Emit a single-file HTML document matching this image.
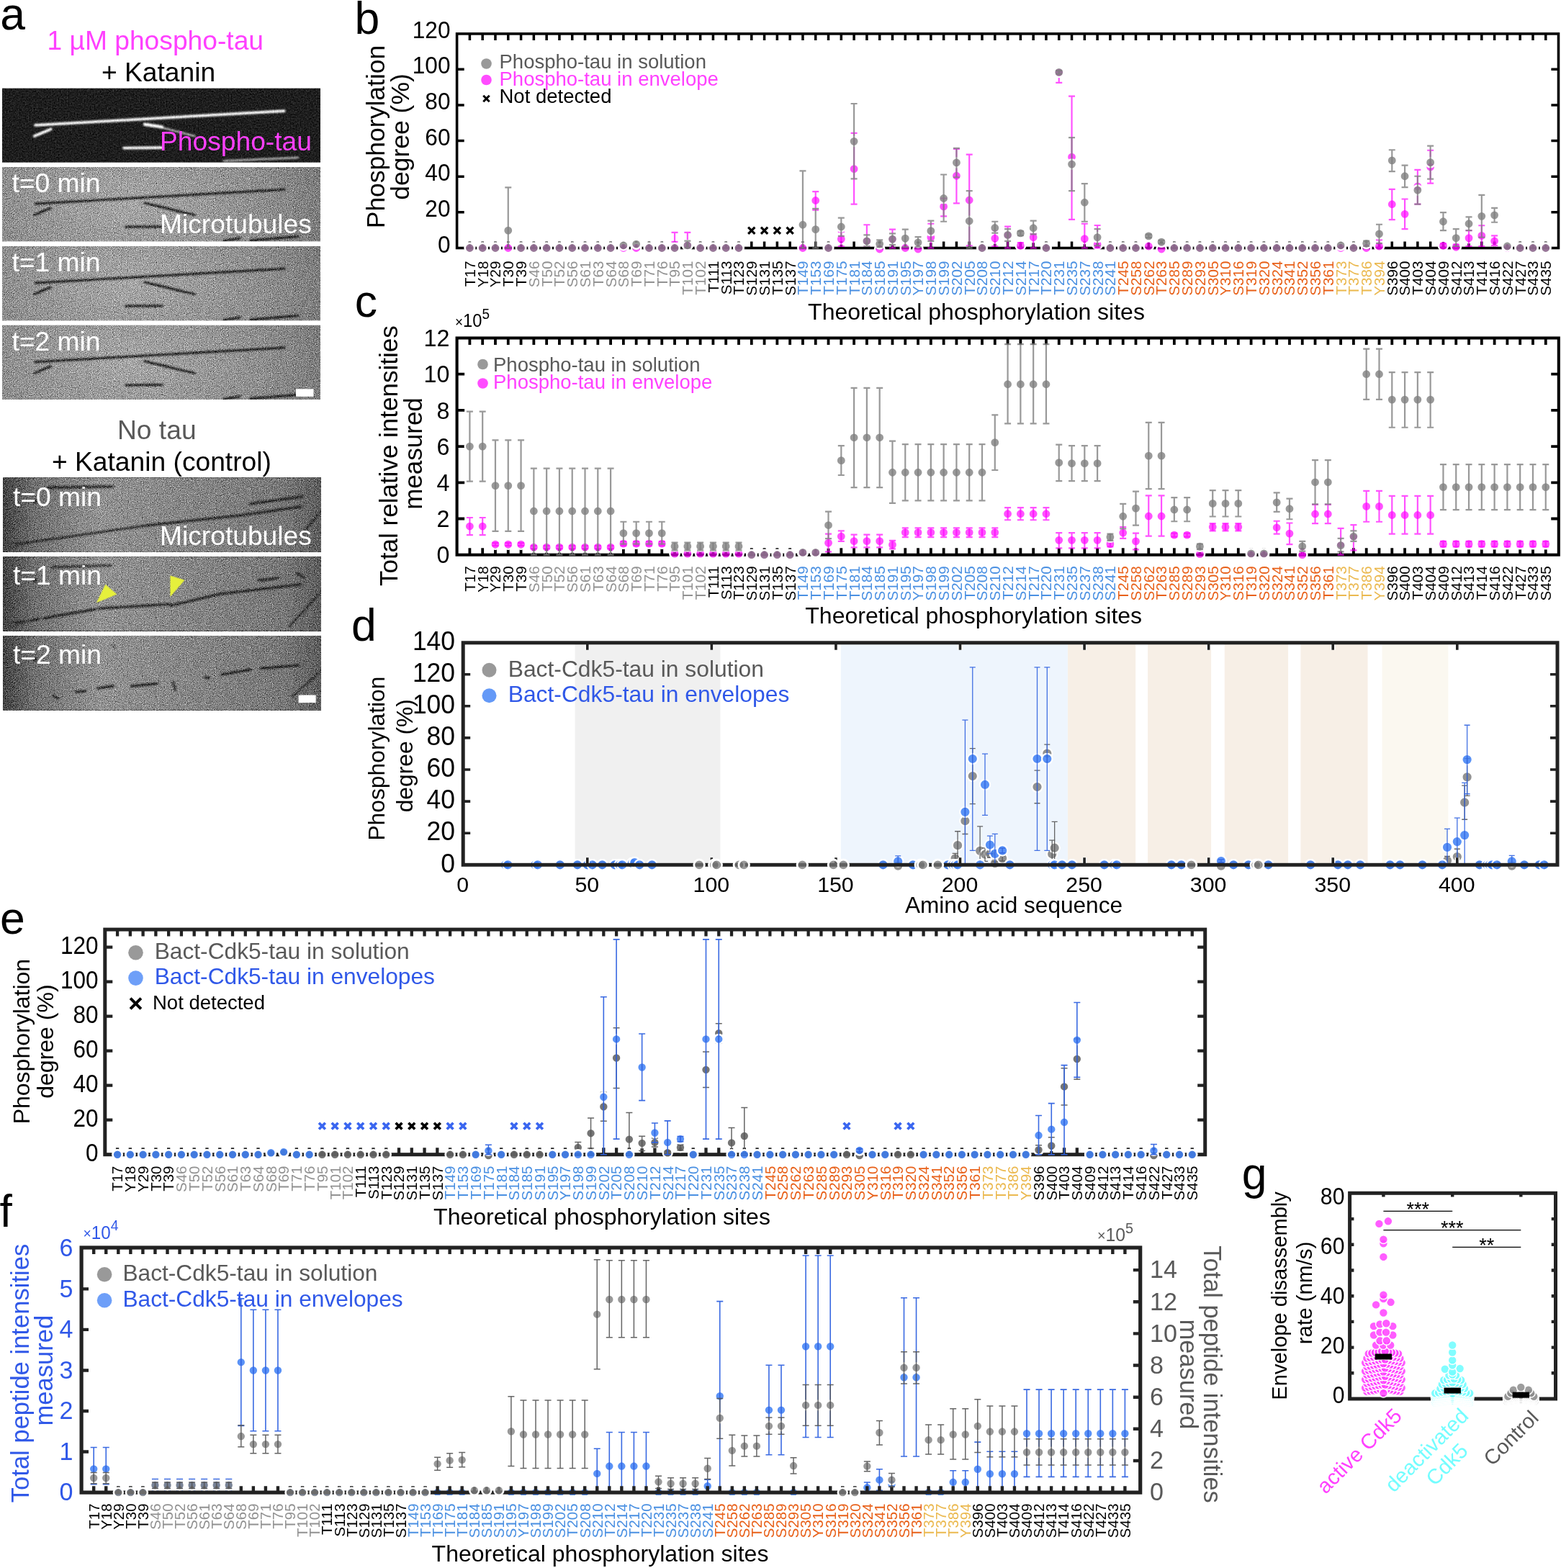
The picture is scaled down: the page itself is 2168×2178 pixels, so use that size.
<!DOCTYPE html>
<html lang="en"><head><meta charset="utf-8"><title>Figure</title>
<style>html,body{margin:0;padding:0;background:#fff}body{width:2168px;height:2178px;overflow:hidden;font-family:"Liberation Sans",Arial,Helvetica,sans-serif}</style></head>
<body>
<svg xmlns="http://www.w3.org/2000/svg" width="2168" height="2178" viewBox="0 0 2168 2178" font-family="'Liberation Sans', Arial, Helvetica, sans-serif" style="display:block">
<rect width="2168" height="2178" fill="#fff"/>
<defs>
<filter id="nz" x="0" y="0" width="100%" height="100%" color-interpolation-filters="sRGB">
<feTurbulence type="fractalNoise" baseFrequency="0.9" numOctaves="2" seed="7" result="t"/>
<feColorMatrix in="t" type="matrix" values="0.6 0.6 0.6 0 -0.4  0.6 0.6 0.6 0 -0.4  0.6 0.6 0.6 0 -0.4  0 0 0 0 1" result="g"/>
<feComposite in="SourceGraphic" in2="g" operator="arithmetic" k1="0" k2="1" k3="1.0" k4="-0.5"/>
</filter>
<filter id="nzd" x="0" y="0" width="100%" height="100%" color-interpolation-filters="sRGB">
<feTurbulence type="fractalNoise" baseFrequency="0.5" numOctaves="2" seed="11" result="t"/>
<feColorMatrix in="t" type="matrix" values="0.6 0.6 0.6 0 -0.4  0.6 0.6 0.6 0 -0.4  0.6 0.6 0.6 0 -0.4  0 0 0 0 1" result="g"/>
<feComposite in="SourceGraphic" in2="g" operator="arithmetic" k1="0" k2="1" k3="0.3" k4="-0.15"/>
</filter>
<filter id="bl" x="-5%" y="-50%" width="110%" height="200%"><feGaussianBlur stdDeviation="0.8"/></filter>
<filter id="bl2" x="-5%" y="-50%" width="110%" height="200%"><feGaussianBlur stdDeviation="1.3"/></filter>
<radialGradient id="gr1" cx="0.4" cy="0.5" r="0.75" gradientTransform="translate(0 0.5) scale(1 2.5) translate(0 -0.5)">
<stop offset="0" stop-color="#a6a6a6"/><stop offset="0.6" stop-color="#8c8c8c"/><stop offset="1" stop-color="#6e6e6e"/></radialGradient>
<linearGradient id="gr2" x1="0" x2="1" y1="0" y2="0">
<stop offset="0" stop-color="#444"/><stop offset="0.1" stop-color="#707070"/><stop offset="0.3" stop-color="#929292"/><stop offset="0.6" stop-color="#858585"/><stop offset="0.88" stop-color="#787878"/><stop offset="1" stop-color="#5c5c5c"/></linearGradient>
</defs>
<svg x="3" y="122.4" width="442" height="103.3" viewBox="0 0 442 103.3" overflow="hidden"><g filter="url(#nzd)"><rect x="0" y="0" width="442" height="103.3" fill="#1e1e1e"/><g filter="url(#bl2)" stroke="#ffffff" stroke-linecap="round" fill="none"><line x1="46" y1="51.5" x2="391.7" y2="31.7" stroke-width="3.8" opacity="1"/><line x1="44.8" y1="66.6" x2="67.6" y2="57" stroke-width="3.8" opacity="1"/><line x1="198" y1="50.3" x2="222" y2="54" stroke-width="4.5" opacity="1"/><line x1="215" y1="53" x2="267.3" y2="66.6" stroke-width="2.5" opacity="0.7"/><line x1="169.2" y1="83.3" x2="221.9" y2="82.8" stroke-width="3.8" opacity="1"/><line x1="308" y1="101.2" x2="410.9" y2="96.5" stroke-width="3" opacity="0.6"/></g></g></svg>
<svg x="3" y="232" width="442" height="103.3" viewBox="0 0 442 103.3" overflow="hidden"><g filter="url(#nz)"><rect x="0" y="0" width="442" height="103.3" fill="url(#gr1)"/><g filter="url(#bl)" stroke="#1c1c1c" stroke-linecap="round" fill="none"><line x1="46" y1="51" x2="391.7" y2="31.2" stroke-width="3" opacity="1"/><line x1="44.8" y1="66.6" x2="67.6" y2="57" stroke-width="3" opacity="1"/><line x1="198" y1="50" x2="267.3" y2="66.6" stroke-width="3" opacity="1"/><line x1="172" y1="83.3" x2="221.9" y2="82.8" stroke-width="3" opacity="1"/><line x1="308" y1="102.5" x2="330" y2="99" stroke-width="3" opacity="1"/><line x1="345" y1="102" x2="410.9" y2="96.5" stroke-width="3" opacity="1"/></g></g></svg>
<svg x="3" y="342" width="442" height="103.3" viewBox="0 0 442 103.3" overflow="hidden"><g filter="url(#nz)"><rect x="0" y="0" width="442" height="103.3" fill="url(#gr1)"/><g filter="url(#bl)" stroke="#1c1c1c" stroke-linecap="round" fill="none"><line x1="46" y1="51" x2="391.7" y2="31.2" stroke-width="3" opacity="1"/><line x1="44.8" y1="66.6" x2="67.6" y2="57" stroke-width="3" opacity="1"/><line x1="198" y1="50" x2="267.3" y2="66.6" stroke-width="3" opacity="1"/><line x1="172" y1="83.3" x2="221.9" y2="82.8" stroke-width="3" opacity="1"/><line x1="308" y1="102.5" x2="330" y2="99" stroke-width="3" opacity="1"/><line x1="345" y1="102" x2="410.9" y2="96.5" stroke-width="3" opacity="1"/></g></g></svg>
<svg x="3" y="451.8" width="442" height="103.3" viewBox="0 0 442 103.3" overflow="hidden"><g filter="url(#nz)"><rect x="0" y="0" width="442" height="103.3" fill="url(#gr1)"/><g filter="url(#bl)" stroke="#1c1c1c" stroke-linecap="round" fill="none"><line x1="46" y1="51" x2="391.7" y2="31.2" stroke-width="3" opacity="1"/><line x1="44.8" y1="66.6" x2="67.6" y2="57" stroke-width="3" opacity="1"/><line x1="198" y1="50" x2="267.3" y2="66.6" stroke-width="3" opacity="1"/><line x1="172" y1="83.3" x2="221.9" y2="82.8" stroke-width="3" opacity="1"/><line x1="308" y1="102.5" x2="330" y2="99" stroke-width="3" opacity="1"/><line x1="345" y1="102" x2="410.9" y2="96.5" stroke-width="3" opacity="1"/></g></g><rect x="408" y="88.5" width="24.5" height="10.5" fill="#fff"/></svg>
<svg x="4.6" y="663.7" width="442" height="103.3" viewBox="0 0 442 103.3" overflow="hidden"><g filter="url(#nz)"><rect x="0" y="0" width="442" height="103.3" fill="url(#gr2)"/><g filter="url(#bl)" stroke="#1c1c1c" stroke-linecap="round" fill="none"><line x1="16" y1="92.5" x2="200" y2="66" stroke-width="2.6" opacity="1"/><line x1="200" y1="66" x2="330" y2="52" stroke-width="2.9" opacity="1"/><line x1="330" y1="52" x2="413" y2="40" stroke-width="2.9" opacity="1"/><line x1="62" y1="13.5" x2="152" y2="12" stroke-width="3.4" opacity="0.9"/><line x1="44" y1="33" x2="45" y2="33" stroke-width="5" opacity="0.9"/><line x1="343" y1="36" x2="416" y2="26" stroke-width="2.8" opacity="1"/><line x1="441" y1="47" x2="416" y2="76" stroke-width="2.2" opacity="0.8"/></g></g></svg>
<svg x="4.6" y="773.2" width="442" height="103.3" viewBox="0 0 442 103.3" overflow="hidden"><g filter="url(#nz)"><rect x="0" y="0" width="442" height="103.3" fill="url(#gr2)"/><g filter="url(#bl)" stroke="#1c1c1c" stroke-linecap="round" fill="none"><line x1="16" y1="92.5" x2="30" y2="90" stroke-width="2.9" opacity="1"/><line x1="36" y1="89" x2="50" y2="86.5" stroke-width="2.9" opacity="1"/><line x1="56" y1="85.5" x2="128" y2="73" stroke-width="2.9" opacity="1"/><line x1="132" y1="72" x2="231" y2="66" stroke-width="2.9" opacity="1"/><line x1="232" y1="68" x2="300" y2="52" stroke-width="2.9" opacity="1"/><line x1="300" y1="52" x2="413" y2="38.5" stroke-width="2.9" opacity="1"/><line x1="68" y1="14.5" x2="150" y2="12" stroke-width="3.2" opacity="0.8"/><line x1="44" y1="33" x2="45" y2="33" stroke-width="5" opacity="0.9"/><line x1="355" y1="33" x2="382" y2="29.5" stroke-width="3" opacity="1"/><line x1="408" y1="23.5" x2="418" y2="29" stroke-width="3" opacity="1"/><line x1="441" y1="49" x2="397" y2="97" stroke-width="2.2" opacity="0.8"/></g></g><polygon points="129.3,63.9 141.8,38.4 157.7,52.3" fill="#e6f03c"/><polygon points="231.8,26.2 251.9,32.5 231.8,55.8" fill="#e6f03c"/></svg>
<svg x="4.6" y="883" width="442" height="103.3" viewBox="0 0 442 103.3" overflow="hidden"><g filter="url(#nz)"><rect x="0" y="0" width="442" height="103.3" fill="url(#gr2)"/><g filter="url(#bl)" stroke="#1c1c1c" stroke-linecap="round" fill="none"><line x1="70" y1="84" x2="76" y2="87" stroke-width="2.9" opacity="1"/><line x1="101" y1="78" x2="114" y2="77" stroke-width="2.9" opacity="1"/><line x1="131" y1="73" x2="153" y2="70" stroke-width="2.9" opacity="1"/><line x1="178" y1="70" x2="214" y2="66.5" stroke-width="2.9" opacity="1"/><line x1="236" y1="64.5" x2="238.5" y2="75" stroke-width="2.8" opacity="1"/><line x1="280" y1="58" x2="286" y2="58.5" stroke-width="2.9" opacity="1"/><line x1="303" y1="54" x2="344" y2="47" stroke-width="2.9" opacity="1"/><line x1="358" y1="45.5" x2="410" y2="41" stroke-width="2.9" opacity="1"/><line x1="441" y1="49" x2="401" y2="85" stroke-width="2.2" opacity="0.8"/><line x1="150" y1="12" x2="156" y2="17" stroke-width="2" opacity="0.6"/><line x1="44" y1="33" x2="45" y2="33" stroke-width="5" opacity="0.9"/></g></g><rect x="410" y="82.5" width="24.2" height="10.7" fill="#fff"/></svg>
<text x="65.5" y="68.7" font-size="37.2" fill="#ff40ff" text-anchor="start">1 µM phospho-tau</text>
<text x="141" y="113" font-size="37.2" fill="#000" text-anchor="start">+ Katanin</text>
<text x="222" y="209.3" font-size="37.2" fill="#ff40ff" text-anchor="start">Phospho-tau</text>
<text x="16.5" y="266.7" font-size="37.2" fill="#fff" text-anchor="start">t=0 min</text>
<text x="16.5" y="376.7" font-size="37.2" fill="#fff" text-anchor="start">t=1 min</text>
<text x="16.5" y="486.5" font-size="37.2" fill="#fff" text-anchor="start">t=2 min</text>
<text x="222" y="324.1" font-size="37.2" fill="#fff" text-anchor="start">Microtubules</text>
<text x="163" y="609.6" font-size="37.2" fill="#595959" text-anchor="start">No tau</text>
<text x="72" y="654" font-size="37.2" fill="#000" text-anchor="start">+ Katanin (control)</text>
<text x="18" y="702.9" font-size="37.2" fill="#fff" text-anchor="start">t=0 min</text>
<text x="18" y="812.4" font-size="37.2" fill="#fff" text-anchor="start">t=1 min</text>
<text x="18" y="922.2" font-size="37.2" fill="#fff" text-anchor="start">t=2 min</text>
<text x="222" y="757" font-size="37.2" fill="#fff" text-anchor="start">Microtubules</text>
<text x="0.2" y="40.5" font-size="62.5" fill="#000" text-anchor="start">a</text>
<path d="M652.4 46.9v9.1M652.4 344.5v-9.1M670.19 46.9v9.1M670.19 344.5v-9.1M687.98 46.9v9.1M687.98 344.5v-9.1M705.77 46.9v9.1M705.77 344.5v-9.1M723.56 46.9v9.1M723.56 344.5v-9.1M741.35 46.9v9.1M741.35 344.5v-9.1M759.14 46.9v9.1M759.14 344.5v-9.1M776.93 46.9v9.1M776.93 344.5v-9.1M794.72 46.9v9.1M794.72 344.5v-9.1M812.51 46.9v9.1M812.51 344.5v-9.1M830.3 46.9v9.1M830.3 344.5v-9.1M848.09 46.9v9.1M848.09 344.5v-9.1M865.88 46.9v9.1M865.88 344.5v-9.1M883.67 46.9v9.1M883.67 344.5v-9.1M901.46 46.9v9.1M901.46 344.5v-9.1M919.25 46.9v9.1M919.25 344.5v-9.1M937.04 46.9v9.1M937.04 344.5v-9.1M954.83 46.9v9.1M954.83 344.5v-9.1M972.62 46.9v9.1M972.62 344.5v-9.1M990.41 46.9v9.1M990.41 344.5v-9.1M1008.2 46.9v9.1M1008.2 344.5v-9.1M1025.99 46.9v9.1M1025.99 344.5v-9.1M1043.78 46.9v9.1M1043.78 344.5v-9.1M1061.57 46.9v9.1M1061.57 344.5v-9.1M1079.36 46.9v9.1M1079.36 344.5v-9.1M1097.15 46.9v9.1M1097.15 344.5v-9.1M1114.94 46.9v9.1M1114.94 344.5v-9.1M1132.73 46.9v9.1M1132.73 344.5v-9.1M1150.52 46.9v9.1M1150.52 344.5v-9.1M1168.31 46.9v9.1M1168.31 344.5v-9.1M1186.1 46.9v9.1M1186.1 344.5v-9.1M1203.89 46.9v9.1M1203.89 344.5v-9.1M1221.68 46.9v9.1M1221.68 344.5v-9.1M1239.47 46.9v9.1M1239.47 344.5v-9.1M1257.26 46.9v9.1M1257.26 344.5v-9.1M1275.05 46.9v9.1M1275.05 344.5v-9.1M1292.84 46.9v9.1M1292.84 344.5v-9.1M1310.63 46.9v9.1M1310.63 344.5v-9.1M1328.42 46.9v9.1M1328.42 344.5v-9.1M1346.21 46.9v9.1M1346.21 344.5v-9.1M1364 46.9v9.1M1364 344.5v-9.1M1381.79 46.9v9.1M1381.79 344.5v-9.1M1399.58 46.9v9.1M1399.58 344.5v-9.1M1417.37 46.9v9.1M1417.37 344.5v-9.1M1435.16 46.9v9.1M1435.16 344.5v-9.1M1452.95 46.9v9.1M1452.95 344.5v-9.1M1470.74 46.9v9.1M1470.74 344.5v-9.1M1488.53 46.9v9.1M1488.53 344.5v-9.1M1506.32 46.9v9.1M1506.32 344.5v-9.1M1524.11 46.9v9.1M1524.11 344.5v-9.1M1541.9 46.9v9.1M1541.9 344.5v-9.1M1559.69 46.9v9.1M1559.69 344.5v-9.1M1577.48 46.9v9.1M1577.48 344.5v-9.1M1595.27 46.9v9.1M1595.27 344.5v-9.1M1613.06 46.9v9.1M1613.06 344.5v-9.1M1630.85 46.9v9.1M1630.85 344.5v-9.1M1648.64 46.9v9.1M1648.64 344.5v-9.1M1666.43 46.9v9.1M1666.43 344.5v-9.1M1684.22 46.9v9.1M1684.22 344.5v-9.1M1702.01 46.9v9.1M1702.01 344.5v-9.1M1719.8 46.9v9.1M1719.8 344.5v-9.1M1737.59 46.9v9.1M1737.59 344.5v-9.1M1755.38 46.9v9.1M1755.38 344.5v-9.1M1773.17 46.9v9.1M1773.17 344.5v-9.1M1790.96 46.9v9.1M1790.96 344.5v-9.1M1808.75 46.9v9.1M1808.75 344.5v-9.1M1826.54 46.9v9.1M1826.54 344.5v-9.1M1844.33 46.9v9.1M1844.33 344.5v-9.1M1862.12 46.9v9.1M1862.12 344.5v-9.1M1879.91 46.9v9.1M1879.91 344.5v-9.1M1897.7 46.9v9.1M1897.7 344.5v-9.1M1915.49 46.9v9.1M1915.49 344.5v-9.1M1933.28 46.9v9.1M1933.28 344.5v-9.1M1951.07 46.9v9.1M1951.07 344.5v-9.1M1968.86 46.9v9.1M1968.86 344.5v-9.1M1986.65 46.9v9.1M1986.65 344.5v-9.1M2004.44 46.9v9.1M2004.44 344.5v-9.1M2022.23 46.9v9.1M2022.23 344.5v-9.1M2040.02 46.9v9.1M2040.02 344.5v-9.1M2057.81 46.9v9.1M2057.81 344.5v-9.1M2075.6 46.9v9.1M2075.6 344.5v-9.1M2093.39 46.9v9.1M2093.39 344.5v-9.1M2111.18 46.9v9.1M2111.18 344.5v-9.1M2128.97 46.9v9.1M2128.97 344.5v-9.1M2146.76 46.9v9.1M2146.76 344.5v-9.1M634.6 294.87h10.1M634.6 245.24h10.1M634.6 195.61h10.1M634.6 145.98h10.1M634.6 96.35h10.1M2164.5 294.87h-10.1M2164.5 245.24h-10.1M2164.5 195.61h-10.1M2164.5 145.98h-10.1M2164.5 96.35h-10.1" stroke="#000" stroke-width="3.5" fill="none"/><rect x="634.6" y="46.9" width="1529.9" height="297.6" fill="none" stroke="#000" stroke-width="3.6"/>
<text transform="translate(625.5 350.5) scale(0.93 1)" font-size="34" fill="#000" text-anchor="end">0</text><text transform="translate(625.5 300.87) scale(0.93 1)" font-size="34" fill="#000" text-anchor="end">20</text><text transform="translate(625.5 251.24) scale(0.93 1)" font-size="34" fill="#000" text-anchor="end">40</text><text transform="translate(625.5 201.61) scale(0.93 1)" font-size="34" fill="#000" text-anchor="end">60</text><text transform="translate(625.5 151.98) scale(0.93 1)" font-size="34" fill="#000" text-anchor="end">80</text><text transform="translate(625.5 102.35) scale(0.93 1)" font-size="34" fill="#000" text-anchor="end">100</text><text transform="translate(625.5 52.72) scale(0.93 1)" font-size="34" fill="#000" text-anchor="end">120</text>
<g><text transform="translate(659.81 362.5) rotate(-90)" font-size="20.7" fill="#000" text-anchor="end">T17</text><text transform="translate(677.6 362.5) rotate(-90)" font-size="20.7" fill="#000" text-anchor="end">Y18</text><text transform="translate(695.39 362.5) rotate(-90)" font-size="20.7" fill="#000" text-anchor="end">Y29</text><text transform="translate(713.18 362.5) rotate(-90)" font-size="20.7" fill="#000" text-anchor="end">T30</text><text transform="translate(730.97 362.5) rotate(-90)" font-size="20.7" fill="#000" text-anchor="end">T39</text><text transform="translate(748.76 362.5) rotate(-90)" font-size="20.7" fill="#929292" text-anchor="end">S46</text><text transform="translate(766.55 362.5) rotate(-90)" font-size="20.7" fill="#929292" text-anchor="end">T50</text><text transform="translate(784.34 362.5) rotate(-90)" font-size="20.7" fill="#929292" text-anchor="end">T52</text><text transform="translate(802.13 362.5) rotate(-90)" font-size="20.7" fill="#929292" text-anchor="end">S56</text><text transform="translate(819.92 362.5) rotate(-90)" font-size="20.7" fill="#929292" text-anchor="end">S61</text><text transform="translate(837.71 362.5) rotate(-90)" font-size="20.7" fill="#929292" text-anchor="end">T63</text><text transform="translate(855.5 362.5) rotate(-90)" font-size="20.7" fill="#929292" text-anchor="end">S64</text><text transform="translate(873.29 362.5) rotate(-90)" font-size="20.7" fill="#929292" text-anchor="end">S68</text><text transform="translate(891.08 362.5) rotate(-90)" font-size="20.7" fill="#929292" text-anchor="end">T69</text><text transform="translate(908.87 362.5) rotate(-90)" font-size="20.7" fill="#929292" text-anchor="end">T71</text><text transform="translate(926.66 362.5) rotate(-90)" font-size="20.7" fill="#929292" text-anchor="end">T76</text><text transform="translate(944.45 362.5) rotate(-90)" font-size="20.7" fill="#929292" text-anchor="end">T95</text><text transform="translate(962.24 362.5) rotate(-90)" font-size="20.7" fill="#929292" text-anchor="end">T101</text><text transform="translate(980.03 362.5) rotate(-90)" font-size="20.7" fill="#929292" text-anchor="end">T102</text><text transform="translate(997.82 362.5) rotate(-90)" font-size="20.7" fill="#000" text-anchor="end">T111</text><text transform="translate(1015.61 362.5) rotate(-90)" font-size="20.7" fill="#000" text-anchor="end">S113</text><text transform="translate(1033.4 362.5) rotate(-90)" font-size="20.7" fill="#000" text-anchor="end">T123</text><text transform="translate(1051.19 362.5) rotate(-90)" font-size="20.7" fill="#000" text-anchor="end">S129</text><text transform="translate(1068.98 362.5) rotate(-90)" font-size="20.7" fill="#000" text-anchor="end">S131</text><text transform="translate(1086.77 362.5) rotate(-90)" font-size="20.7" fill="#000" text-anchor="end">T135</text><text transform="translate(1104.56 362.5) rotate(-90)" font-size="20.7" fill="#000" text-anchor="end">S137</text><text transform="translate(1122.35 362.5) rotate(-90)" font-size="20.7" fill="#4a90e2" text-anchor="end">T149</text><text transform="translate(1140.14 362.5) rotate(-90)" font-size="20.7" fill="#4a90e2" text-anchor="end">T153</text><text transform="translate(1157.93 362.5) rotate(-90)" font-size="20.7" fill="#4a90e2" text-anchor="end">T169</text><text transform="translate(1175.72 362.5) rotate(-90)" font-size="20.7" fill="#4a90e2" text-anchor="end">T175</text><text transform="translate(1193.51 362.5) rotate(-90)" font-size="20.7" fill="#4a90e2" text-anchor="end">T181</text><text transform="translate(1211.3 362.5) rotate(-90)" font-size="20.7" fill="#4a90e2" text-anchor="end">S184</text><text transform="translate(1229.09 362.5) rotate(-90)" font-size="20.7" fill="#4a90e2" text-anchor="end">S185</text><text transform="translate(1246.88 362.5) rotate(-90)" font-size="20.7" fill="#4a90e2" text-anchor="end">S191</text><text transform="translate(1264.67 362.5) rotate(-90)" font-size="20.7" fill="#4a90e2" text-anchor="end">S195</text><text transform="translate(1282.46 362.5) rotate(-90)" font-size="20.7" fill="#4a90e2" text-anchor="end">Y197</text><text transform="translate(1300.25 362.5) rotate(-90)" font-size="20.7" fill="#4a90e2" text-anchor="end">S198</text><text transform="translate(1318.04 362.5) rotate(-90)" font-size="20.7" fill="#4a90e2" text-anchor="end">S199</text><text transform="translate(1335.83 362.5) rotate(-90)" font-size="20.7" fill="#4a90e2" text-anchor="end">S202</text><text transform="translate(1353.62 362.5) rotate(-90)" font-size="20.7" fill="#4a90e2" text-anchor="end">T205</text><text transform="translate(1371.41 362.5) rotate(-90)" font-size="20.7" fill="#4a90e2" text-anchor="end">S208</text><text transform="translate(1389.2 362.5) rotate(-90)" font-size="20.7" fill="#4a90e2" text-anchor="end">S210</text><text transform="translate(1406.99 362.5) rotate(-90)" font-size="20.7" fill="#4a90e2" text-anchor="end">T212</text><text transform="translate(1424.78 362.5) rotate(-90)" font-size="20.7" fill="#4a90e2" text-anchor="end">S214</text><text transform="translate(1442.57 362.5) rotate(-90)" font-size="20.7" fill="#4a90e2" text-anchor="end">T217</text><text transform="translate(1460.36 362.5) rotate(-90)" font-size="20.7" fill="#4a90e2" text-anchor="end">T220</text><text transform="translate(1478.15 362.5) rotate(-90)" font-size="20.7" fill="#4a90e2" text-anchor="end">T231</text><text transform="translate(1495.94 362.5) rotate(-90)" font-size="20.7" fill="#4a90e2" text-anchor="end">S235</text><text transform="translate(1513.73 362.5) rotate(-90)" font-size="20.7" fill="#4a90e2" text-anchor="end">S237</text><text transform="translate(1531.52 362.5) rotate(-90)" font-size="20.7" fill="#4a90e2" text-anchor="end">S238</text><text transform="translate(1549.31 362.5) rotate(-90)" font-size="20.7" fill="#4a90e2" text-anchor="end">S241</text><text transform="translate(1567.1 362.5) rotate(-90)" font-size="20.7" fill="#e8611a" text-anchor="end">T245</text><text transform="translate(1584.89 362.5) rotate(-90)" font-size="20.7" fill="#e8611a" text-anchor="end">S258</text><text transform="translate(1602.68 362.5) rotate(-90)" font-size="20.7" fill="#e8611a" text-anchor="end">S262</text><text transform="translate(1620.47 362.5) rotate(-90)" font-size="20.7" fill="#e8611a" text-anchor="end">T263</text><text transform="translate(1638.26 362.5) rotate(-90)" font-size="20.7" fill="#e8611a" text-anchor="end">S285</text><text transform="translate(1656.05 362.5) rotate(-90)" font-size="20.7" fill="#e8611a" text-anchor="end">S289</text><text transform="translate(1673.84 362.5) rotate(-90)" font-size="20.7" fill="#e8611a" text-anchor="end">S293</text><text transform="translate(1691.63 362.5) rotate(-90)" font-size="20.7" fill="#e8611a" text-anchor="end">S305</text><text transform="translate(1709.42 362.5) rotate(-90)" font-size="20.7" fill="#e8611a" text-anchor="end">Y310</text><text transform="translate(1727.21 362.5) rotate(-90)" font-size="20.7" fill="#e8611a" text-anchor="end">S316</text><text transform="translate(1745 362.5) rotate(-90)" font-size="20.7" fill="#e8611a" text-anchor="end">T319</text><text transform="translate(1762.79 362.5) rotate(-90)" font-size="20.7" fill="#e8611a" text-anchor="end">S320</text><text transform="translate(1780.58 362.5) rotate(-90)" font-size="20.7" fill="#e8611a" text-anchor="end">S324</text><text transform="translate(1798.37 362.5) rotate(-90)" font-size="20.7" fill="#e8611a" text-anchor="end">S341</text><text transform="translate(1816.16 362.5) rotate(-90)" font-size="20.7" fill="#e8611a" text-anchor="end">S352</text><text transform="translate(1833.95 362.5) rotate(-90)" font-size="20.7" fill="#e8611a" text-anchor="end">S356</text><text transform="translate(1851.74 362.5) rotate(-90)" font-size="20.7" fill="#e8611a" text-anchor="end">T361</text><text transform="translate(1869.53 362.5) rotate(-90)" font-size="20.7" fill="#ebb950" text-anchor="end">T373</text><text transform="translate(1887.32 362.5) rotate(-90)" font-size="20.7" fill="#ebb950" text-anchor="end">T377</text><text transform="translate(1905.11 362.5) rotate(-90)" font-size="20.7" fill="#ebb950" text-anchor="end">T386</text><text transform="translate(1922.9 362.5) rotate(-90)" font-size="20.7" fill="#ebb950" text-anchor="end">Y394</text><text transform="translate(1940.69 362.5) rotate(-90)" font-size="20.7" fill="#000" text-anchor="end">S396</text><text transform="translate(1958.48 362.5) rotate(-90)" font-size="20.7" fill="#000" text-anchor="end">S400</text><text transform="translate(1976.27 362.5) rotate(-90)" font-size="20.7" fill="#000" text-anchor="end">T403</text><text transform="translate(1994.06 362.5) rotate(-90)" font-size="20.7" fill="#000" text-anchor="end">S404</text><text transform="translate(2011.85 362.5) rotate(-90)" font-size="20.7" fill="#000" text-anchor="end">S409</text><text transform="translate(2029.64 362.5) rotate(-90)" font-size="20.7" fill="#000" text-anchor="end">S412</text><text transform="translate(2047.43 362.5) rotate(-90)" font-size="20.7" fill="#000" text-anchor="end">S413</text><text transform="translate(2065.22 362.5) rotate(-90)" font-size="20.7" fill="#000" text-anchor="end">T414</text><text transform="translate(2083.01 362.5) rotate(-90)" font-size="20.7" fill="#000" text-anchor="end">S416</text><text transform="translate(2100.8 362.5) rotate(-90)" font-size="20.7" fill="#000" text-anchor="end">S422</text><text transform="translate(2118.59 362.5) rotate(-90)" font-size="20.7" fill="#000" text-anchor="end">T427</text><text transform="translate(2136.38 362.5) rotate(-90)" font-size="20.7" fill="#000" text-anchor="end">S433</text><text transform="translate(2154.17 362.5) rotate(-90)" font-size="20.7" fill="#000" text-anchor="end">S435</text></g>
<g fill="#ff00ff" fill-opacity="0.68" stroke="#fff" stroke-width="2.5"><circle cx="652.4" cy="344.5" r="6.65"/><circle cx="670.19" cy="344.5" r="6.65"/><circle cx="687.98" cy="344.5" r="6.65"/><circle cx="705.77" cy="344.5" r="6.65"/><circle cx="723.56" cy="344.5" r="6.65"/><circle cx="741.35" cy="344.5" r="6.65"/><circle cx="759.14" cy="344.5" r="6.65"/><circle cx="776.93" cy="344.5" r="6.65"/><circle cx="794.72" cy="344.5" r="6.65"/><circle cx="812.51" cy="344.5" r="6.65"/><circle cx="830.3" cy="344.5" r="6.65"/><circle cx="848.09" cy="344.5" r="6.65"/><circle cx="865.88" cy="344.5" r="6.65"/><circle cx="883.67" cy="344.5" r="6.65"/><circle cx="901.46" cy="344.5" r="6.65"/><circle cx="919.25" cy="344.5" r="6.65"/><circle cx="937.04" cy="344.5" r="6.65"/><circle cx="954.83" cy="340.78" r="6.65"/><circle cx="972.62" cy="344.5" r="6.65"/><circle cx="990.41" cy="344.5" r="6.65"/><circle cx="1008.2" cy="344.5" r="6.65"/><circle cx="1025.99" cy="344.5" r="6.65"/><circle cx="1114.94" cy="344.5" r="6.65"/><circle cx="1132.73" cy="278.49" r="6.65"/><circle cx="1150.52" cy="344.5" r="6.65"/><circle cx="1168.31" cy="332.09" r="6.65"/><circle cx="1186.1" cy="234.57" r="6.65"/><circle cx="1203.89" cy="334.57" r="6.65"/><circle cx="1221.68" cy="345.99" r="6.65"/><circle cx="1239.47" cy="332.59" r="6.65"/><circle cx="1257.26" cy="344.5" r="6.65"/><circle cx="1275.05" cy="345.99" r="6.65"/><circle cx="1292.84" cy="329.61" r="6.65"/><circle cx="1310.63" cy="286.93" r="6.65"/><circle cx="1328.42" cy="244.25" r="6.65"/><circle cx="1346.21" cy="278" r="6.65"/><circle cx="1364" cy="344.5" r="6.65"/><circle cx="1381.79" cy="331.1" r="6.65"/><circle cx="1399.58" cy="327.13" r="6.65"/><circle cx="1417.37" cy="341.27" r="6.65"/><circle cx="1435.16" cy="329.61" r="6.65"/><circle cx="1452.95" cy="344.5" r="6.65"/><circle cx="1470.74" cy="101.31" r="6.65"/><circle cx="1488.53" cy="218.19" r="6.65"/><circle cx="1506.32" cy="331.6" r="6.65"/><circle cx="1524.11" cy="339.54" r="6.65"/><circle cx="1541.9" cy="344.5" r="6.65"/><circle cx="1559.69" cy="344.5" r="6.65"/><circle cx="1577.48" cy="344.5" r="6.65"/><circle cx="1595.27" cy="342.02" r="6.65"/><circle cx="1613.06" cy="345.99" r="6.65"/><circle cx="1630.85" cy="344.5" r="6.65"/><circle cx="1648.64" cy="344.5" r="6.65"/><circle cx="1666.43" cy="344.5" r="6.65"/><circle cx="1684.22" cy="344.5" r="6.65"/><circle cx="1702.01" cy="344.5" r="6.65"/><circle cx="1719.8" cy="344.5" r="6.65"/><circle cx="1737.59" cy="344.5" r="6.65"/><circle cx="1755.38" cy="344.5" r="6.65"/><circle cx="1773.17" cy="344.5" r="6.65"/><circle cx="1790.96" cy="344.5" r="6.65"/><circle cx="1808.75" cy="344.5" r="6.65"/><circle cx="1826.54" cy="344.5" r="6.65"/><circle cx="1844.33" cy="344.5" r="6.65"/><circle cx="1862.12" cy="344.5" r="6.65"/><circle cx="1879.91" cy="344.5" r="6.65"/><circle cx="1897.7" cy="344.5" r="6.65"/><circle cx="1915.49" cy="342.02" r="6.65"/><circle cx="1933.28" cy="283.7" r="6.65"/><circle cx="1951.07" cy="297.35" r="6.65"/><circle cx="1968.86" cy="258.89" r="6.65"/><circle cx="1986.65" cy="231.84" r="6.65"/><circle cx="2004.44" cy="341.27" r="6.65"/><circle cx="2022.23" cy="343.26" r="6.65"/><circle cx="2040.02" cy="330.6" r="6.65"/><circle cx="2057.81" cy="327.38" r="6.65"/><circle cx="2075.6" cy="334.82" r="6.65"/><circle cx="2093.39" cy="344.5" r="6.65"/><circle cx="2111.18" cy="344.5" r="6.65"/><circle cx="2128.97" cy="344.5" r="6.65"/><circle cx="2146.76" cy="344.5" r="6.65"/></g><path d="M937.04 335.81V322.91M932.54 335.81H941.54M932.54 322.91H941.54" stroke="#ff00ff" stroke-width="2.2" fill="none" opacity="0.68"/><path d="M954.83 335.81V322.91M950.33 335.81H959.33M950.33 322.91H959.33" stroke="#ff00ff" stroke-width="2.2" fill="none" opacity="0.68"/><path d="M1132.73 291.64V266.08M1128.23 291.64H1137.23M1128.23 266.08H1137.23" stroke="#ff00ff" stroke-width="2.2" fill="none" opacity="0.68"/><path d="M1168.31 342.02V322.17M1163.81 342.02H1172.81M1163.81 322.17H1172.81" stroke="#ff00ff" stroke-width="2.2" fill="none" opacity="0.68"/><path d="M1186.1 283.7V184.94M1181.6 283.7H1190.6M1181.6 184.94H1190.6" stroke="#ff00ff" stroke-width="2.2" fill="none" opacity="0.68"/><path d="M1203.89 342.02V312.24M1199.39 342.02H1208.39M1199.39 312.24H1208.39" stroke="#ff00ff" stroke-width="2.2" fill="none" opacity="0.68"/><path d="M1239.47 344.5V318.69M1234.97 344.5H1243.97M1234.97 318.69H1243.97" stroke="#ff00ff" stroke-width="2.2" fill="none" opacity="0.68"/><path d="M1292.84 344.5V310.75M1288.34 344.5H1297.34M1288.34 310.75H1297.34" stroke="#ff00ff" stroke-width="2.2" fill="none" opacity="0.68"/><path d="M1310.63 300.33V275.51M1306.13 300.33H1315.13M1306.13 275.51H1315.13" stroke="#ff00ff" stroke-width="2.2" fill="none" opacity="0.68"/><path d="M1328.42 282.46V206.78M1323.92 282.46H1332.92M1323.92 206.78H1332.92" stroke="#ff00ff" stroke-width="2.2" fill="none" opacity="0.68"/><path d="M1346.21 341.27V214.72M1341.71 341.27H1350.71M1341.71 214.72H1350.71" stroke="#ff00ff" stroke-width="2.2" fill="none" opacity="0.68"/><path d="M1381.79 342.02V320.93M1377.29 342.02H1386.29M1377.29 320.93H1386.29" stroke="#ff00ff" stroke-width="2.2" fill="none" opacity="0.68"/><path d="M1399.58 344.5V314.72M1395.08 344.5H1404.08M1395.08 314.72H1404.08" stroke="#ff00ff" stroke-width="2.2" fill="none" opacity="0.68"/><path d="M1417.37 344.5V337.06M1412.87 344.5H1421.87M1412.87 337.06H1421.87" stroke="#ff00ff" stroke-width="2.2" fill="none" opacity="0.68"/><path d="M1435.16 344.5V324.65M1430.66 344.5H1439.66M1430.66 324.65H1439.66" stroke="#ff00ff" stroke-width="2.2" fill="none" opacity="0.68"/><path d="M1470.74 114.96V97.59M1466.24 114.96H1475.24M1466.24 97.59H1475.24" stroke="#ff00ff" stroke-width="2.2" fill="none" opacity="0.68"/><path d="M1488.53 304.8V133.57M1484.03 304.8H1493.03M1484.03 133.57H1493.03" stroke="#ff00ff" stroke-width="2.2" fill="none" opacity="0.68"/><path d="M1506.32 344.5V310.75M1501.82 344.5H1510.82M1501.82 310.75H1510.82" stroke="#ff00ff" stroke-width="2.2" fill="none" opacity="0.68"/><path d="M1524.11 344.5V312.98M1519.61 344.5H1528.61M1519.61 312.98H1528.61" stroke="#ff00ff" stroke-width="2.2" fill="none" opacity="0.68"/><path d="M1915.49 344.5V333.33M1910.99 344.5H1919.99M1910.99 333.33H1919.99" stroke="#ff00ff" stroke-width="2.2" fill="none" opacity="0.68"/><path d="M1933.28 305.04V262.86M1928.78 305.04H1937.78M1928.78 262.86H1937.78" stroke="#ff00ff" stroke-width="2.2" fill="none" opacity="0.68"/><path d="M1951.07 318.2V276.51M1946.57 318.2H1955.57M1946.57 276.51H1955.57" stroke="#ff00ff" stroke-width="2.2" fill="none" opacity="0.68"/><path d="M1968.86 283.7V235.81M1964.36 283.7H1973.36M1964.36 235.81H1973.36" stroke="#ff00ff" stroke-width="2.2" fill="none" opacity="0.68"/><path d="M1986.65 254.67V208.76M1982.15 254.67H1991.15M1982.15 208.76H1991.15" stroke="#ff00ff" stroke-width="2.2" fill="none" opacity="0.68"/><path d="M2004.44 344.5V338.3M1999.94 344.5H2008.94M1999.94 338.3H2008.94" stroke="#ff00ff" stroke-width="2.2" fill="none" opacity="0.68"/><path d="M2022.23 344.5V339.54M2017.73 344.5H2026.73M2017.73 339.54H2026.73" stroke="#ff00ff" stroke-width="2.2" fill="none" opacity="0.68"/><path d="M2040.02 342.02V320.18M2035.52 342.02H2044.52M2035.52 320.18H2044.52" stroke="#ff00ff" stroke-width="2.2" fill="none" opacity="0.68"/><path d="M2057.81 342.02V313.23M2053.31 342.02H2062.31M2053.31 313.23H2062.31" stroke="#ff00ff" stroke-width="2.2" fill="none" opacity="0.68"/><path d="M2075.6 341.03V327.38M2071.1 341.03H2080.1M2071.1 327.38H2080.1" stroke="#ff00ff" stroke-width="2.2" fill="none" opacity="0.68"/>
<g fill="#7f7f7f" fill-opacity="0.8" stroke="#fff" stroke-width="2.5"><circle cx="652.4" cy="344.5" r="6.65"/><circle cx="670.19" cy="344.5" r="6.65"/><circle cx="687.98" cy="344.5" r="6.65"/><circle cx="705.77" cy="320.18" r="6.65"/><circle cx="723.56" cy="344.5" r="6.65"/><circle cx="741.35" cy="344.5" r="6.65"/><circle cx="759.14" cy="344.5" r="6.65"/><circle cx="776.93" cy="344.5" r="6.65"/><circle cx="794.72" cy="344.5" r="6.65"/><circle cx="812.51" cy="344.5" r="6.65"/><circle cx="830.3" cy="344.5" r="6.65"/><circle cx="848.09" cy="344.5" r="6.65"/><circle cx="865.88" cy="340.78" r="6.65"/><circle cx="883.67" cy="339.04" r="6.65"/><circle cx="901.46" cy="344.5" r="6.65"/><circle cx="919.25" cy="344.5" r="6.65"/><circle cx="937.04" cy="344.5" r="6.65"/><circle cx="954.83" cy="340.78" r="6.65"/><circle cx="972.62" cy="344.5" r="6.65"/><circle cx="990.41" cy="344.5" r="6.65"/><circle cx="1008.2" cy="344.5" r="6.65"/><circle cx="1025.99" cy="344.5" r="6.65"/><circle cx="1114.94" cy="312.24" r="6.65"/><circle cx="1132.73" cy="318.69" r="6.65"/><circle cx="1150.52" cy="344.5" r="6.65"/><circle cx="1168.31" cy="314.97" r="6.65"/><circle cx="1186.1" cy="196.35" r="6.65"/><circle cx="1203.89" cy="334.82" r="6.65"/><circle cx="1221.68" cy="338.79" r="6.65"/><circle cx="1239.47" cy="332.09" r="6.65"/><circle cx="1257.26" cy="331.1" r="6.65"/><circle cx="1275.05" cy="336.81" r="6.65"/><circle cx="1292.84" cy="320.68" r="6.65"/><circle cx="1310.63" cy="275.51" r="6.65"/><circle cx="1328.42" cy="225.88" r="6.65"/><circle cx="1346.21" cy="307.03" r="6.65"/><circle cx="1364" cy="344.5" r="6.65"/><circle cx="1381.79" cy="316.46" r="6.65"/><circle cx="1399.58" cy="326.39" r="6.65"/><circle cx="1417.37" cy="323.9" r="6.65"/><circle cx="1435.16" cy="316.71" r="6.65"/><circle cx="1452.95" cy="344.5" r="6.65"/><circle cx="1470.74" cy="100.32" r="6.65"/><circle cx="1488.53" cy="228.12" r="6.65"/><circle cx="1506.32" cy="281.22" r="6.65"/><circle cx="1524.11" cy="329.61" r="6.65"/><circle cx="1541.9" cy="344.5" r="6.65"/><circle cx="1559.69" cy="344.5" r="6.65"/><circle cx="1577.48" cy="344.5" r="6.65"/><circle cx="1595.27" cy="327.87" r="6.65"/><circle cx="1613.06" cy="336.06" r="6.65"/><circle cx="1630.85" cy="344.5" r="6.65"/><circle cx="1648.64" cy="344.5" r="6.65"/><circle cx="1666.43" cy="344.5" r="6.65"/><circle cx="1684.22" cy="344.5" r="6.65"/><circle cx="1702.01" cy="344.5" r="6.65"/><circle cx="1719.8" cy="344.5" r="6.65"/><circle cx="1737.59" cy="344.5" r="6.65"/><circle cx="1755.38" cy="344.5" r="6.65"/><circle cx="1773.17" cy="344.5" r="6.65"/><circle cx="1790.96" cy="344.5" r="6.65"/><circle cx="1808.75" cy="344.5" r="6.65"/><circle cx="1826.54" cy="344.5" r="6.65"/><circle cx="1844.33" cy="344.5" r="6.65"/><circle cx="1862.12" cy="340.78" r="6.65"/><circle cx="1879.91" cy="344.5" r="6.65"/><circle cx="1897.7" cy="338.3" r="6.65"/><circle cx="1915.49" cy="324.9" r="6.65"/><circle cx="1933.28" cy="222.91" r="6.65"/><circle cx="1951.07" cy="244.74" r="6.65"/><circle cx="1968.86" cy="264.1" r="6.65"/><circle cx="1986.65" cy="225.64" r="6.65"/><circle cx="2004.44" cy="307.77" r="6.65"/><circle cx="2022.23" cy="330.6" r="6.65"/><circle cx="2040.02" cy="310.75" r="6.65"/><circle cx="2057.81" cy="300.33" r="6.65"/><circle cx="2075.6" cy="298.84" r="6.65"/><circle cx="2093.39" cy="342.02" r="6.65"/><circle cx="2111.18" cy="344.5" r="6.65"/><circle cx="2128.97" cy="344.5" r="6.65"/><circle cx="2146.76" cy="344.5" r="6.65"/></g><path d="M705.77 344.5V260.38M701.27 344.5H710.27M701.27 260.38H710.27" stroke="#7f7f7f" stroke-width="2.2" fill="none" opacity="0.8"/><path d="M954.83 344.5V334.57M950.33 344.5H959.33M950.33 334.57H959.33" stroke="#7f7f7f" stroke-width="2.2" fill="none" opacity="0.8"/><path d="M1114.94 344.5V237.3M1110.44 344.5H1119.44M1110.44 237.3H1119.44" stroke="#7f7f7f" stroke-width="2.2" fill="none" opacity="0.8"/><path d="M1132.73 344.5V289.91M1128.23 344.5H1137.23M1128.23 289.91H1137.23" stroke="#7f7f7f" stroke-width="2.2" fill="none" opacity="0.8"/><path d="M1168.31 327.87V302.56M1163.81 327.87H1172.81M1163.81 302.56H1172.81" stroke="#7f7f7f" stroke-width="2.2" fill="none" opacity="0.8"/><path d="M1186.1 248.47V143.99M1181.6 248.47H1190.6M1181.6 143.99H1190.6" stroke="#7f7f7f" stroke-width="2.2" fill="none" opacity="0.8"/><path d="M1203.89 342.02V326.39M1199.39 342.02H1208.39M1199.39 326.39H1208.39" stroke="#7f7f7f" stroke-width="2.2" fill="none" opacity="0.8"/><path d="M1221.68 343.26V333.33M1217.18 343.26H1226.18M1217.18 333.33H1226.18" stroke="#7f7f7f" stroke-width="2.2" fill="none" opacity="0.8"/><path d="M1239.47 340.03V324.4M1234.97 340.03H1243.97M1234.97 324.4H1243.97" stroke="#7f7f7f" stroke-width="2.2" fill="none" opacity="0.8"/><path d="M1257.26 343.01V318.69M1252.76 343.01H1261.76M1252.76 318.69H1261.76" stroke="#7f7f7f" stroke-width="2.2" fill="none" opacity="0.8"/><path d="M1275.05 343.01V329.11M1270.55 343.01H1279.55M1270.55 329.11H1279.55" stroke="#7f7f7f" stroke-width="2.2" fill="none" opacity="0.8"/><path d="M1292.84 334.82V306.53M1288.34 334.82H1297.34M1288.34 306.53H1297.34" stroke="#7f7f7f" stroke-width="2.2" fill="none" opacity="0.8"/><path d="M1310.63 307.77V242.51M1306.13 307.77H1315.13M1306.13 242.51H1315.13" stroke="#7f7f7f" stroke-width="2.2" fill="none" opacity="0.8"/><path d="M1328.42 246.23V205.78M1323.92 246.23H1332.92M1323.92 205.78H1332.92" stroke="#7f7f7f" stroke-width="2.2" fill="none" opacity="0.8"/><path d="M1346.21 344.5V265.09M1341.71 344.5H1350.71M1341.71 265.09H1350.71" stroke="#7f7f7f" stroke-width="2.2" fill="none" opacity="0.8"/><path d="M1381.79 323.66V307.77M1377.29 323.66H1386.29M1377.29 307.77H1386.29" stroke="#7f7f7f" stroke-width="2.2" fill="none" opacity="0.8"/><path d="M1399.58 334.82V318.2M1395.08 334.82H1404.08M1395.08 318.2H1404.08" stroke="#7f7f7f" stroke-width="2.2" fill="none" opacity="0.8"/><path d="M1417.37 327.13V321.17M1412.87 327.13H1421.87M1412.87 321.17H1421.87" stroke="#7f7f7f" stroke-width="2.2" fill="none" opacity="0.8"/><path d="M1435.16 325.39V306.53M1430.66 325.39H1439.66M1430.66 306.53H1439.66" stroke="#7f7f7f" stroke-width="2.2" fill="none" opacity="0.8"/><path d="M1470.74 102.55V98.09M1466.24 102.55H1475.24M1466.24 98.09H1475.24" stroke="#7f7f7f" stroke-width="2.2" fill="none" opacity="0.8"/><path d="M1488.53 265.09V191.14M1484.03 265.09H1493.03M1484.03 191.14H1493.03" stroke="#7f7f7f" stroke-width="2.2" fill="none" opacity="0.8"/><path d="M1506.32 307.77V255.17M1501.82 307.77H1510.82M1501.82 255.17H1510.82" stroke="#7f7f7f" stroke-width="2.2" fill="none" opacity="0.8"/><path d="M1524.11 341.03V318.2M1519.61 341.03H1528.61M1519.61 318.2H1528.61" stroke="#7f7f7f" stroke-width="2.2" fill="none" opacity="0.8"/><path d="M1595.27 330.11V325.64M1590.77 330.11H1599.77M1590.77 325.64H1599.77" stroke="#7f7f7f" stroke-width="2.2" fill="none" opacity="0.8"/><path d="M1613.06 338.3V333.83M1608.56 338.3H1617.56M1608.56 333.83H1617.56" stroke="#7f7f7f" stroke-width="2.2" fill="none" opacity="0.8"/><path d="M1897.7 342.02V334.57M1893.2 342.02H1902.2M1893.2 334.57H1902.2" stroke="#7f7f7f" stroke-width="2.2" fill="none" opacity="0.8"/><path d="M1915.49 337.8V311.74M1910.99 337.8H1919.99M1910.99 311.74H1919.99" stroke="#7f7f7f" stroke-width="2.2" fill="none" opacity="0.8"/><path d="M1933.28 238.04V208.27M1928.78 238.04H1937.78M1928.78 208.27H1937.78" stroke="#7f7f7f" stroke-width="2.2" fill="none" opacity="0.8"/><path d="M1951.07 260.13V229.61M1946.57 260.13H1955.57M1946.57 229.61H1955.57" stroke="#7f7f7f" stroke-width="2.2" fill="none" opacity="0.8"/><path d="M1968.86 283.7V244.74M1964.36 283.7H1973.36M1964.36 244.74H1973.36" stroke="#7f7f7f" stroke-width="2.2" fill="none" opacity="0.8"/><path d="M1986.65 248.71V202.56M1982.15 248.71H1991.15M1982.15 202.56H1991.15" stroke="#7f7f7f" stroke-width="2.2" fill="none" opacity="0.8"/><path d="M2004.44 320.18V295.12M1999.94 320.18H2008.94M1999.94 295.12H2008.94" stroke="#7f7f7f" stroke-width="2.2" fill="none" opacity="0.8"/><path d="M2022.23 342.02V318.2M2017.73 342.02H2026.73M2017.73 318.2H2026.73" stroke="#7f7f7f" stroke-width="2.2" fill="none" opacity="0.8"/><path d="M2040.02 320.18V301.32M2035.52 320.18H2044.52M2035.52 301.32H2044.52" stroke="#7f7f7f" stroke-width="2.2" fill="none" opacity="0.8"/><path d="M2057.81 329.61V270.8M2053.31 329.61H2062.31M2053.31 270.8H2062.31" stroke="#7f7f7f" stroke-width="2.2" fill="none" opacity="0.8"/><path d="M2075.6 308.77V288.91M2071.1 308.77H2080.1M2071.1 288.91H2080.1" stroke="#7f7f7f" stroke-width="2.2" fill="none" opacity="0.8"/>
<path d="M1039.18 315.58L1048.38 324.78M1039.18 324.78L1048.38 315.58" stroke="#000" stroke-width="3.2" fill="none"/>
<path d="M1056.97 315.58L1066.17 324.78M1056.97 324.78L1066.17 315.58" stroke="#000" stroke-width="3.2" fill="none"/>
<path d="M1074.76 315.58L1083.96 324.78M1074.76 324.78L1083.96 315.58" stroke="#000" stroke-width="3.2" fill="none"/>
<path d="M1092.55 315.58L1101.75 324.78M1092.55 324.78L1101.75 315.58" stroke="#000" stroke-width="3.2" fill="none"/>
<circle cx="675.5" cy="88.5" r="7.3" fill="#7f7f7f" fill-opacity="0.8"/>
<text x="693.5" y="95" font-size="27.5" fill="#595959" text-anchor="start">Phospho-tau in solution</text>
<circle cx="675.5" cy="111" r="7.3" fill="#ff00ff" fill-opacity="0.7"/>
<text x="693.5" y="118.5" font-size="27.5" fill="#ff40ff" text-anchor="start">Phospho-tau in envelope</text>
<path d="M671.3 132.8L679.7 141.2M671.3 141.2L679.7 132.8" stroke="#000" stroke-width="3" fill="none"/>
<text x="693.5" y="143" font-size="27.5" fill="#000" text-anchor="start">Not detected</text>
<text x="1356" y="444" font-size="32" fill="#000" text-anchor="middle">Theoretical phosphorylation sites</text>
<text transform="translate(534.1 190) rotate(-90)" font-size="35.5" fill="#000" text-anchor="middle">Phosphorylation</text>
<text transform="translate(568.4 190) rotate(-90)" font-size="35.5" fill="#000" text-anchor="middle">degree (%)</text>
<text x="492.6" y="47.3" font-size="62.5" fill="#000" text-anchor="start">b</text>
<path d="M652.4 469.5v9.55M652.4 770.7v-9.55M670.19 469.5v9.55M670.19 770.7v-9.55M687.98 469.5v9.55M687.98 770.7v-9.55M705.77 469.5v9.55M705.77 770.7v-9.55M723.56 469.5v9.55M723.56 770.7v-9.55M741.35 469.5v9.55M741.35 770.7v-9.55M759.14 469.5v9.55M759.14 770.7v-9.55M776.93 469.5v9.55M776.93 770.7v-9.55M794.72 469.5v9.55M794.72 770.7v-9.55M812.51 469.5v9.55M812.51 770.7v-9.55M830.3 469.5v9.55M830.3 770.7v-9.55M848.09 469.5v9.55M848.09 770.7v-9.55M865.88 469.5v9.55M865.88 770.7v-9.55M883.67 469.5v9.55M883.67 770.7v-9.55M901.46 469.5v9.55M901.46 770.7v-9.55M919.25 469.5v9.55M919.25 770.7v-9.55M937.04 469.5v9.55M937.04 770.7v-9.55M954.83 469.5v9.55M954.83 770.7v-9.55M972.62 469.5v9.55M972.62 770.7v-9.55M990.41 469.5v9.55M990.41 770.7v-9.55M1008.2 469.5v9.55M1008.2 770.7v-9.55M1025.99 469.5v9.55M1025.99 770.7v-9.55M1043.78 469.5v9.55M1043.78 770.7v-9.55M1061.57 469.5v9.55M1061.57 770.7v-9.55M1079.36 469.5v9.55M1079.36 770.7v-9.55M1097.15 469.5v9.55M1097.15 770.7v-9.55M1114.94 469.5v9.55M1114.94 770.7v-9.55M1132.73 469.5v9.55M1132.73 770.7v-9.55M1150.52 469.5v9.55M1150.52 770.7v-9.55M1168.31 469.5v9.55M1168.31 770.7v-9.55M1186.1 469.5v9.55M1186.1 770.7v-9.55M1203.89 469.5v9.55M1203.89 770.7v-9.55M1221.68 469.5v9.55M1221.68 770.7v-9.55M1239.47 469.5v9.55M1239.47 770.7v-9.55M1257.26 469.5v9.55M1257.26 770.7v-9.55M1275.05 469.5v9.55M1275.05 770.7v-9.55M1292.84 469.5v9.55M1292.84 770.7v-9.55M1310.63 469.5v9.55M1310.63 770.7v-9.55M1328.42 469.5v9.55M1328.42 770.7v-9.55M1346.21 469.5v9.55M1346.21 770.7v-9.55M1364 469.5v9.55M1364 770.7v-9.55M1381.79 469.5v9.55M1381.79 770.7v-9.55M1399.58 469.5v9.55M1399.58 770.7v-9.55M1417.37 469.5v9.55M1417.37 770.7v-9.55M1435.16 469.5v9.55M1435.16 770.7v-9.55M1452.95 469.5v9.55M1452.95 770.7v-9.55M1470.74 469.5v9.55M1470.74 770.7v-9.55M1488.53 469.5v9.55M1488.53 770.7v-9.55M1506.32 469.5v9.55M1506.32 770.7v-9.55M1524.11 469.5v9.55M1524.11 770.7v-9.55M1541.9 469.5v9.55M1541.9 770.7v-9.55M1559.69 469.5v9.55M1559.69 770.7v-9.55M1577.48 469.5v9.55M1577.48 770.7v-9.55M1595.27 469.5v9.55M1595.27 770.7v-9.55M1613.06 469.5v9.55M1613.06 770.7v-9.55M1630.85 469.5v9.55M1630.85 770.7v-9.55M1648.64 469.5v9.55M1648.64 770.7v-9.55M1666.43 469.5v9.55M1666.43 770.7v-9.55M1684.22 469.5v9.55M1684.22 770.7v-9.55M1702.01 469.5v9.55M1702.01 770.7v-9.55M1719.8 469.5v9.55M1719.8 770.7v-9.55M1737.59 469.5v9.55M1737.59 770.7v-9.55M1755.38 469.5v9.55M1755.38 770.7v-9.55M1773.17 469.5v9.55M1773.17 770.7v-9.55M1790.96 469.5v9.55M1790.96 770.7v-9.55M1808.75 469.5v9.55M1808.75 770.7v-9.55M1826.54 469.5v9.55M1826.54 770.7v-9.55M1844.33 469.5v9.55M1844.33 770.7v-9.55M1862.12 469.5v9.55M1862.12 770.7v-9.55M1879.91 469.5v9.55M1879.91 770.7v-9.55M1897.7 469.5v9.55M1897.7 770.7v-9.55M1915.49 469.5v9.55M1915.49 770.7v-9.55M1933.28 469.5v9.55M1933.28 770.7v-9.55M1951.07 469.5v9.55M1951.07 770.7v-9.55M1968.86 469.5v9.55M1968.86 770.7v-9.55M1986.65 469.5v9.55M1986.65 770.7v-9.55M2004.44 469.5v9.55M2004.44 770.7v-9.55M2022.23 469.5v9.55M2022.23 770.7v-9.55M2040.02 469.5v9.55M2040.02 770.7v-9.55M2057.81 469.5v9.55M2057.81 770.7v-9.55M2075.6 469.5v9.55M2075.6 770.7v-9.55M2093.39 469.5v9.55M2093.39 770.7v-9.55M2111.18 469.5v9.55M2111.18 770.7v-9.55M2128.97 469.5v9.55M2128.97 770.7v-9.55M2146.76 469.5v9.55M2146.76 770.7v-9.55M634.6 720.5h10.55M634.6 670.3h10.55M634.6 620.1h10.55M634.6 569.9h10.55M634.6 519.7h10.55M2164.8 720.5h-10.55M2164.8 670.3h-10.55M2164.8 620.1h-10.55M2164.8 569.9h-10.55M2164.8 519.7h-10.55" stroke="#000" stroke-width="3.8" fill="none"/><rect x="634.6" y="469.5" width="1530.2" height="301.2" fill="none" stroke="#000" stroke-width="4.1"/>
<text transform="translate(624.5 782.3) scale(0.95 1)" font-size="34" fill="#000" text-anchor="end">0</text><text transform="translate(624.5 732.1) scale(0.95 1)" font-size="34" fill="#000" text-anchor="end">2</text><text transform="translate(624.5 681.9) scale(0.95 1)" font-size="34" fill="#000" text-anchor="end">4</text><text transform="translate(624.5 631.7) scale(0.95 1)" font-size="34" fill="#000" text-anchor="end">6</text><text transform="translate(624.5 581.5) scale(0.95 1)" font-size="34" fill="#000" text-anchor="end">8</text><text transform="translate(624.5 531.3) scale(0.95 1)" font-size="34" fill="#000" text-anchor="end">10</text><text transform="translate(624.5 481.1) scale(0.95 1)" font-size="34" fill="#000" text-anchor="end">12</text>
<g><text transform="translate(659.81 786.2) rotate(-90)" font-size="20.7" fill="#000" text-anchor="end">T17</text><text transform="translate(677.6 786.2) rotate(-90)" font-size="20.7" fill="#000" text-anchor="end">Y18</text><text transform="translate(695.39 786.2) rotate(-90)" font-size="20.7" fill="#000" text-anchor="end">Y29</text><text transform="translate(713.18 786.2) rotate(-90)" font-size="20.7" fill="#000" text-anchor="end">T30</text><text transform="translate(730.97 786.2) rotate(-90)" font-size="20.7" fill="#000" text-anchor="end">T39</text><text transform="translate(748.76 786.2) rotate(-90)" font-size="20.7" fill="#929292" text-anchor="end">S46</text><text transform="translate(766.55 786.2) rotate(-90)" font-size="20.7" fill="#929292" text-anchor="end">T50</text><text transform="translate(784.34 786.2) rotate(-90)" font-size="20.7" fill="#929292" text-anchor="end">T52</text><text transform="translate(802.13 786.2) rotate(-90)" font-size="20.7" fill="#929292" text-anchor="end">S56</text><text transform="translate(819.92 786.2) rotate(-90)" font-size="20.7" fill="#929292" text-anchor="end">S61</text><text transform="translate(837.71 786.2) rotate(-90)" font-size="20.7" fill="#929292" text-anchor="end">T63</text><text transform="translate(855.5 786.2) rotate(-90)" font-size="20.7" fill="#929292" text-anchor="end">S64</text><text transform="translate(873.29 786.2) rotate(-90)" font-size="20.7" fill="#929292" text-anchor="end">S68</text><text transform="translate(891.08 786.2) rotate(-90)" font-size="20.7" fill="#929292" text-anchor="end">T69</text><text transform="translate(908.87 786.2) rotate(-90)" font-size="20.7" fill="#929292" text-anchor="end">T71</text><text transform="translate(926.66 786.2) rotate(-90)" font-size="20.7" fill="#929292" text-anchor="end">T76</text><text transform="translate(944.45 786.2) rotate(-90)" font-size="20.7" fill="#929292" text-anchor="end">T95</text><text transform="translate(962.24 786.2) rotate(-90)" font-size="20.7" fill="#929292" text-anchor="end">T101</text><text transform="translate(980.03 786.2) rotate(-90)" font-size="20.7" fill="#929292" text-anchor="end">T102</text><text transform="translate(997.82 786.2) rotate(-90)" font-size="20.7" fill="#000" text-anchor="end">T111</text><text transform="translate(1015.61 786.2) rotate(-90)" font-size="20.7" fill="#000" text-anchor="end">S113</text><text transform="translate(1033.4 786.2) rotate(-90)" font-size="20.7" fill="#000" text-anchor="end">T123</text><text transform="translate(1051.19 786.2) rotate(-90)" font-size="20.7" fill="#000" text-anchor="end">S129</text><text transform="translate(1068.98 786.2) rotate(-90)" font-size="20.7" fill="#000" text-anchor="end">S131</text><text transform="translate(1086.77 786.2) rotate(-90)" font-size="20.7" fill="#000" text-anchor="end">T135</text><text transform="translate(1104.56 786.2) rotate(-90)" font-size="20.7" fill="#000" text-anchor="end">S137</text><text transform="translate(1122.35 786.2) rotate(-90)" font-size="20.7" fill="#4a90e2" text-anchor="end">T149</text><text transform="translate(1140.14 786.2) rotate(-90)" font-size="20.7" fill="#4a90e2" text-anchor="end">T153</text><text transform="translate(1157.93 786.2) rotate(-90)" font-size="20.7" fill="#4a90e2" text-anchor="end">T169</text><text transform="translate(1175.72 786.2) rotate(-90)" font-size="20.7" fill="#4a90e2" text-anchor="end">T175</text><text transform="translate(1193.51 786.2) rotate(-90)" font-size="20.7" fill="#4a90e2" text-anchor="end">T181</text><text transform="translate(1211.3 786.2) rotate(-90)" font-size="20.7" fill="#4a90e2" text-anchor="end">S184</text><text transform="translate(1229.09 786.2) rotate(-90)" font-size="20.7" fill="#4a90e2" text-anchor="end">S185</text><text transform="translate(1246.88 786.2) rotate(-90)" font-size="20.7" fill="#4a90e2" text-anchor="end">S191</text><text transform="translate(1264.67 786.2) rotate(-90)" font-size="20.7" fill="#4a90e2" text-anchor="end">S195</text><text transform="translate(1282.46 786.2) rotate(-90)" font-size="20.7" fill="#4a90e2" text-anchor="end">Y197</text><text transform="translate(1300.25 786.2) rotate(-90)" font-size="20.7" fill="#4a90e2" text-anchor="end">S198</text><text transform="translate(1318.04 786.2) rotate(-90)" font-size="20.7" fill="#4a90e2" text-anchor="end">S199</text><text transform="translate(1335.83 786.2) rotate(-90)" font-size="20.7" fill="#4a90e2" text-anchor="end">S202</text><text transform="translate(1353.62 786.2) rotate(-90)" font-size="20.7" fill="#4a90e2" text-anchor="end">T205</text><text transform="translate(1371.41 786.2) rotate(-90)" font-size="20.7" fill="#4a90e2" text-anchor="end">S208</text><text transform="translate(1389.2 786.2) rotate(-90)" font-size="20.7" fill="#4a90e2" text-anchor="end">S210</text><text transform="translate(1406.99 786.2) rotate(-90)" font-size="20.7" fill="#4a90e2" text-anchor="end">T212</text><text transform="translate(1424.78 786.2) rotate(-90)" font-size="20.7" fill="#4a90e2" text-anchor="end">S214</text><text transform="translate(1442.57 786.2) rotate(-90)" font-size="20.7" fill="#4a90e2" text-anchor="end">T217</text><text transform="translate(1460.36 786.2) rotate(-90)" font-size="20.7" fill="#4a90e2" text-anchor="end">T220</text><text transform="translate(1478.15 786.2) rotate(-90)" font-size="20.7" fill="#4a90e2" text-anchor="end">T231</text><text transform="translate(1495.94 786.2) rotate(-90)" font-size="20.7" fill="#4a90e2" text-anchor="end">S235</text><text transform="translate(1513.73 786.2) rotate(-90)" font-size="20.7" fill="#4a90e2" text-anchor="end">S237</text><text transform="translate(1531.52 786.2) rotate(-90)" font-size="20.7" fill="#4a90e2" text-anchor="end">S238</text><text transform="translate(1549.31 786.2) rotate(-90)" font-size="20.7" fill="#4a90e2" text-anchor="end">S241</text><text transform="translate(1567.1 786.2) rotate(-90)" font-size="20.7" fill="#e8611a" text-anchor="end">T245</text><text transform="translate(1584.89 786.2) rotate(-90)" font-size="20.7" fill="#e8611a" text-anchor="end">S258</text><text transform="translate(1602.68 786.2) rotate(-90)" font-size="20.7" fill="#e8611a" text-anchor="end">S262</text><text transform="translate(1620.47 786.2) rotate(-90)" font-size="20.7" fill="#e8611a" text-anchor="end">T263</text><text transform="translate(1638.26 786.2) rotate(-90)" font-size="20.7" fill="#e8611a" text-anchor="end">S285</text><text transform="translate(1656.05 786.2) rotate(-90)" font-size="20.7" fill="#e8611a" text-anchor="end">S289</text><text transform="translate(1673.84 786.2) rotate(-90)" font-size="20.7" fill="#e8611a" text-anchor="end">S293</text><text transform="translate(1691.63 786.2) rotate(-90)" font-size="20.7" fill="#e8611a" text-anchor="end">S305</text><text transform="translate(1709.42 786.2) rotate(-90)" font-size="20.7" fill="#e8611a" text-anchor="end">Y310</text><text transform="translate(1727.21 786.2) rotate(-90)" font-size="20.7" fill="#e8611a" text-anchor="end">S316</text><text transform="translate(1745 786.2) rotate(-90)" font-size="20.7" fill="#e8611a" text-anchor="end">T319</text><text transform="translate(1762.79 786.2) rotate(-90)" font-size="20.7" fill="#e8611a" text-anchor="end">S320</text><text transform="translate(1780.58 786.2) rotate(-90)" font-size="20.7" fill="#e8611a" text-anchor="end">S324</text><text transform="translate(1798.37 786.2) rotate(-90)" font-size="20.7" fill="#e8611a" text-anchor="end">S341</text><text transform="translate(1816.16 786.2) rotate(-90)" font-size="20.7" fill="#e8611a" text-anchor="end">S352</text><text transform="translate(1833.95 786.2) rotate(-90)" font-size="20.7" fill="#e8611a" text-anchor="end">S356</text><text transform="translate(1851.74 786.2) rotate(-90)" font-size="20.7" fill="#e8611a" text-anchor="end">T361</text><text transform="translate(1869.53 786.2) rotate(-90)" font-size="20.7" fill="#ebb950" text-anchor="end">T373</text><text transform="translate(1887.32 786.2) rotate(-90)" font-size="20.7" fill="#ebb950" text-anchor="end">T377</text><text transform="translate(1905.11 786.2) rotate(-90)" font-size="20.7" fill="#ebb950" text-anchor="end">T386</text><text transform="translate(1922.9 786.2) rotate(-90)" font-size="20.7" fill="#ebb950" text-anchor="end">Y394</text><text transform="translate(1940.69 786.2) rotate(-90)" font-size="20.7" fill="#000" text-anchor="end">S396</text><text transform="translate(1958.48 786.2) rotate(-90)" font-size="20.7" fill="#000" text-anchor="end">S400</text><text transform="translate(1976.27 786.2) rotate(-90)" font-size="20.7" fill="#000" text-anchor="end">T403</text><text transform="translate(1994.06 786.2) rotate(-90)" font-size="20.7" fill="#000" text-anchor="end">S404</text><text transform="translate(2011.85 786.2) rotate(-90)" font-size="20.7" fill="#000" text-anchor="end">S409</text><text transform="translate(2029.64 786.2) rotate(-90)" font-size="20.7" fill="#000" text-anchor="end">S412</text><text transform="translate(2047.43 786.2) rotate(-90)" font-size="20.7" fill="#000" text-anchor="end">S413</text><text transform="translate(2065.22 786.2) rotate(-90)" font-size="20.7" fill="#000" text-anchor="end">T414</text><text transform="translate(2083.01 786.2) rotate(-90)" font-size="20.7" fill="#000" text-anchor="end">S416</text><text transform="translate(2100.8 786.2) rotate(-90)" font-size="20.7" fill="#000" text-anchor="end">S422</text><text transform="translate(2118.59 786.2) rotate(-90)" font-size="20.7" fill="#000" text-anchor="end">T427</text><text transform="translate(2136.38 786.2) rotate(-90)" font-size="20.7" fill="#000" text-anchor="end">S433</text><text transform="translate(2154.17 786.2) rotate(-90)" font-size="20.7" fill="#000" text-anchor="end">S435</text></g>
<g fill="#ff00ff" fill-opacity="0.68" stroke="#fff" stroke-width="2.5"><circle cx="652.4" cy="731.04" r="6.65"/><circle cx="670.19" cy="731.04" r="6.65"/><circle cx="687.98" cy="756.14" r="6.65"/><circle cx="705.77" cy="756.14" r="6.65"/><circle cx="723.56" cy="756.14" r="6.65"/><circle cx="741.35" cy="760.16" r="6.65"/><circle cx="759.14" cy="760.16" r="6.65"/><circle cx="776.93" cy="760.16" r="6.65"/><circle cx="794.72" cy="760.16" r="6.65"/><circle cx="812.51" cy="760.16" r="6.65"/><circle cx="830.3" cy="760.16" r="6.65"/><circle cx="848.09" cy="760.16" r="6.65"/><circle cx="865.88" cy="755.14" r="6.65"/><circle cx="883.67" cy="755.14" r="6.65"/><circle cx="901.46" cy="755.14" r="6.65"/><circle cx="919.25" cy="755.14" r="6.65"/><circle cx="937.04" cy="769.19" r="6.65"/><circle cx="954.83" cy="769.19" r="6.65"/><circle cx="972.62" cy="769.19" r="6.65"/><circle cx="990.41" cy="769.19" r="6.65"/><circle cx="1008.2" cy="769.19" r="6.65"/><circle cx="1025.99" cy="769.19" r="6.65"/><circle cx="1043.78" cy="770.7" r="6.65"/><circle cx="1061.57" cy="770.7" r="6.65"/><circle cx="1079.36" cy="770.7" r="6.65"/><circle cx="1097.15" cy="770.7" r="6.65"/><circle cx="1114.94" cy="768.19" r="6.65"/><circle cx="1132.73" cy="768.19" r="6.65"/><circle cx="1150.52" cy="754.13" r="6.65"/><circle cx="1168.31" cy="745.1" r="6.65"/><circle cx="1186.1" cy="751.62" r="6.65"/><circle cx="1203.89" cy="751.62" r="6.65"/><circle cx="1221.68" cy="751.62" r="6.65"/><circle cx="1239.47" cy="756.64" r="6.65"/><circle cx="1257.26" cy="739.58" r="6.65"/><circle cx="1275.05" cy="739.58" r="6.65"/><circle cx="1292.84" cy="739.58" r="6.65"/><circle cx="1310.63" cy="739.58" r="6.65"/><circle cx="1328.42" cy="739.58" r="6.65"/><circle cx="1346.21" cy="739.58" r="6.65"/><circle cx="1364" cy="739.58" r="6.65"/><circle cx="1381.79" cy="739.58" r="6.65"/><circle cx="1399.58" cy="713.72" r="6.65"/><circle cx="1417.37" cy="713.72" r="6.65"/><circle cx="1435.16" cy="713.72" r="6.65"/><circle cx="1452.95" cy="713.72" r="6.65"/><circle cx="1470.74" cy="750.37" r="6.65"/><circle cx="1488.53" cy="750.37" r="6.65"/><circle cx="1506.32" cy="750.37" r="6.65"/><circle cx="1524.11" cy="750.37" r="6.65"/><circle cx="1541.9" cy="755.64" r="6.65"/><circle cx="1559.69" cy="740.08" r="6.65"/><circle cx="1577.48" cy="751.88" r="6.65"/><circle cx="1595.27" cy="716.99" r="6.65"/><circle cx="1613.06" cy="716.99" r="6.65"/><circle cx="1630.85" cy="743.09" r="6.65"/><circle cx="1648.64" cy="743.09" r="6.65"/><circle cx="1666.43" cy="769.7" r="6.65"/><circle cx="1684.22" cy="732.05" r="6.65"/><circle cx="1702.01" cy="732.05" r="6.65"/><circle cx="1719.8" cy="732.05" r="6.65"/><circle cx="1737.59" cy="770.7" r="6.65"/><circle cx="1755.38" cy="770.7" r="6.65"/><circle cx="1773.17" cy="732.8" r="6.65"/><circle cx="1790.96" cy="741.08" r="6.65"/><circle cx="1808.75" cy="770.7" r="6.65"/><circle cx="1826.54" cy="713.97" r="6.65"/><circle cx="1844.33" cy="713.97" r="6.65"/><circle cx="1862.12" cy="755.64" r="6.65"/><circle cx="1879.91" cy="746.86" r="6.65"/><circle cx="1897.7" cy="703.43" r="6.65"/><circle cx="1915.49" cy="703.43" r="6.65"/><circle cx="1933.28" cy="715.48" r="6.65"/><circle cx="1951.07" cy="715.48" r="6.65"/><circle cx="1968.86" cy="715.48" r="6.65"/><circle cx="1986.65" cy="715.48" r="6.65"/><circle cx="2004.44" cy="755.64" r="6.65"/><circle cx="2022.23" cy="755.64" r="6.65"/><circle cx="2040.02" cy="755.64" r="6.65"/><circle cx="2057.81" cy="755.64" r="6.65"/><circle cx="2075.6" cy="755.64" r="6.65"/><circle cx="2093.39" cy="755.64" r="6.65"/><circle cx="2111.18" cy="755.64" r="6.65"/><circle cx="2128.97" cy="755.64" r="6.65"/><circle cx="2146.76" cy="755.64" r="6.65"/></g><path d="M652.4 743.09V718.99M647.9 743.09H656.9M647.9 718.99H656.9" stroke="#ff00ff" stroke-width="2.2" fill="none" opacity="0.68"/><path d="M670.19 743.09V718.99M665.69 743.09H674.69M665.69 718.99H674.69" stroke="#ff00ff" stroke-width="2.2" fill="none" opacity="0.68"/><path d="M687.98 758.15V754.13M683.48 758.15H692.48M683.48 754.13H692.48" stroke="#ff00ff" stroke-width="2.2" fill="none" opacity="0.68"/><path d="M705.77 758.15V754.13M701.27 758.15H710.27M701.27 754.13H710.27" stroke="#ff00ff" stroke-width="2.2" fill="none" opacity="0.68"/><path d="M723.56 758.15V754.13M719.06 758.15H728.06M719.06 754.13H728.06" stroke="#ff00ff" stroke-width="2.2" fill="none" opacity="0.68"/><path d="M741.35 762.17V758.15M736.85 762.17H745.85M736.85 758.15H745.85" stroke="#ff00ff" stroke-width="2.2" fill="none" opacity="0.68"/><path d="M759.14 762.17V758.15M754.64 762.17H763.64M754.64 758.15H763.64" stroke="#ff00ff" stroke-width="2.2" fill="none" opacity="0.68"/><path d="M776.93 762.17V758.15M772.43 762.17H781.43M772.43 758.15H781.43" stroke="#ff00ff" stroke-width="2.2" fill="none" opacity="0.68"/><path d="M794.72 762.17V758.15M790.22 762.17H799.22M790.22 758.15H799.22" stroke="#ff00ff" stroke-width="2.2" fill="none" opacity="0.68"/><path d="M812.51 762.17V758.15M808.01 762.17H817.01M808.01 758.15H817.01" stroke="#ff00ff" stroke-width="2.2" fill="none" opacity="0.68"/><path d="M830.3 762.17V758.15M825.8 762.17H834.8M825.8 758.15H834.8" stroke="#ff00ff" stroke-width="2.2" fill="none" opacity="0.68"/><path d="M848.09 762.17V758.15M843.59 762.17H852.59M843.59 758.15H852.59" stroke="#ff00ff" stroke-width="2.2" fill="none" opacity="0.68"/><path d="M865.88 758.15V752.13M861.38 758.15H870.38M861.38 752.13H870.38" stroke="#ff00ff" stroke-width="2.2" fill="none" opacity="0.68"/><path d="M883.67 758.15V752.13M879.17 758.15H888.17M879.17 752.13H888.17" stroke="#ff00ff" stroke-width="2.2" fill="none" opacity="0.68"/><path d="M901.46 758.15V752.13M896.96 758.15H905.96M896.96 752.13H905.96" stroke="#ff00ff" stroke-width="2.2" fill="none" opacity="0.68"/><path d="M919.25 758.15V752.13M914.75 758.15H923.75M914.75 752.13H923.75" stroke="#ff00ff" stroke-width="2.2" fill="none" opacity="0.68"/><path d="M1150.52 766.43V741.58M1146.02 766.43H1155.02M1146.02 741.58H1155.02" stroke="#ff00ff" stroke-width="2.2" fill="none" opacity="0.68"/><path d="M1168.31 751.88V737.32M1163.81 751.88H1172.81M1163.81 737.32H1172.81" stroke="#ff00ff" stroke-width="2.2" fill="none" opacity="0.68"/><path d="M1186.1 760.41V742.59M1181.6 760.41H1190.6M1181.6 742.59H1190.6" stroke="#ff00ff" stroke-width="2.2" fill="none" opacity="0.68"/><path d="M1203.89 760.41V742.59M1199.39 760.41H1208.39M1199.39 742.59H1208.39" stroke="#ff00ff" stroke-width="2.2" fill="none" opacity="0.68"/><path d="M1221.68 760.41V742.59M1217.18 760.41H1226.18M1217.18 742.59H1226.18" stroke="#ff00ff" stroke-width="2.2" fill="none" opacity="0.68"/><path d="M1239.47 762.42V750.87M1234.97 762.42H1243.97M1234.97 750.87H1243.97" stroke="#ff00ff" stroke-width="2.2" fill="none" opacity="0.68"/><path d="M1257.26 746.1V733.3M1252.76 746.1H1261.76M1252.76 733.3H1261.76" stroke="#ff00ff" stroke-width="2.2" fill="none" opacity="0.68"/><path d="M1275.05 746.1V733.3M1270.55 746.1H1279.55M1270.55 733.3H1279.55" stroke="#ff00ff" stroke-width="2.2" fill="none" opacity="0.68"/><path d="M1292.84 746.1V733.3M1288.34 746.1H1297.34M1288.34 733.3H1297.34" stroke="#ff00ff" stroke-width="2.2" fill="none" opacity="0.68"/><path d="M1310.63 746.1V733.3M1306.13 746.1H1315.13M1306.13 733.3H1315.13" stroke="#ff00ff" stroke-width="2.2" fill="none" opacity="0.68"/><path d="M1328.42 746.1V733.3M1323.92 746.1H1332.92M1323.92 733.3H1332.92" stroke="#ff00ff" stroke-width="2.2" fill="none" opacity="0.68"/><path d="M1346.21 746.1V733.3M1341.71 746.1H1350.71M1341.71 733.3H1350.71" stroke="#ff00ff" stroke-width="2.2" fill="none" opacity="0.68"/><path d="M1364 746.1V733.3M1359.5 746.1H1368.5M1359.5 733.3H1368.5" stroke="#ff00ff" stroke-width="2.2" fill="none" opacity="0.68"/><path d="M1381.79 746.1V733.3M1377.29 746.1H1386.29M1377.29 733.3H1386.29" stroke="#ff00ff" stroke-width="2.2" fill="none" opacity="0.68"/><path d="M1399.58 722.26V705.19M1395.08 722.26H1404.08M1395.08 705.19H1404.08" stroke="#ff00ff" stroke-width="2.2" fill="none" opacity="0.68"/><path d="M1417.37 722.26V705.19M1412.87 722.26H1421.87M1412.87 705.19H1421.87" stroke="#ff00ff" stroke-width="2.2" fill="none" opacity="0.68"/><path d="M1435.16 722.26V705.19M1430.66 722.26H1439.66M1430.66 705.19H1439.66" stroke="#ff00ff" stroke-width="2.2" fill="none" opacity="0.68"/><path d="M1452.95 722.26V705.19M1448.45 722.26H1457.45M1448.45 705.19H1457.45" stroke="#ff00ff" stroke-width="2.2" fill="none" opacity="0.68"/><path d="M1470.74 761.41V740.08M1466.24 761.41H1475.24M1466.24 740.08H1475.24" stroke="#ff00ff" stroke-width="2.2" fill="none" opacity="0.68"/><path d="M1488.53 761.41V740.08M1484.03 761.41H1493.03M1484.03 740.08H1493.03" stroke="#ff00ff" stroke-width="2.2" fill="none" opacity="0.68"/><path d="M1506.32 761.41V740.08M1501.82 761.41H1510.82M1501.82 740.08H1510.82" stroke="#ff00ff" stroke-width="2.2" fill="none" opacity="0.68"/><path d="M1524.11 761.41V740.08M1519.61 761.41H1528.61M1519.61 740.08H1528.61" stroke="#ff00ff" stroke-width="2.2" fill="none" opacity="0.68"/><path d="M1541.9 759.41V751.88M1537.4 759.41H1546.4M1537.4 751.88H1546.4" stroke="#ff00ff" stroke-width="2.2" fill="none" opacity="0.68"/><path d="M1559.69 747.86V732.05M1555.19 747.86H1564.19M1555.19 732.05H1564.19" stroke="#ff00ff" stroke-width="2.2" fill="none" opacity="0.68"/><path d="M1577.48 763.42V740.58M1572.98 763.42H1581.98M1572.98 740.58H1581.98" stroke="#ff00ff" stroke-width="2.2" fill="none" opacity="0.68"/><path d="M1595.27 744.6V688.37M1590.77 744.6H1599.77M1590.77 688.37H1599.77" stroke="#ff00ff" stroke-width="2.2" fill="none" opacity="0.68"/><path d="M1613.06 744.6V688.37M1608.56 744.6H1617.56M1608.56 688.37H1617.56" stroke="#ff00ff" stroke-width="2.2" fill="none" opacity="0.68"/><path d="M1630.85 745.6V740.58M1626.35 745.6H1635.35M1626.35 740.58H1635.35" stroke="#ff00ff" stroke-width="2.2" fill="none" opacity="0.68"/><path d="M1648.64 745.6V740.58M1644.14 745.6H1653.14M1644.14 740.58H1653.14" stroke="#ff00ff" stroke-width="2.2" fill="none" opacity="0.68"/><path d="M1684.22 737.32V727.03M1679.72 737.32H1688.72M1679.72 727.03H1688.72" stroke="#ff00ff" stroke-width="2.2" fill="none" opacity="0.68"/><path d="M1702.01 737.32V727.03M1697.51 737.32H1706.51M1697.51 727.03H1706.51" stroke="#ff00ff" stroke-width="2.2" fill="none" opacity="0.68"/><path d="M1719.8 737.32V727.03M1715.3 737.32H1724.3M1715.3 727.03H1724.3" stroke="#ff00ff" stroke-width="2.2" fill="none" opacity="0.68"/><path d="M1773.17 741.58V723.76M1768.67 741.58H1777.67M1768.67 723.76H1777.67" stroke="#ff00ff" stroke-width="2.2" fill="none" opacity="0.68"/><path d="M1790.96 756.14V726.52M1786.46 756.14H1795.46M1786.46 726.52H1795.46" stroke="#ff00ff" stroke-width="2.2" fill="none" opacity="0.68"/><path d="M1808.75 770.7V763.17M1804.25 770.7H1813.25M1804.25 763.17H1813.25" stroke="#ff00ff" stroke-width="2.2" fill="none" opacity="0.68"/><path d="M1826.54 727.03V700.92M1822.04 727.03H1831.04M1822.04 700.92H1831.04" stroke="#ff00ff" stroke-width="2.2" fill="none" opacity="0.68"/><path d="M1844.33 727.03V700.92M1839.83 727.03H1848.83M1839.83 700.92H1848.83" stroke="#ff00ff" stroke-width="2.2" fill="none" opacity="0.68"/><path d="M1862.12 770.7V733.8M1857.62 770.7H1866.62M1857.62 733.8H1866.62" stroke="#ff00ff" stroke-width="2.2" fill="none" opacity="0.68"/><path d="M1879.91 764.43V729.03M1875.41 764.43H1884.41M1875.41 729.03H1884.41" stroke="#ff00ff" stroke-width="2.2" fill="none" opacity="0.68"/><path d="M1897.7 724.77V681.85M1893.2 724.77H1902.2M1893.2 681.85H1902.2" stroke="#ff00ff" stroke-width="2.2" fill="none" opacity="0.68"/><path d="M1915.49 724.77V681.85M1910.99 724.77H1919.99M1910.99 681.85H1919.99" stroke="#ff00ff" stroke-width="2.2" fill="none" opacity="0.68"/><path d="M1933.28 741.58V688.87M1928.78 741.58H1937.78M1928.78 688.87H1937.78" stroke="#ff00ff" stroke-width="2.2" fill="none" opacity="0.68"/><path d="M1951.07 741.58V688.87M1946.57 741.58H1955.57M1946.57 688.87H1955.57" stroke="#ff00ff" stroke-width="2.2" fill="none" opacity="0.68"/><path d="M1968.86 741.58V688.87M1964.36 741.58H1973.36M1964.36 688.87H1973.36" stroke="#ff00ff" stroke-width="2.2" fill="none" opacity="0.68"/><path d="M1986.65 741.58V688.87M1982.15 741.58H1991.15M1982.15 688.87H1991.15" stroke="#ff00ff" stroke-width="2.2" fill="none" opacity="0.68"/><path d="M2004.44 759.41V751.88M1999.94 759.41H2008.94M1999.94 751.88H2008.94" stroke="#ff00ff" stroke-width="2.2" fill="none" opacity="0.68"/><path d="M2022.23 759.41V751.88M2017.73 759.41H2026.73M2017.73 751.88H2026.73" stroke="#ff00ff" stroke-width="2.2" fill="none" opacity="0.68"/><path d="M2040.02 759.41V751.88M2035.52 759.41H2044.52M2035.52 751.88H2044.52" stroke="#ff00ff" stroke-width="2.2" fill="none" opacity="0.68"/><path d="M2057.81 759.41V751.88M2053.31 759.41H2062.31M2053.31 751.88H2062.31" stroke="#ff00ff" stroke-width="2.2" fill="none" opacity="0.68"/><path d="M2075.6 759.41V751.88M2071.1 759.41H2080.1M2071.1 751.88H2080.1" stroke="#ff00ff" stroke-width="2.2" fill="none" opacity="0.68"/><path d="M2093.39 759.41V751.88M2088.89 759.41H2097.89M2088.89 751.88H2097.89" stroke="#ff00ff" stroke-width="2.2" fill="none" opacity="0.68"/><path d="M2111.18 759.41V751.88M2106.68 759.41H2115.68M2106.68 751.88H2115.68" stroke="#ff00ff" stroke-width="2.2" fill="none" opacity="0.68"/><path d="M2128.97 759.41V751.88M2124.47 759.41H2133.47M2124.47 751.88H2133.47" stroke="#ff00ff" stroke-width="2.2" fill="none" opacity="0.68"/><path d="M2146.76 759.41V751.88M2142.26 759.41H2151.26M2142.26 751.88H2151.26" stroke="#ff00ff" stroke-width="2.2" fill="none" opacity="0.68"/>
<g fill="#7f7f7f" fill-opacity="0.8" stroke="#fff" stroke-width="2.5"><circle cx="652.4" cy="620.1" r="6.65"/><circle cx="670.19" cy="620.1" r="6.65"/><circle cx="687.98" cy="674.57" r="6.65"/><circle cx="705.77" cy="674.57" r="6.65"/><circle cx="723.56" cy="674.57" r="6.65"/><circle cx="741.35" cy="709.96" r="6.65"/><circle cx="759.14" cy="709.96" r="6.65"/><circle cx="776.93" cy="709.96" r="6.65"/><circle cx="794.72" cy="709.96" r="6.65"/><circle cx="812.51" cy="709.96" r="6.65"/><circle cx="830.3" cy="709.96" r="6.65"/><circle cx="848.09" cy="709.96" r="6.65"/><circle cx="865.88" cy="740.58" r="6.65"/><circle cx="883.67" cy="740.58" r="6.65"/><circle cx="901.46" cy="740.58" r="6.65"/><circle cx="919.25" cy="740.58" r="6.65"/><circle cx="937.04" cy="758.9" r="6.65"/><circle cx="954.83" cy="758.9" r="6.65"/><circle cx="972.62" cy="758.9" r="6.65"/><circle cx="990.41" cy="758.9" r="6.65"/><circle cx="1008.2" cy="758.9" r="6.65"/><circle cx="1025.99" cy="758.9" r="6.65"/><circle cx="1043.78" cy="770.7" r="6.65"/><circle cx="1061.57" cy="770.7" r="6.65"/><circle cx="1079.36" cy="770.7" r="6.65"/><circle cx="1097.15" cy="770.7" r="6.65"/><circle cx="1114.94" cy="767.44" r="6.65"/><circle cx="1132.73" cy="767.44" r="6.65"/><circle cx="1150.52" cy="729.54" r="6.65"/><circle cx="1168.31" cy="639.68" r="6.65"/><circle cx="1186.1" cy="607.8" r="6.65"/><circle cx="1203.89" cy="607.8" r="6.65"/><circle cx="1221.68" cy="607.8" r="6.65"/><circle cx="1239.47" cy="656.24" r="6.65"/><circle cx="1257.26" cy="656.24" r="6.65"/><circle cx="1275.05" cy="656.24" r="6.65"/><circle cx="1292.84" cy="656.24" r="6.65"/><circle cx="1310.63" cy="656.24" r="6.65"/><circle cx="1328.42" cy="656.24" r="6.65"/><circle cx="1346.21" cy="656.24" r="6.65"/><circle cx="1364" cy="656.24" r="6.65"/><circle cx="1381.79" cy="614.58" r="6.65"/><circle cx="1399.58" cy="533.76" r="6.65"/><circle cx="1417.37" cy="533.76" r="6.65"/><circle cx="1435.16" cy="533.76" r="6.65"/><circle cx="1452.95" cy="533.76" r="6.65"/><circle cx="1470.74" cy="642.69" r="6.65"/><circle cx="1488.53" cy="643.69" r="6.65"/><circle cx="1506.32" cy="643.69" r="6.65"/><circle cx="1524.11" cy="643.69" r="6.65"/><circle cx="1541.9" cy="746.1" r="6.65"/><circle cx="1559.69" cy="717.24" r="6.65"/><circle cx="1577.48" cy="706.19" r="6.65"/><circle cx="1595.27" cy="633.15" r="6.65"/><circle cx="1613.06" cy="633.15" r="6.65"/><circle cx="1630.85" cy="707.95" r="6.65"/><circle cx="1648.64" cy="707.95" r="6.65"/><circle cx="1666.43" cy="759.15" r="6.65"/><circle cx="1684.22" cy="699.42" r="6.65"/><circle cx="1702.01" cy="699.42" r="6.65"/><circle cx="1719.8" cy="699.42" r="6.65"/><circle cx="1737.59" cy="768.94" r="6.65"/><circle cx="1755.38" cy="768.94" r="6.65"/><circle cx="1773.17" cy="697.91" r="6.65"/><circle cx="1790.96" cy="706.7" r="6.65"/><circle cx="1808.75" cy="758.9" r="6.65"/><circle cx="1826.54" cy="669.8" r="6.65"/><circle cx="1844.33" cy="669.8" r="6.65"/><circle cx="1862.12" cy="757.65" r="6.65"/><circle cx="1879.91" cy="745.1" r="6.65"/><circle cx="1897.7" cy="519.7" r="6.65"/><circle cx="1915.49" cy="519.7" r="6.65"/><circle cx="1933.28" cy="555.09" r="6.65"/><circle cx="1951.07" cy="555.09" r="6.65"/><circle cx="1968.86" cy="555.09" r="6.65"/><circle cx="1986.65" cy="555.09" r="6.65"/><circle cx="2004.44" cy="676.58" r="6.65"/><circle cx="2022.23" cy="676.58" r="6.65"/><circle cx="2040.02" cy="676.58" r="6.65"/><circle cx="2057.81" cy="676.58" r="6.65"/><circle cx="2075.6" cy="676.58" r="6.65"/><circle cx="2093.39" cy="676.58" r="6.65"/><circle cx="2111.18" cy="676.58" r="6.65"/><circle cx="2128.97" cy="676.58" r="6.65"/><circle cx="2146.76" cy="676.58" r="6.65"/></g><path d="M652.4 668.54V571.66M647.9 668.54H656.9M647.9 571.66H656.9" stroke="#7f7f7f" stroke-width="2.2" fill="none" opacity="0.8"/><path d="M670.19 668.54V571.66M665.69 668.54H674.69M665.69 571.66H674.69" stroke="#7f7f7f" stroke-width="2.2" fill="none" opacity="0.8"/><path d="M687.98 737.82V611.32M683.48 737.82H692.48M683.48 611.32H692.48" stroke="#7f7f7f" stroke-width="2.2" fill="none" opacity="0.8"/><path d="M705.77 737.82V611.32M701.27 737.82H710.27M701.27 611.32H710.27" stroke="#7f7f7f" stroke-width="2.2" fill="none" opacity="0.8"/><path d="M723.56 737.82V611.32M719.06 737.82H728.06M719.06 611.32H728.06" stroke="#7f7f7f" stroke-width="2.2" fill="none" opacity="0.8"/><path d="M741.35 770.7V650.72M736.85 770.7H745.85M736.85 650.72H745.85" stroke="#7f7f7f" stroke-width="2.2" fill="none" opacity="0.8"/><path d="M759.14 770.7V650.72M754.64 770.7H763.64M754.64 650.72H763.64" stroke="#7f7f7f" stroke-width="2.2" fill="none" opacity="0.8"/><path d="M776.93 770.7V650.72M772.43 770.7H781.43M772.43 650.72H781.43" stroke="#7f7f7f" stroke-width="2.2" fill="none" opacity="0.8"/><path d="M794.72 770.7V650.72M790.22 770.7H799.22M790.22 650.72H799.22" stroke="#7f7f7f" stroke-width="2.2" fill="none" opacity="0.8"/><path d="M812.51 770.7V650.72M808.01 770.7H817.01M808.01 650.72H817.01" stroke="#7f7f7f" stroke-width="2.2" fill="none" opacity="0.8"/><path d="M830.3 770.7V650.72M825.8 770.7H834.8M825.8 650.72H834.8" stroke="#7f7f7f" stroke-width="2.2" fill="none" opacity="0.8"/><path d="M848.09 770.7V650.72M843.59 770.7H852.59M843.59 650.72H852.59" stroke="#7f7f7f" stroke-width="2.2" fill="none" opacity="0.8"/><path d="M865.88 755.64V724.77M861.38 755.64H870.38M861.38 724.77H870.38" stroke="#7f7f7f" stroke-width="2.2" fill="none" opacity="0.8"/><path d="M883.67 755.64V724.77M879.17 755.64H888.17M879.17 724.77H888.17" stroke="#7f7f7f" stroke-width="2.2" fill="none" opacity="0.8"/><path d="M901.46 755.64V724.77M896.96 755.64H905.96M896.96 724.77H905.96" stroke="#7f7f7f" stroke-width="2.2" fill="none" opacity="0.8"/><path d="M919.25 755.64V724.77M914.75 755.64H923.75M914.75 724.77H923.75" stroke="#7f7f7f" stroke-width="2.2" fill="none" opacity="0.8"/><path d="M937.04 764.43V753.63M932.54 764.43H941.54M932.54 753.63H941.54" stroke="#7f7f7f" stroke-width="2.2" fill="none" opacity="0.8"/><path d="M954.83 764.43V753.63M950.33 764.43H959.33M950.33 753.63H959.33" stroke="#7f7f7f" stroke-width="2.2" fill="none" opacity="0.8"/><path d="M972.62 764.43V753.63M968.12 764.43H977.12M968.12 753.63H977.12" stroke="#7f7f7f" stroke-width="2.2" fill="none" opacity="0.8"/><path d="M990.41 764.43V753.63M985.91 764.43H994.91M985.91 753.63H994.91" stroke="#7f7f7f" stroke-width="2.2" fill="none" opacity="0.8"/><path d="M1008.2 764.43V753.63M1003.7 764.43H1012.7M1003.7 753.63H1012.7" stroke="#7f7f7f" stroke-width="2.2" fill="none" opacity="0.8"/><path d="M1025.99 764.43V753.63M1021.49 764.43H1030.49M1021.49 753.63H1030.49" stroke="#7f7f7f" stroke-width="2.2" fill="none" opacity="0.8"/><path d="M1150.52 748.11V710.71M1146.02 748.11H1155.02M1146.02 710.71H1155.02" stroke="#7f7f7f" stroke-width="2.2" fill="none" opacity="0.8"/><path d="M1168.31 660.01V619.1M1163.81 660.01H1172.81M1163.81 619.1H1172.81" stroke="#7f7f7f" stroke-width="2.2" fill="none" opacity="0.8"/><path d="M1186.1 677.08V538.78M1181.6 677.08H1190.6M1181.6 538.78H1190.6" stroke="#7f7f7f" stroke-width="2.2" fill="none" opacity="0.8"/><path d="M1203.89 677.08V538.78M1199.39 677.08H1208.39M1199.39 538.78H1208.39" stroke="#7f7f7f" stroke-width="2.2" fill="none" opacity="0.8"/><path d="M1221.68 677.08V538.78M1217.18 677.08H1226.18M1217.18 538.78H1226.18" stroke="#7f7f7f" stroke-width="2.2" fill="none" opacity="0.8"/><path d="M1239.47 698.91V612.57M1234.97 698.91H1243.97M1234.97 612.57H1243.97" stroke="#7f7f7f" stroke-width="2.2" fill="none" opacity="0.8"/><path d="M1257.26 695.4V617.09M1252.76 695.4H1261.76M1252.76 617.09H1261.76" stroke="#7f7f7f" stroke-width="2.2" fill="none" opacity="0.8"/><path d="M1275.05 695.4V617.09M1270.55 695.4H1279.55M1270.55 617.09H1279.55" stroke="#7f7f7f" stroke-width="2.2" fill="none" opacity="0.8"/><path d="M1292.84 695.4V617.09M1288.34 695.4H1297.34M1288.34 617.09H1297.34" stroke="#7f7f7f" stroke-width="2.2" fill="none" opacity="0.8"/><path d="M1310.63 695.4V617.09M1306.13 695.4H1315.13M1306.13 617.09H1315.13" stroke="#7f7f7f" stroke-width="2.2" fill="none" opacity="0.8"/><path d="M1328.42 695.4V617.09M1323.92 695.4H1332.92M1323.92 617.09H1332.92" stroke="#7f7f7f" stroke-width="2.2" fill="none" opacity="0.8"/><path d="M1346.21 695.4V617.09M1341.71 695.4H1350.71M1341.71 617.09H1350.71" stroke="#7f7f7f" stroke-width="2.2" fill="none" opacity="0.8"/><path d="M1364 695.4V617.09M1359.5 695.4H1368.5M1359.5 617.09H1368.5" stroke="#7f7f7f" stroke-width="2.2" fill="none" opacity="0.8"/><path d="M1381.79 652.98V576.43M1377.29 652.98H1386.29M1377.29 576.43H1386.29" stroke="#7f7f7f" stroke-width="2.2" fill="none" opacity="0.8"/><path d="M1399.58 588.47V478.03M1395.08 588.47H1404.08M1395.08 478.03H1404.08" stroke="#7f7f7f" stroke-width="2.2" fill="none" opacity="0.8"/><path d="M1417.37 588.47V478.03M1412.87 588.47H1421.87M1412.87 478.03H1421.87" stroke="#7f7f7f" stroke-width="2.2" fill="none" opacity="0.8"/><path d="M1435.16 588.47V478.03M1430.66 588.47H1439.66M1430.66 478.03H1439.66" stroke="#7f7f7f" stroke-width="2.2" fill="none" opacity="0.8"/><path d="M1452.95 588.47V478.03M1448.45 588.47H1457.45M1448.45 478.03H1457.45" stroke="#7f7f7f" stroke-width="2.2" fill="none" opacity="0.8"/><path d="M1470.74 668.04V617.59M1466.24 668.04H1475.24M1466.24 617.59H1475.24" stroke="#7f7f7f" stroke-width="2.2" fill="none" opacity="0.8"/><path d="M1488.53 668.04V619.1M1484.03 668.04H1493.03M1484.03 619.1H1493.03" stroke="#7f7f7f" stroke-width="2.2" fill="none" opacity="0.8"/><path d="M1506.32 668.04V619.1M1501.82 668.04H1510.82M1501.82 619.1H1510.82" stroke="#7f7f7f" stroke-width="2.2" fill="none" opacity="0.8"/><path d="M1524.11 668.04V619.1M1519.61 668.04H1528.61M1519.61 619.1H1528.61" stroke="#7f7f7f" stroke-width="2.2" fill="none" opacity="0.8"/><path d="M1541.9 750.87V741.58M1537.4 750.87H1546.4M1537.4 741.58H1546.4" stroke="#7f7f7f" stroke-width="2.2" fill="none" opacity="0.8"/><path d="M1559.69 734.31V699.92M1555.19 734.31H1564.19M1555.19 699.92H1564.19" stroke="#7f7f7f" stroke-width="2.2" fill="none" opacity="0.8"/><path d="M1577.48 729.54V682.6M1572.98 729.54H1581.98M1572.98 682.6H1581.98" stroke="#7f7f7f" stroke-width="2.2" fill="none" opacity="0.8"/><path d="M1595.27 679.09V586.97M1590.77 679.09H1599.77M1590.77 586.97H1599.77" stroke="#7f7f7f" stroke-width="2.2" fill="none" opacity="0.8"/><path d="M1613.06 679.09V586.97M1608.56 679.09H1617.56M1608.56 586.97H1617.56" stroke="#7f7f7f" stroke-width="2.2" fill="none" opacity="0.8"/><path d="M1630.85 724.27V691.13M1626.35 724.27H1635.35M1626.35 691.13H1635.35" stroke="#7f7f7f" stroke-width="2.2" fill="none" opacity="0.8"/><path d="M1648.64 724.27V691.13M1644.14 724.27H1653.14M1644.14 691.13H1653.14" stroke="#7f7f7f" stroke-width="2.2" fill="none" opacity="0.8"/><path d="M1666.43 763.17V755.64M1661.93 763.17H1670.93M1661.93 755.64H1670.93" stroke="#7f7f7f" stroke-width="2.2" fill="none" opacity="0.8"/><path d="M1684.22 717.49V681.09M1679.72 717.49H1688.72M1679.72 681.09H1688.72" stroke="#7f7f7f" stroke-width="2.2" fill="none" opacity="0.8"/><path d="M1702.01 717.49V681.09M1697.51 717.49H1706.51M1697.51 681.09H1706.51" stroke="#7f7f7f" stroke-width="2.2" fill="none" opacity="0.8"/><path d="M1719.8 717.49V681.09M1715.3 717.49H1724.3M1715.3 681.09H1724.3" stroke="#7f7f7f" stroke-width="2.2" fill="none" opacity="0.8"/><path d="M1773.17 710.96V684.36M1768.67 710.96H1777.67M1768.67 684.36H1777.67" stroke="#7f7f7f" stroke-width="2.2" fill="none" opacity="0.8"/><path d="M1790.96 721.25V692.64M1786.46 721.25H1795.46M1786.46 692.64H1795.46" stroke="#7f7f7f" stroke-width="2.2" fill="none" opacity="0.8"/><path d="M1808.75 765.68V751.88M1804.25 765.68H1813.25M1804.25 751.88H1813.25" stroke="#7f7f7f" stroke-width="2.2" fill="none" opacity="0.8"/><path d="M1826.54 700.42V639.18M1822.04 700.42H1831.04M1822.04 639.18H1831.04" stroke="#7f7f7f" stroke-width="2.2" fill="none" opacity="0.8"/><path d="M1844.33 700.42V639.18M1839.83 700.42H1848.83M1839.83 639.18H1848.83" stroke="#7f7f7f" stroke-width="2.2" fill="none" opacity="0.8"/><path d="M1862.12 766.43V747.86M1857.62 766.43H1866.62M1857.62 747.86H1866.62" stroke="#7f7f7f" stroke-width="2.2" fill="none" opacity="0.8"/><path d="M1879.91 751.88V737.32M1875.41 751.88H1884.41M1875.41 737.32H1884.41" stroke="#7f7f7f" stroke-width="2.2" fill="none" opacity="0.8"/><path d="M1897.7 554.84V484.56M1893.2 554.84H1902.2M1893.2 484.56H1902.2" stroke="#7f7f7f" stroke-width="2.2" fill="none" opacity="0.8"/><path d="M1915.49 554.84V484.56M1910.99 554.84H1919.99M1910.99 484.56H1919.99" stroke="#7f7f7f" stroke-width="2.2" fill="none" opacity="0.8"/><path d="M1933.28 593.75V517.19M1928.78 593.75H1937.78M1928.78 517.19H1937.78" stroke="#7f7f7f" stroke-width="2.2" fill="none" opacity="0.8"/><path d="M1951.07 593.75V517.19M1946.57 593.75H1955.57M1946.57 517.19H1955.57" stroke="#7f7f7f" stroke-width="2.2" fill="none" opacity="0.8"/><path d="M1968.86 593.75V517.19M1964.36 593.75H1973.36M1964.36 517.19H1973.36" stroke="#7f7f7f" stroke-width="2.2" fill="none" opacity="0.8"/><path d="M1986.65 593.75V517.19M1982.15 593.75H1991.15M1982.15 517.19H1991.15" stroke="#7f7f7f" stroke-width="2.2" fill="none" opacity="0.8"/><path d="M2004.44 708.2V645.2M1999.94 708.2H2008.94M1999.94 645.2H2008.94" stroke="#7f7f7f" stroke-width="2.2" fill="none" opacity="0.8"/><path d="M2022.23 708.2V645.2M2017.73 708.2H2026.73M2017.73 645.2H2026.73" stroke="#7f7f7f" stroke-width="2.2" fill="none" opacity="0.8"/><path d="M2040.02 708.2V645.2M2035.52 708.2H2044.52M2035.52 645.2H2044.52" stroke="#7f7f7f" stroke-width="2.2" fill="none" opacity="0.8"/><path d="M2057.81 708.2V645.2M2053.31 708.2H2062.31M2053.31 645.2H2062.31" stroke="#7f7f7f" stroke-width="2.2" fill="none" opacity="0.8"/><path d="M2075.6 708.2V645.2M2071.1 708.2H2080.1M2071.1 645.2H2080.1" stroke="#7f7f7f" stroke-width="2.2" fill="none" opacity="0.8"/><path d="M2093.39 708.2V645.2M2088.89 708.2H2097.89M2088.89 645.2H2097.89" stroke="#7f7f7f" stroke-width="2.2" fill="none" opacity="0.8"/><path d="M2111.18 708.2V645.2M2106.68 708.2H2115.68M2106.68 645.2H2115.68" stroke="#7f7f7f" stroke-width="2.2" fill="none" opacity="0.8"/><path d="M2128.97 708.2V645.2M2124.47 708.2H2133.47M2124.47 645.2H2133.47" stroke="#7f7f7f" stroke-width="2.2" fill="none" opacity="0.8"/><path d="M2146.76 708.2V645.2M2142.26 708.2H2151.26M2142.26 645.2H2151.26" stroke="#7f7f7f" stroke-width="2.2" fill="none" opacity="0.8"/>
<text transform="translate(632 454.3) scale(0.93 1)" font-size="25.5" fill="#000"><tspan font-size="20.4" dy="-0.77">×</tspan><tspan dy="0.77">10</tspan><tspan dy="-11.47" font-size="20.4">5</tspan></text>
<circle cx="670.5" cy="506" r="7.3" fill="#7f7f7f" fill-opacity="0.8"/>
<text x="685" y="516" font-size="27.5" fill="#595959" text-anchor="start">Phospho-tau in solution</text>
<circle cx="670.5" cy="532.5" r="7.3" fill="#ff00ff" fill-opacity="0.7"/>
<text x="685" y="540" font-size="27.5" fill="#ff40ff" text-anchor="start">Phospho-tau in envelope</text>
<text x="1352.2" y="866.2" font-size="32" fill="#000" text-anchor="middle">Theoretical phosphorylation sites</text>
<text transform="translate(552.4 633.2) rotate(-90)" font-size="35" fill="#000" text-anchor="middle">Total relative intensities</text>
<text transform="translate(586.1 630) rotate(-90)" font-size="35" fill="#000" text-anchor="middle">measured</text>
<text x="492.8" y="440.1" font-size="62.5" fill="#000" text-anchor="start">c</text>
<rect x="798.52" y="892.8" width="201.91" height="308.5" fill="#f0f0f0"/>
<rect x="1167.83" y="892.8" width="315.12" height="308.5" fill="#eef5fd"/>
<rect x="1482.95" y="892.8" width="94.23" height="308.5" fill="#f7efe6"/>
<rect x="1594.09" y="892.8" width="88.01" height="308.5" fill="#f7efe6"/>
<rect x="1700.74" y="892.8" width="88.36" height="308.5" fill="#f7efe6"/>
<rect x="1806.36" y="892.8" width="93.19" height="308.5" fill="#f7efe6"/>
<rect x="1919.56" y="892.8" width="91.81" height="308.5" fill="#fbf8f0"/>
<g fill="#7f7f7f" fill-opacity="0.85" stroke="#fff" stroke-width="2.2"><circle cx="701.88" cy="1201.3" r="7.2"/><circle cx="705.33" cy="1201.3" r="7.2"/><circle cx="743.29" cy="1201.3" r="7.2"/><circle cx="746.75" cy="1201.3" r="7.2"/><circle cx="777.81" cy="1201.3" r="7.2"/><circle cx="801.97" cy="1201.3" r="7.2"/><circle cx="815.78" cy="1201.3" r="7.2"/><circle cx="822.68" cy="1201.3" r="7.2"/><circle cx="836.48" cy="1201.3" r="7.2"/><circle cx="853.74" cy="1201.3" r="7.2"/><circle cx="860.64" cy="1201.3" r="7.2"/><circle cx="864.1" cy="1201.3" r="7.2"/><circle cx="877.9" cy="1200.2" r="7.2"/><circle cx="881.35" cy="1199.1" r="7.2"/><circle cx="888.26" cy="1201.3" r="7.2"/><circle cx="905.51" cy="1201.3" r="7.2"/><circle cx="1226.5" cy="1201.3" r="7.2"/><circle cx="1247.21" cy="1202.62" r="7.2"/><circle cx="1267.92" cy="1201.3" r="7.2"/><circle cx="1316.24" cy="1201.3" r="7.2"/><circle cx="1323.15" cy="1201.3" r="7.2"/><circle cx="1326.6" cy="1192.26" r="7.2"/><circle cx="1330.05" cy="1174.18" r="7.2"/><circle cx="1340.4" cy="1140.22" r="7.2"/><circle cx="1350.76" cy="1078.04" r="7.2"/><circle cx="1361.11" cy="1181.9" r="7.2"/><circle cx="1368.01" cy="1186.75" r="7.2"/><circle cx="1374.92" cy="1185.87" r="7.2"/><circle cx="1381.82" cy="1199.1" r="7.2"/><circle cx="1392.18" cy="1192.26" r="7.2"/><circle cx="1402.53" cy="1201.3" r="7.2"/><circle cx="1440.5" cy="1093.03" r="7.2"/><circle cx="1454.3" cy="1046.51" r="7.2"/><circle cx="1461.21" cy="1186.31" r="7.2"/><circle cx="1464.66" cy="1177.71" r="7.2"/><circle cx="1475.01" cy="1201.3" r="7.2"/><circle cx="1488.82" cy="1201.3" r="7.2"/><circle cx="1533.69" cy="1201.3" r="7.2"/><circle cx="1547.49" cy="1201.3" r="7.2"/><circle cx="1550.94" cy="1201.3" r="7.2"/><circle cx="1626.88" cy="1201.3" r="7.2"/><circle cx="1640.68" cy="1201.3" r="7.2"/><circle cx="1695.91" cy="1202.62" r="7.2"/><circle cx="1713.16" cy="1201.3" r="7.2"/><circle cx="1733.87" cy="1201.3" r="7.2"/><circle cx="1761.49" cy="1201.3" r="7.2"/><circle cx="1820.16" cy="1201.3" r="7.2"/><circle cx="1858.13" cy="1201.3" r="7.2"/><circle cx="1871.93" cy="1201.3" r="7.2"/><circle cx="1889.19" cy="1201.3" r="7.2"/><circle cx="1930.61" cy="1201.3" r="7.2"/><circle cx="1944.42" cy="1201.3" r="7.2"/><circle cx="1975.48" cy="1201.3" r="7.2"/><circle cx="2003.09" cy="1201.3" r="7.2"/><circle cx="2009.99" cy="1195.35" r="7.2"/><circle cx="2023.8" cy="1190.05" r="7.2"/><circle cx="2034.15" cy="1114.64" r="7.2"/><circle cx="2037.61" cy="1079.36" r="7.2"/><circle cx="2054.86" cy="1201.3" r="7.2"/><circle cx="2065.22" cy="1201.3" r="7.2"/><circle cx="2068.67" cy="1201.3" r="7.2"/><circle cx="2072.12" cy="1201.3" r="7.2"/><circle cx="2079.02" cy="1201.3" r="7.2"/><circle cx="2099.73" cy="1202.62" r="7.2"/><circle cx="2116.99" cy="1201.3" r="7.2"/><circle cx="2137.7" cy="1201.3" r="7.2"/><circle cx="2144.6" cy="1201.3" r="7.2"/></g><path d="M1326.6 1199.1V1185.42M1322.6 1199.1H1330.6M1322.6 1185.42H1330.6" stroke="#555" stroke-width="1.3" fill="none" opacity="0.9"/><path d="M1330.05 1193.36V1154.77M1326.05 1193.36H1334.05M1326.05 1154.77H1334.05" stroke="#555" stroke-width="1.3" fill="none" opacity="0.9"/><path d="M1340.4 1158.52V1121.92M1336.4 1158.52H1344.4M1336.4 1121.92H1344.4" stroke="#555" stroke-width="1.3" fill="none" opacity="0.9"/><path d="M1350.76 1116.63V1039.67M1346.76 1116.63H1354.76M1346.76 1039.67H1354.76" stroke="#555" stroke-width="1.3" fill="none" opacity="0.9"/><path d="M1361.11 1201.3V1147.94M1357.11 1201.3H1365.11M1357.11 1147.94H1365.11" stroke="#555" stroke-width="1.3" fill="none" opacity="0.9"/><path d="M1368.01 1196.45V1177.93M1364.01 1196.45H1372.01M1364.01 1177.93H1372.01" stroke="#555" stroke-width="1.3" fill="none" opacity="0.9"/><path d="M1374.92 1191.38V1180.35M1370.92 1191.38H1378.92M1370.92 1180.35H1378.92" stroke="#555" stroke-width="1.3" fill="none" opacity="0.9"/><path d="M1381.82 1201.3V1196.89M1377.82 1201.3H1385.82M1377.82 1196.89H1385.82" stroke="#555" stroke-width="1.3" fill="none" opacity="0.9"/><path d="M1392.18 1195.79V1188.73M1388.18 1195.79H1396.18M1388.18 1188.73H1396.18" stroke="#555" stroke-width="1.3" fill="none" opacity="0.9"/><path d="M1440.5 1115.75V1070.1M1436.5 1115.75H1444.5M1436.5 1070.1H1444.5" stroke="#555" stroke-width="1.3" fill="none" opacity="0.9"/><path d="M1454.3 1059.08V1034.16M1450.3 1059.08H1458.3M1450.3 1034.16H1458.3" stroke="#555" stroke-width="1.3" fill="none" opacity="0.9"/><path d="M1461.21 1201.3V1167.12M1457.21 1201.3H1465.21M1457.21 1167.12H1465.21" stroke="#555" stroke-width="1.3" fill="none" opacity="0.9"/><path d="M1464.66 1201.3V1141.32M1460.66 1201.3H1468.66M1460.66 1141.32H1468.66" stroke="#555" stroke-width="1.3" fill="none" opacity="0.9"/><path d="M2009.99 1201.3V1189.39M2005.99 1201.3H2013.99M2005.99 1189.39H2013.99" stroke="#555" stroke-width="1.3" fill="none" opacity="0.9"/><path d="M2023.8 1201.3V1179.25M2019.8 1201.3H2027.8M2019.8 1179.25H2027.8" stroke="#555" stroke-width="1.3" fill="none" opacity="0.9"/><path d="M2034.15 1138.24V1091.05M2030.15 1138.24H2038.15M2030.15 1091.05H2038.15" stroke="#555" stroke-width="1.3" fill="none" opacity="0.9"/><path d="M2037.61 1105.38V1053.57M2033.61 1105.38H2041.61M2033.61 1053.57H2041.61" stroke="#555" stroke-width="1.3" fill="none" opacity="0.9"/>
<g fill="#3d7ff5" fill-opacity="0.85" stroke="#fff" stroke-width="2.2"><circle cx="701.88" cy="1201.3" r="7.2"/><circle cx="705.33" cy="1201.3" r="7.2"/><circle cx="743.29" cy="1201.3" r="7.2"/><circle cx="746.75" cy="1201.3" r="7.2"/><circle cx="777.81" cy="1201.3" r="7.2"/><circle cx="801.97" cy="1201.3" r="7.2"/><circle cx="815.78" cy="1201.3" r="7.2"/><circle cx="822.68" cy="1201.3" r="7.2"/><circle cx="836.48" cy="1201.3" r="7.2"/><circle cx="853.74" cy="1201.3" r="7.2"/><circle cx="860.64" cy="1201.3" r="7.2"/><circle cx="864.1" cy="1201.3" r="7.2"/><circle cx="877.9" cy="1199.1" r="7.2"/><circle cx="881.35" cy="1197.99" r="7.2"/><circle cx="888.26" cy="1201.3" r="7.2"/><circle cx="905.51" cy="1201.3" r="7.2"/><circle cx="1226.5" cy="1201.3" r="7.2"/><circle cx="1247.21" cy="1196.45" r="7.2"/><circle cx="1267.92" cy="1201.3" r="7.2"/><circle cx="1316.24" cy="1201.3" r="7.2"/><circle cx="1323.15" cy="1201.3" r="7.2"/><circle cx="1326.6" cy="1201.3" r="7.2"/><circle cx="1330.05" cy="1201.3" r="7.2"/><circle cx="1340.4" cy="1127.87" r="7.2"/><circle cx="1350.76" cy="1054.01" r="7.2"/><circle cx="1361.11" cy="1201.3" r="7.2"/><circle cx="1368.01" cy="1089.95" r="7.2"/><circle cx="1374.92" cy="1173.52" r="7.2"/><circle cx="1381.82" cy="1185.87" r="7.2"/><circle cx="1392.18" cy="1181.45" r="7.2"/><circle cx="1402.53" cy="1201.3" r="7.2"/><circle cx="1440.5" cy="1054.01" r="7.2"/><circle cx="1454.3" cy="1054.01" r="7.2"/><circle cx="1461.21" cy="1201.3" r="7.2"/><circle cx="1464.66" cy="1201.3" r="7.2"/><circle cx="1475.01" cy="1201.3" r="7.2"/><circle cx="1488.82" cy="1201.3" r="7.2"/><circle cx="1533.69" cy="1201.3" r="7.2"/><circle cx="1547.49" cy="1201.3" r="7.2"/><circle cx="1550.94" cy="1201.3" r="7.2"/><circle cx="1626.88" cy="1201.3" r="7.2"/><circle cx="1640.68" cy="1201.3" r="7.2"/><circle cx="1695.91" cy="1196.01" r="7.2"/><circle cx="1713.16" cy="1201.3" r="7.2"/><circle cx="1733.87" cy="1201.3" r="7.2"/><circle cx="1761.49" cy="1201.3" r="7.2"/><circle cx="1820.16" cy="1201.3" r="7.2"/><circle cx="1858.13" cy="1201.3" r="7.2"/><circle cx="1871.93" cy="1201.3" r="7.2"/><circle cx="1889.19" cy="1201.3" r="7.2"/><circle cx="1930.61" cy="1201.3" r="7.2"/><circle cx="1944.42" cy="1201.3" r="7.2"/><circle cx="1975.48" cy="1201.3" r="7.2"/><circle cx="2003.09" cy="1201.3" r="7.2"/><circle cx="2009.99" cy="1176.82" r="7.2"/><circle cx="2023.8" cy="1169.11" r="7.2"/><circle cx="2034.15" cy="1160.07" r="7.2"/><circle cx="2037.61" cy="1055.11" r="7.2"/><circle cx="2054.86" cy="1201.3" r="7.2"/><circle cx="2065.22" cy="1201.3" r="7.2"/><circle cx="2068.67" cy="1201.3" r="7.2"/><circle cx="2072.12" cy="1201.3" r="7.2"/><circle cx="2079.02" cy="1201.3" r="7.2"/><circle cx="2099.73" cy="1196.45" r="7.2"/><circle cx="2116.99" cy="1201.3" r="7.2"/><circle cx="2137.7" cy="1201.3" r="7.2"/><circle cx="2144.6" cy="1201.3" r="7.2"/></g><path d="M1247.21 1201.3V1188.95M1243.21 1201.3H1251.21M1243.21 1188.95H1251.21" stroke="#2f62e0" stroke-width="1.3" fill="none" opacity="0.9"/><path d="M1340.4 1201.3V1000.2M1336.4 1201.3H1344.4M1336.4 1000.2H1344.4" stroke="#2f62e0" stroke-width="1.3" fill="none" opacity="0.9"/><path d="M1350.76 1181.45V926.78M1346.76 1181.45H1354.76M1346.76 926.78H1354.76" stroke="#2f62e0" stroke-width="1.3" fill="none" opacity="0.9"/><path d="M1368.01 1132.28V1047.17M1364.01 1132.28H1372.01M1364.01 1047.17H1372.01" stroke="#2f62e0" stroke-width="1.3" fill="none" opacity="0.9"/><path d="M1374.92 1185.87V1161.17M1370.92 1185.87H1378.92M1370.92 1161.17H1378.92" stroke="#2f62e0" stroke-width="1.3" fill="none" opacity="0.9"/><path d="M1381.82 1201.3V1158.3M1377.82 1201.3H1385.82M1377.82 1158.3H1385.82" stroke="#2f62e0" stroke-width="1.3" fill="none" opacity="0.9"/><path d="M1392.18 1184.76V1178.15M1388.18 1184.76H1396.18M1388.18 1178.15H1396.18" stroke="#2f62e0" stroke-width="1.3" fill="none" opacity="0.9"/><path d="M1440.5 1181.45V926.78M1436.5 1181.45H1444.5M1436.5 926.78H1444.5" stroke="#2f62e0" stroke-width="1.3" fill="none" opacity="0.9"/><path d="M1454.3 1181.45V926.78M1450.3 1181.45H1458.3M1450.3 926.78H1458.3" stroke="#2f62e0" stroke-width="1.3" fill="none" opacity="0.9"/><path d="M1695.91 1197.99V1194.02M1691.91 1197.99H1699.91M1691.91 1194.02H1699.91" stroke="#2f62e0" stroke-width="1.3" fill="none" opacity="0.9"/><path d="M2009.99 1201.3V1151.47M2005.99 1201.3H2013.99M2005.99 1151.47H2013.99" stroke="#2f62e0" stroke-width="1.3" fill="none" opacity="0.9"/><path d="M2023.8 1201.3V1136.03M2019.8 1201.3H2027.8M2019.8 1136.03H2027.8" stroke="#2f62e0" stroke-width="1.3" fill="none" opacity="0.9"/><path d="M2034.15 1201.3V1087.3M2030.15 1201.3H2038.15M2030.15 1087.3H2038.15" stroke="#2f62e0" stroke-width="1.3" fill="none" opacity="0.9"/><path d="M2037.61 1102.74V1007.26M2033.61 1102.74H2041.61M2033.61 1007.26H2041.61" stroke="#2f62e0" stroke-width="1.3" fill="none" opacity="0.9"/><path d="M2099.73 1201.3V1188.29M2095.73 1201.3H2103.73M2095.73 1188.29H2103.73" stroke="#2f62e0" stroke-width="1.3" fill="none" opacity="0.9"/>
<path d="M815.78 892.8v10M815.78 1201.3v-10M988.35 892.8v10M988.35 1201.3v-10M1160.93 892.8v10M1160.93 1201.3v-10M1333.5 892.8v10M1333.5 1201.3v-10M1506.08 892.8v10M1506.08 1201.3v-10M1678.65 892.8v10M1678.65 1201.3v-10M1851.22 892.8v10M1851.22 1201.3v-10M2023.8 892.8v10M2023.8 1201.3v-10M643.2 1157.2h10M2163 1157.2h-10M643.2 1113.1h10M2163 1113.1h-10M643.2 1069h10M2163 1069h-10M643.2 1024.9h10M2163 1024.9h-10M643.2 980.8h10M2163 980.8h-10M643.2 936.7h10M2163 936.7h-10" stroke="#fff" stroke-width="6.5" fill="none"/>
<path d="M815.78 892.8v10M815.78 1201.3v-10M988.35 892.8v10M988.35 1201.3v-10M1160.93 892.8v10M1160.93 1201.3v-10M1333.5 892.8v10M1333.5 1201.3v-10M1506.08 892.8v10M1506.08 1201.3v-10M1678.65 892.8v10M1678.65 1201.3v-10M1851.22 892.8v10M1851.22 1201.3v-10M2023.8 892.8v10M2023.8 1201.3v-10M643.2 1157.2h10M2163 1157.2h-10M643.2 1113.1h10M2163 1113.1h-10M643.2 1069h10M2163 1069h-10M643.2 1024.9h10M2163 1024.9h-10M643.2 980.8h10M2163 980.8h-10M643.2 936.7h10M2163 936.7h-10" stroke="#222" stroke-width="3.6" fill="none"/>
<rect x="643.2" y="892.8" width="1519.8" height="308.5" fill="none" stroke="#222" stroke-width="5"/>
<g fill="#777" fill-opacity="0.75" stroke="#fff" stroke-width="2.8"><circle cx="971.09" cy="1201.3" r="7.3"/><circle cx="991.8" cy="1201.3" r="7.3"/><circle cx="995.25" cy="1201.3" r="7.3"/><circle cx="1026.32" cy="1201.3" r="7.3"/><circle cx="1033.22" cy="1201.3" r="7.3"/><circle cx="1157.47" cy="1201.3" r="7.3"/><circle cx="1171.28" cy="1201.3" r="7.3"/><circle cx="1278.28" cy="1201.3" r="7.3"/><circle cx="1281.73" cy="1201.3" r="7.3"/><circle cx="1302.44" cy="1201.3" r="7.3"/><circle cx="1654.49" cy="1201.3" r="7.3"/><circle cx="1744.23" cy="1201.3" r="7.3"/><circle cx="1747.68" cy="1201.3" r="7.3"/><circle cx="1114.33" cy="1201.3" r="7.3"/></g>
<text transform="translate(632 1211.5) scale(0.945 1)" font-size="37.5" fill="#000" text-anchor="end">0</text><text transform="translate(632 1167.4) scale(0.945 1)" font-size="37.5" fill="#000" text-anchor="end">20</text><text transform="translate(632 1123.3) scale(0.945 1)" font-size="37.5" fill="#000" text-anchor="end">40</text><text transform="translate(632 1079.2) scale(0.945 1)" font-size="37.5" fill="#000" text-anchor="end">60</text><text transform="translate(632 1035.1) scale(0.945 1)" font-size="37.5" fill="#000" text-anchor="end">80</text><text transform="translate(632 991) scale(0.945 1)" font-size="37.5" fill="#000" text-anchor="end">100</text><text transform="translate(632 946.9) scale(0.945 1)" font-size="37.5" fill="#000" text-anchor="end">120</text><text transform="translate(632 902.8) scale(0.945 1)" font-size="37.5" fill="#000" text-anchor="end">140</text>
<text x="642.7" y="1239" font-size="30.3" fill="#000" text-anchor="middle">0</text>
<text x="815.28" y="1239" font-size="30.3" fill="#000" text-anchor="middle">50</text>
<text x="987.85" y="1239" font-size="30.3" fill="#000" text-anchor="middle">100</text>
<text x="1160.43" y="1239" font-size="30.3" fill="#000" text-anchor="middle">150</text>
<text x="1333" y="1239" font-size="30.3" fill="#000" text-anchor="middle">200</text>
<text x="1505.58" y="1239" font-size="30.3" fill="#000" text-anchor="middle">250</text>
<text x="1678.15" y="1239" font-size="30.3" fill="#000" text-anchor="middle">300</text>
<text x="1850.72" y="1239" font-size="30.3" fill="#000" text-anchor="middle">350</text>
<text x="2023.3" y="1239" font-size="30.3" fill="#000" text-anchor="middle">400</text>
<text x="1408" y="1267.7" font-size="31.6" fill="#000" text-anchor="middle">Amino acid sequence</text>
<text transform="translate(534 1053.6) rotate(-90)" font-size="31.8" fill="#000" text-anchor="middle">Phosphorylation</text>
<text transform="translate(573 1049.7) rotate(-90)" font-size="31.8" fill="#000" text-anchor="middle">degree (%)</text>
<circle cx="679.5" cy="930.8" r="10" fill="#7f7f7f" fill-opacity="0.8"/>
<text x="705.7" y="940" font-size="31.8" fill="#595959" text-anchor="start">Bact-Cdk5-tau in solution</text>
<circle cx="679.5" cy="966.3" r="10" fill="#3d7ff5" fill-opacity="0.8"/>
<text x="705.7" y="975" font-size="31.8" fill="#3058e8" text-anchor="start">Bact-Cdk5-tau in envelopes</text>
<text x="488.1" y="890.1" font-size="62.5" fill="#000" text-anchor="start">d</text>
<path d="M163.07 1291.1v9.5M163.07 1603.7v-9.5M180.84 1291.1v9.5M180.84 1603.7v-9.5M198.61 1291.1v9.5M198.61 1603.7v-9.5M216.38 1291.1v9.5M216.38 1603.7v-9.5M234.15 1291.1v9.5M234.15 1603.7v-9.5M251.92 1291.1v9.5M251.92 1603.7v-9.5M269.69 1291.1v9.5M269.69 1603.7v-9.5M287.46 1291.1v9.5M287.46 1603.7v-9.5M305.23 1291.1v9.5M305.23 1603.7v-9.5M323 1291.1v9.5M323 1603.7v-9.5M340.77 1291.1v9.5M340.77 1603.7v-9.5M358.54 1291.1v9.5M358.54 1603.7v-9.5M376.31 1291.1v9.5M376.31 1603.7v-9.5M394.08 1291.1v9.5M394.08 1603.7v-9.5M411.85 1291.1v9.5M411.85 1603.7v-9.5M429.62 1291.1v9.5M429.62 1603.7v-9.5M447.39 1291.1v9.5M447.39 1603.7v-9.5M465.16 1291.1v9.5M465.16 1603.7v-9.5M482.93 1291.1v9.5M482.93 1603.7v-9.5M500.7 1291.1v9.5M500.7 1603.7v-9.5M518.47 1291.1v9.5M518.47 1603.7v-9.5M536.24 1291.1v9.5M536.24 1603.7v-9.5M554.01 1291.1v9.5M554.01 1603.7v-9.5M571.78 1291.1v9.5M571.78 1603.7v-9.5M589.55 1291.1v9.5M589.55 1603.7v-9.5M607.32 1291.1v9.5M607.32 1603.7v-9.5M625.09 1291.1v9.5M625.09 1603.7v-9.5M642.86 1291.1v9.5M642.86 1603.7v-9.5M660.63 1291.1v9.5M660.63 1603.7v-9.5M678.4 1291.1v9.5M678.4 1603.7v-9.5M696.17 1291.1v9.5M696.17 1603.7v-9.5M713.94 1291.1v9.5M713.94 1603.7v-9.5M731.71 1291.1v9.5M731.71 1603.7v-9.5M749.48 1291.1v9.5M749.48 1603.7v-9.5M767.25 1291.1v9.5M767.25 1603.7v-9.5M785.02 1291.1v9.5M785.02 1603.7v-9.5M802.79 1291.1v9.5M802.79 1603.7v-9.5M820.56 1291.1v9.5M820.56 1603.7v-9.5M838.33 1291.1v9.5M838.33 1603.7v-9.5M856.1 1291.1v9.5M856.1 1603.7v-9.5M873.87 1291.1v9.5M873.87 1603.7v-9.5M891.64 1291.1v9.5M891.64 1603.7v-9.5M909.41 1291.1v9.5M909.41 1603.7v-9.5M927.18 1291.1v9.5M927.18 1603.7v-9.5M944.95 1291.1v9.5M944.95 1603.7v-9.5M962.72 1291.1v9.5M962.72 1603.7v-9.5M980.49 1291.1v9.5M980.49 1603.7v-9.5M998.26 1291.1v9.5M998.26 1603.7v-9.5M1016.03 1291.1v9.5M1016.03 1603.7v-9.5M1033.8 1291.1v9.5M1033.8 1603.7v-9.5M1051.57 1291.1v9.5M1051.57 1603.7v-9.5M1069.34 1291.1v9.5M1069.34 1603.7v-9.5M1087.11 1291.1v9.5M1087.11 1603.7v-9.5M1104.88 1291.1v9.5M1104.88 1603.7v-9.5M1122.65 1291.1v9.5M1122.65 1603.7v-9.5M1140.42 1291.1v9.5M1140.42 1603.7v-9.5M1158.19 1291.1v9.5M1158.19 1603.7v-9.5M1175.96 1291.1v9.5M1175.96 1603.7v-9.5M1193.73 1291.1v9.5M1193.73 1603.7v-9.5M1211.5 1291.1v9.5M1211.5 1603.7v-9.5M1229.27 1291.1v9.5M1229.27 1603.7v-9.5M1247.04 1291.1v9.5M1247.04 1603.7v-9.5M1264.81 1291.1v9.5M1264.81 1603.7v-9.5M1282.58 1291.1v9.5M1282.58 1603.7v-9.5M1300.35 1291.1v9.5M1300.35 1603.7v-9.5M1318.12 1291.1v9.5M1318.12 1603.7v-9.5M1335.89 1291.1v9.5M1335.89 1603.7v-9.5M1353.66 1291.1v9.5M1353.66 1603.7v-9.5M1371.43 1291.1v9.5M1371.43 1603.7v-9.5M1389.2 1291.1v9.5M1389.2 1603.7v-9.5M1406.97 1291.1v9.5M1406.97 1603.7v-9.5M1424.74 1291.1v9.5M1424.74 1603.7v-9.5M1442.51 1291.1v9.5M1442.51 1603.7v-9.5M1460.28 1291.1v9.5M1460.28 1603.7v-9.5M1478.05 1291.1v9.5M1478.05 1603.7v-9.5M1495.82 1291.1v9.5M1495.82 1603.7v-9.5M1513.59 1291.1v9.5M1513.59 1603.7v-9.5M1531.36 1291.1v9.5M1531.36 1603.7v-9.5M1549.13 1291.1v9.5M1549.13 1603.7v-9.5M1566.9 1291.1v9.5M1566.9 1603.7v-9.5M1584.67 1291.1v9.5M1584.67 1603.7v-9.5M1602.44 1291.1v9.5M1602.44 1603.7v-9.5M1620.21 1291.1v9.5M1620.21 1603.7v-9.5M1637.98 1291.1v9.5M1637.98 1603.7v-9.5M1655.75 1291.1v9.5M1655.75 1603.7v-9.5M145.8 1555.7h10.5M145.8 1507.7h10.5M145.8 1459.7h10.5M145.8 1411.7h10.5M145.8 1363.7h10.5M145.8 1315.7h10.5M1673.7 1555.7h-10.5M1673.7 1507.7h-10.5M1673.7 1459.7h-10.5M1673.7 1411.7h-10.5M1673.7 1363.7h-10.5M1673.7 1315.7h-10.5" stroke="#222" stroke-width="4.3" fill="none"/><rect x="145.8" y="1291.1" width="1527.9" height="312.6" fill="none" stroke="#222" stroke-width="5"/>
<text transform="translate(136.6 1612.7) scale(0.91 1)" font-size="34.6" fill="#000" text-anchor="end">0</text><text transform="translate(136.6 1564.7) scale(0.91 1)" font-size="34.6" fill="#000" text-anchor="end">20</text><text transform="translate(136.6 1516.7) scale(0.91 1)" font-size="34.6" fill="#000" text-anchor="end">40</text><text transform="translate(136.6 1468.7) scale(0.91 1)" font-size="34.6" fill="#000" text-anchor="end">60</text><text transform="translate(136.6 1420.7) scale(0.91 1)" font-size="34.6" fill="#000" text-anchor="end">80</text><text transform="translate(136.6 1372.7) scale(0.91 1)" font-size="34.6" fill="#000" text-anchor="end">100</text><text transform="translate(136.6 1324.7) scale(0.91 1)" font-size="34.6" fill="#000" text-anchor="end">120</text>
<g><text transform="translate(170.41 1619.5) rotate(-90)" font-size="20.5" fill="#000" text-anchor="end">T17</text><text transform="translate(188.18 1619.5) rotate(-90)" font-size="20.5" fill="#000" text-anchor="end">Y18</text><text transform="translate(205.95 1619.5) rotate(-90)" font-size="20.5" fill="#000" text-anchor="end">Y29</text><text transform="translate(223.72 1619.5) rotate(-90)" font-size="20.5" fill="#000" text-anchor="end">T30</text><text transform="translate(241.49 1619.5) rotate(-90)" font-size="20.5" fill="#000" text-anchor="end">T39</text><text transform="translate(259.26 1619.5) rotate(-90)" font-size="20.5" fill="#929292" text-anchor="end">S46</text><text transform="translate(277.03 1619.5) rotate(-90)" font-size="20.5" fill="#929292" text-anchor="end">T50</text><text transform="translate(294.8 1619.5) rotate(-90)" font-size="20.5" fill="#929292" text-anchor="end">T52</text><text transform="translate(312.57 1619.5) rotate(-90)" font-size="20.5" fill="#929292" text-anchor="end">S56</text><text transform="translate(330.34 1619.5) rotate(-90)" font-size="20.5" fill="#929292" text-anchor="end">S61</text><text transform="translate(348.11 1619.5) rotate(-90)" font-size="20.5" fill="#929292" text-anchor="end">T63</text><text transform="translate(365.88 1619.5) rotate(-90)" font-size="20.5" fill="#929292" text-anchor="end">S64</text><text transform="translate(383.65 1619.5) rotate(-90)" font-size="20.5" fill="#929292" text-anchor="end">S68</text><text transform="translate(401.42 1619.5) rotate(-90)" font-size="20.5" fill="#929292" text-anchor="end">T69</text><text transform="translate(419.19 1619.5) rotate(-90)" font-size="20.5" fill="#929292" text-anchor="end">T71</text><text transform="translate(436.96 1619.5) rotate(-90)" font-size="20.5" fill="#929292" text-anchor="end">T76</text><text transform="translate(454.73 1619.5) rotate(-90)" font-size="20.5" fill="#929292" text-anchor="end">T95</text><text transform="translate(472.5 1619.5) rotate(-90)" font-size="20.5" fill="#929292" text-anchor="end">T101</text><text transform="translate(490.27 1619.5) rotate(-90)" font-size="20.5" fill="#929292" text-anchor="end">T102</text><text transform="translate(508.04 1619.5) rotate(-90)" font-size="20.5" fill="#000" text-anchor="end">T111</text><text transform="translate(525.81 1619.5) rotate(-90)" font-size="20.5" fill="#000" text-anchor="end">S113</text><text transform="translate(543.58 1619.5) rotate(-90)" font-size="20.5" fill="#000" text-anchor="end">T123</text><text transform="translate(561.35 1619.5) rotate(-90)" font-size="20.5" fill="#000" text-anchor="end">S129</text><text transform="translate(579.12 1619.5) rotate(-90)" font-size="20.5" fill="#000" text-anchor="end">S131</text><text transform="translate(596.89 1619.5) rotate(-90)" font-size="20.5" fill="#000" text-anchor="end">T135</text><text transform="translate(614.66 1619.5) rotate(-90)" font-size="20.5" fill="#000" text-anchor="end">S137</text><text transform="translate(632.43 1619.5) rotate(-90)" font-size="20.5" fill="#4a90e2" text-anchor="end">T149</text><text transform="translate(650.2 1619.5) rotate(-90)" font-size="20.5" fill="#4a90e2" text-anchor="end">T153</text><text transform="translate(667.97 1619.5) rotate(-90)" font-size="20.5" fill="#4a90e2" text-anchor="end">T169</text><text transform="translate(685.74 1619.5) rotate(-90)" font-size="20.5" fill="#4a90e2" text-anchor="end">T175</text><text transform="translate(703.51 1619.5) rotate(-90)" font-size="20.5" fill="#4a90e2" text-anchor="end">T181</text><text transform="translate(721.28 1619.5) rotate(-90)" font-size="20.5" fill="#4a90e2" text-anchor="end">S184</text><text transform="translate(739.05 1619.5) rotate(-90)" font-size="20.5" fill="#4a90e2" text-anchor="end">S185</text><text transform="translate(756.82 1619.5) rotate(-90)" font-size="20.5" fill="#4a90e2" text-anchor="end">S191</text><text transform="translate(774.59 1619.5) rotate(-90)" font-size="20.5" fill="#4a90e2" text-anchor="end">S195</text><text transform="translate(792.36 1619.5) rotate(-90)" font-size="20.5" fill="#4a90e2" text-anchor="end">Y197</text><text transform="translate(810.13 1619.5) rotate(-90)" font-size="20.5" fill="#4a90e2" text-anchor="end">S198</text><text transform="translate(827.9 1619.5) rotate(-90)" font-size="20.5" fill="#4a90e2" text-anchor="end">S199</text><text transform="translate(845.67 1619.5) rotate(-90)" font-size="20.5" fill="#4a90e2" text-anchor="end">S202</text><text transform="translate(863.44 1619.5) rotate(-90)" font-size="20.5" fill="#4a90e2" text-anchor="end">T205</text><text transform="translate(881.21 1619.5) rotate(-90)" font-size="20.5" fill="#4a90e2" text-anchor="end">S208</text><text transform="translate(898.98 1619.5) rotate(-90)" font-size="20.5" fill="#4a90e2" text-anchor="end">S210</text><text transform="translate(916.75 1619.5) rotate(-90)" font-size="20.5" fill="#4a90e2" text-anchor="end">T212</text><text transform="translate(934.52 1619.5) rotate(-90)" font-size="20.5" fill="#4a90e2" text-anchor="end">S214</text><text transform="translate(952.29 1619.5) rotate(-90)" font-size="20.5" fill="#4a90e2" text-anchor="end">T217</text><text transform="translate(970.06 1619.5) rotate(-90)" font-size="20.5" fill="#4a90e2" text-anchor="end">T220</text><text transform="translate(987.83 1619.5) rotate(-90)" font-size="20.5" fill="#4a90e2" text-anchor="end">T231</text><text transform="translate(1005.6 1619.5) rotate(-90)" font-size="20.5" fill="#4a90e2" text-anchor="end">S235</text><text transform="translate(1023.37 1619.5) rotate(-90)" font-size="20.5" fill="#4a90e2" text-anchor="end">S237</text><text transform="translate(1041.14 1619.5) rotate(-90)" font-size="20.5" fill="#4a90e2" text-anchor="end">S238</text><text transform="translate(1058.91 1619.5) rotate(-90)" font-size="20.5" fill="#4a90e2" text-anchor="end">S241</text><text transform="translate(1076.68 1619.5) rotate(-90)" font-size="20.5" fill="#e8611a" text-anchor="end">T245</text><text transform="translate(1094.45 1619.5) rotate(-90)" font-size="20.5" fill="#e8611a" text-anchor="end">S258</text><text transform="translate(1112.22 1619.5) rotate(-90)" font-size="20.5" fill="#e8611a" text-anchor="end">S262</text><text transform="translate(1129.99 1619.5) rotate(-90)" font-size="20.5" fill="#e8611a" text-anchor="end">T263</text><text transform="translate(1147.76 1619.5) rotate(-90)" font-size="20.5" fill="#e8611a" text-anchor="end">S285</text><text transform="translate(1165.53 1619.5) rotate(-90)" font-size="20.5" fill="#e8611a" text-anchor="end">S289</text><text transform="translate(1183.3 1619.5) rotate(-90)" font-size="20.5" fill="#e8611a" text-anchor="end">S293</text><text transform="translate(1201.07 1619.5) rotate(-90)" font-size="20.5" fill="#e8611a" text-anchor="end">S305</text><text transform="translate(1218.84 1619.5) rotate(-90)" font-size="20.5" fill="#e8611a" text-anchor="end">Y310</text><text transform="translate(1236.61 1619.5) rotate(-90)" font-size="20.5" fill="#e8611a" text-anchor="end">S316</text><text transform="translate(1254.38 1619.5) rotate(-90)" font-size="20.5" fill="#e8611a" text-anchor="end">T319</text><text transform="translate(1272.15 1619.5) rotate(-90)" font-size="20.5" fill="#e8611a" text-anchor="end">S320</text><text transform="translate(1289.92 1619.5) rotate(-90)" font-size="20.5" fill="#e8611a" text-anchor="end">S324</text><text transform="translate(1307.69 1619.5) rotate(-90)" font-size="20.5" fill="#e8611a" text-anchor="end">S341</text><text transform="translate(1325.46 1619.5) rotate(-90)" font-size="20.5" fill="#e8611a" text-anchor="end">S352</text><text transform="translate(1343.23 1619.5) rotate(-90)" font-size="20.5" fill="#e8611a" text-anchor="end">S356</text><text transform="translate(1361 1619.5) rotate(-90)" font-size="20.5" fill="#e8611a" text-anchor="end">T361</text><text transform="translate(1378.77 1619.5) rotate(-90)" font-size="20.5" fill="#ebb950" text-anchor="end">T373</text><text transform="translate(1396.54 1619.5) rotate(-90)" font-size="20.5" fill="#ebb950" text-anchor="end">T377</text><text transform="translate(1414.31 1619.5) rotate(-90)" font-size="20.5" fill="#ebb950" text-anchor="end">T386</text><text transform="translate(1432.08 1619.5) rotate(-90)" font-size="20.5" fill="#ebb950" text-anchor="end">Y394</text><text transform="translate(1449.85 1619.5) rotate(-90)" font-size="20.5" fill="#000" text-anchor="end">S396</text><text transform="translate(1467.62 1619.5) rotate(-90)" font-size="20.5" fill="#000" text-anchor="end">S400</text><text transform="translate(1485.39 1619.5) rotate(-90)" font-size="20.5" fill="#000" text-anchor="end">T403</text><text transform="translate(1503.16 1619.5) rotate(-90)" font-size="20.5" fill="#000" text-anchor="end">S404</text><text transform="translate(1520.93 1619.5) rotate(-90)" font-size="20.5" fill="#000" text-anchor="end">S409</text><text transform="translate(1538.7 1619.5) rotate(-90)" font-size="20.5" fill="#000" text-anchor="end">S412</text><text transform="translate(1556.47 1619.5) rotate(-90)" font-size="20.5" fill="#000" text-anchor="end">S413</text><text transform="translate(1574.24 1619.5) rotate(-90)" font-size="20.5" fill="#000" text-anchor="end">T414</text><text transform="translate(1592.01 1619.5) rotate(-90)" font-size="20.5" fill="#000" text-anchor="end">S416</text><text transform="translate(1609.78 1619.5) rotate(-90)" font-size="20.5" fill="#000" text-anchor="end">S422</text><text transform="translate(1627.55 1619.5) rotate(-90)" font-size="20.5" fill="#000" text-anchor="end">T427</text><text transform="translate(1645.32 1619.5) rotate(-90)" font-size="20.5" fill="#000" text-anchor="end">S433</text><text transform="translate(1663.09 1619.5) rotate(-90)" font-size="20.5" fill="#000" text-anchor="end">S435</text></g>
<g fill="#666" fill-opacity="0.9" stroke="#fff" stroke-width="2.5"><circle cx="163.07" cy="1603.7" r="6.45"/><circle cx="180.84" cy="1603.7" r="6.45"/><circle cx="198.61" cy="1603.7" r="6.45"/><circle cx="216.38" cy="1603.7" r="6.45"/><circle cx="234.15" cy="1603.7" r="6.45"/><circle cx="251.92" cy="1603.7" r="6.45"/><circle cx="269.69" cy="1603.7" r="6.45"/><circle cx="287.46" cy="1603.7" r="6.45"/><circle cx="305.23" cy="1603.7" r="6.45"/><circle cx="323" cy="1603.7" r="6.45"/><circle cx="340.77" cy="1603.7" r="6.45"/><circle cx="358.54" cy="1603.7" r="6.45"/><circle cx="376.31" cy="1602.5" r="6.45"/><circle cx="394.08" cy="1601.3" r="6.45"/><circle cx="411.85" cy="1603.7" r="6.45"/><circle cx="429.62" cy="1603.7" r="6.45"/><circle cx="447.39" cy="1603.7" r="6.45"/><circle cx="465.16" cy="1603.7" r="6.45"/><circle cx="482.93" cy="1603.7" r="6.45"/><circle cx="500.7" cy="1603.7" r="6.45"/><circle cx="518.47" cy="1603.7" r="6.45"/><circle cx="536.24" cy="1603.7" r="6.45"/><circle cx="625.09" cy="1603.7" r="6.45"/><circle cx="642.86" cy="1603.7" r="6.45"/><circle cx="660.63" cy="1603.7" r="6.45"/><circle cx="678.4" cy="1605.14" r="6.45"/><circle cx="696.17" cy="1603.7" r="6.45"/><circle cx="713.94" cy="1603.7" r="6.45"/><circle cx="731.71" cy="1603.7" r="6.45"/><circle cx="749.48" cy="1603.7" r="6.45"/><circle cx="767.25" cy="1603.7" r="6.45"/><circle cx="785.02" cy="1603.7" r="6.45"/><circle cx="802.79" cy="1593.86" r="6.45"/><circle cx="820.56" cy="1574.18" r="6.45"/><circle cx="838.33" cy="1537.22" r="6.45"/><circle cx="856.1" cy="1469.54" r="6.45"/><circle cx="873.87" cy="1582.58" r="6.45"/><circle cx="891.64" cy="1587.86" r="6.45"/><circle cx="909.41" cy="1586.9" r="6.45"/><circle cx="927.18" cy="1601.3" r="6.45"/><circle cx="944.95" cy="1593.86" r="6.45"/><circle cx="962.72" cy="1603.7" r="6.45"/><circle cx="980.49" cy="1485.86" r="6.45"/><circle cx="998.26" cy="1435.22" r="6.45"/><circle cx="1016.03" cy="1587.38" r="6.45"/><circle cx="1033.8" cy="1578.02" r="6.45"/><circle cx="1051.57" cy="1603.7" r="6.45"/><circle cx="1069.34" cy="1603.7" r="6.45"/><circle cx="1087.11" cy="1603.7" r="6.45"/><circle cx="1104.88" cy="1603.7" r="6.45"/><circle cx="1122.65" cy="1603.7" r="6.45"/><circle cx="1140.42" cy="1603.7" r="6.45"/><circle cx="1158.19" cy="1603.7" r="6.45"/><circle cx="1175.96" cy="1603.7" r="6.45"/><circle cx="1193.73" cy="1605.14" r="6.45"/><circle cx="1211.5" cy="1603.7" r="6.45"/><circle cx="1229.27" cy="1603.7" r="6.45"/><circle cx="1247.04" cy="1603.7" r="6.45"/><circle cx="1264.81" cy="1603.7" r="6.45"/><circle cx="1282.58" cy="1603.7" r="6.45"/><circle cx="1300.35" cy="1603.7" r="6.45"/><circle cx="1318.12" cy="1603.7" r="6.45"/><circle cx="1335.89" cy="1603.7" r="6.45"/><circle cx="1353.66" cy="1603.7" r="6.45"/><circle cx="1371.43" cy="1603.7" r="6.45"/><circle cx="1389.2" cy="1603.7" r="6.45"/><circle cx="1406.97" cy="1603.7" r="6.45"/><circle cx="1424.74" cy="1603.7" r="6.45"/><circle cx="1442.51" cy="1597.22" r="6.45"/><circle cx="1460.28" cy="1591.46" r="6.45"/><circle cx="1478.05" cy="1509.38" r="6.45"/><circle cx="1495.82" cy="1470.98" r="6.45"/><circle cx="1513.59" cy="1603.7" r="6.45"/><circle cx="1531.36" cy="1603.7" r="6.45"/><circle cx="1549.13" cy="1603.7" r="6.45"/><circle cx="1566.9" cy="1603.7" r="6.45"/><circle cx="1584.67" cy="1603.7" r="6.45"/><circle cx="1602.44" cy="1605.14" r="6.45"/><circle cx="1620.21" cy="1603.7" r="6.45"/><circle cx="1637.98" cy="1603.7" r="6.45"/><circle cx="1655.75" cy="1603.7" r="6.45"/></g><path d="M802.79 1601.3V1586.42M798.29 1601.3H807.29M798.29 1586.42H807.29" stroke="#555" stroke-width="1.5" fill="none" opacity="0.9"/><path d="M820.56 1595.06V1553.06M816.06 1595.06H825.06M816.06 1553.06H825.06" stroke="#555" stroke-width="1.5" fill="none" opacity="0.9"/><path d="M838.33 1557.14V1517.3M833.83 1557.14H842.83M833.83 1517.3H842.83" stroke="#555" stroke-width="1.5" fill="none" opacity="0.9"/><path d="M856.1 1511.54V1427.78M851.6 1511.54H860.6M851.6 1427.78H860.6" stroke="#555" stroke-width="1.5" fill="none" opacity="0.9"/><path d="M873.87 1603.7V1545.62M869.37 1603.7H878.37M869.37 1545.62H878.37" stroke="#555" stroke-width="1.5" fill="none" opacity="0.9"/><path d="M891.64 1598.42V1578.26M887.14 1598.42H896.14M887.14 1578.26H896.14" stroke="#555" stroke-width="1.5" fill="none" opacity="0.9"/><path d="M909.41 1592.9V1580.9M904.91 1592.9H913.91M904.91 1580.9H913.91" stroke="#555" stroke-width="1.5" fill="none" opacity="0.9"/><path d="M927.18 1603.7V1598.9M922.68 1603.7H931.68M922.68 1598.9H931.68" stroke="#555" stroke-width="1.5" fill="none" opacity="0.9"/><path d="M944.95 1597.7V1590.02M940.45 1597.7H949.45M940.45 1590.02H949.45" stroke="#555" stroke-width="1.5" fill="none" opacity="0.9"/><path d="M980.49 1510.58V1460.9M975.99 1510.58H984.99M975.99 1460.9H984.99" stroke="#555" stroke-width="1.5" fill="none" opacity="0.9"/><path d="M998.26 1448.9V1421.78M993.76 1448.9H1002.76M993.76 1421.78H1002.76" stroke="#555" stroke-width="1.5" fill="none" opacity="0.9"/><path d="M1016.03 1603.7V1566.5M1011.53 1603.7H1020.53M1011.53 1566.5H1020.53" stroke="#555" stroke-width="1.5" fill="none" opacity="0.9"/><path d="M1033.8 1603.7V1538.42M1029.3 1603.7H1038.3M1029.3 1538.42H1038.3" stroke="#555" stroke-width="1.5" fill="none" opacity="0.9"/><path d="M1442.51 1603.7V1590.74M1438.01 1603.7H1447.01M1438.01 1590.74H1447.01" stroke="#555" stroke-width="1.5" fill="none" opacity="0.9"/><path d="M1460.28 1603.7V1579.7M1455.78 1603.7H1464.78M1455.78 1579.7H1464.78" stroke="#555" stroke-width="1.5" fill="none" opacity="0.9"/><path d="M1478.05 1535.06V1483.7M1473.55 1535.06H1482.55M1473.55 1483.7H1482.55" stroke="#555" stroke-width="1.5" fill="none" opacity="0.9"/><path d="M1495.82 1499.3V1442.9M1491.32 1499.3H1500.32M1491.32 1442.9H1500.32" stroke="#555" stroke-width="1.5" fill="none" opacity="0.9"/>
<g fill="#3d7ff5" fill-opacity="0.85" stroke="#fff" stroke-width="2.5"><circle cx="163.07" cy="1603.7" r="6.45"/><circle cx="180.84" cy="1603.7" r="6.45"/><circle cx="198.61" cy="1603.7" r="6.45"/><circle cx="216.38" cy="1603.7" r="6.45"/><circle cx="234.15" cy="1603.7" r="6.45"/><circle cx="251.92" cy="1603.7" r="6.45"/><circle cx="269.69" cy="1603.7" r="6.45"/><circle cx="287.46" cy="1603.7" r="6.45"/><circle cx="305.23" cy="1603.7" r="6.45"/><circle cx="323" cy="1603.7" r="6.45"/><circle cx="340.77" cy="1603.7" r="6.45"/><circle cx="358.54" cy="1603.7" r="6.45"/><circle cx="376.31" cy="1601.3" r="6.45"/><circle cx="394.08" cy="1600.1" r="6.45"/><circle cx="411.85" cy="1603.7" r="6.45"/><circle cx="429.62" cy="1603.7" r="6.45"/><circle cx="660.63" cy="1603.7" r="6.45"/><circle cx="678.4" cy="1598.42" r="6.45"/><circle cx="696.17" cy="1603.7" r="6.45"/><circle cx="767.25" cy="1603.7" r="6.45"/><circle cx="785.02" cy="1603.7" r="6.45"/><circle cx="802.79" cy="1603.7" r="6.45"/><circle cx="820.56" cy="1603.7" r="6.45"/><circle cx="838.33" cy="1523.78" r="6.45"/><circle cx="856.1" cy="1443.38" r="6.45"/><circle cx="873.87" cy="1603.7" r="6.45"/><circle cx="891.64" cy="1482.5" r="6.45"/><circle cx="909.41" cy="1573.46" r="6.45"/><circle cx="927.18" cy="1586.9" r="6.45"/><circle cx="944.95" cy="1582.1" r="6.45"/><circle cx="962.72" cy="1603.7" r="6.45"/><circle cx="980.49" cy="1443.38" r="6.45"/><circle cx="998.26" cy="1443.38" r="6.45"/><circle cx="1016.03" cy="1603.7" r="6.45"/><circle cx="1033.8" cy="1603.7" r="6.45"/><circle cx="1051.57" cy="1603.7" r="6.45"/><circle cx="1069.34" cy="1603.7" r="6.45"/><circle cx="1087.11" cy="1603.7" r="6.45"/><circle cx="1104.88" cy="1603.7" r="6.45"/><circle cx="1122.65" cy="1603.7" r="6.45"/><circle cx="1140.42" cy="1603.7" r="6.45"/><circle cx="1158.19" cy="1603.7" r="6.45"/><circle cx="1193.73" cy="1597.94" r="6.45"/><circle cx="1211.5" cy="1603.7" r="6.45"/><circle cx="1229.27" cy="1603.7" r="6.45"/><circle cx="1282.58" cy="1603.7" r="6.45"/><circle cx="1300.35" cy="1603.7" r="6.45"/><circle cx="1318.12" cy="1603.7" r="6.45"/><circle cx="1335.89" cy="1603.7" r="6.45"/><circle cx="1353.66" cy="1603.7" r="6.45"/><circle cx="1371.43" cy="1603.7" r="6.45"/><circle cx="1389.2" cy="1603.7" r="6.45"/><circle cx="1406.97" cy="1603.7" r="6.45"/><circle cx="1424.74" cy="1603.7" r="6.45"/><circle cx="1442.51" cy="1577.06" r="6.45"/><circle cx="1460.28" cy="1568.66" r="6.45"/><circle cx="1478.05" cy="1558.82" r="6.45"/><circle cx="1495.82" cy="1444.58" r="6.45"/><circle cx="1513.59" cy="1603.7" r="6.45"/><circle cx="1531.36" cy="1603.7" r="6.45"/><circle cx="1549.13" cy="1603.7" r="6.45"/><circle cx="1566.9" cy="1603.7" r="6.45"/><circle cx="1584.67" cy="1603.7" r="6.45"/><circle cx="1602.44" cy="1598.42" r="6.45"/><circle cx="1620.21" cy="1603.7" r="6.45"/><circle cx="1637.98" cy="1603.7" r="6.45"/><circle cx="1655.75" cy="1603.7" r="6.45"/></g><path d="M678.4 1603.7V1590.26M673.9 1603.7H682.9M673.9 1590.26H682.9" stroke="#2f62e0" stroke-width="1.6" fill="none" opacity="0.95"/><path d="M838.33 1603.7V1384.82M833.83 1603.7H842.83M833.83 1384.82H842.83" stroke="#2f62e0" stroke-width="1.6" fill="none" opacity="0.95"/><path d="M856.1 1582.1V1304.9M851.6 1582.1H860.6M851.6 1304.9H860.6" stroke="#2f62e0" stroke-width="1.6" fill="none" opacity="0.95"/><path d="M891.64 1528.58V1435.94M887.14 1528.58H896.14M887.14 1435.94H896.14" stroke="#2f62e0" stroke-width="1.6" fill="none" opacity="0.95"/><path d="M909.41 1586.9V1560.02M904.91 1586.9H913.91M904.91 1560.02H913.91" stroke="#2f62e0" stroke-width="1.6" fill="none" opacity="0.95"/><path d="M927.18 1603.7V1556.9M922.68 1603.7H931.68M922.68 1556.9H931.68" stroke="#2f62e0" stroke-width="1.6" fill="none" opacity="0.95"/><path d="M944.95 1585.7V1578.5M940.45 1585.7H949.45M940.45 1578.5H949.45" stroke="#2f62e0" stroke-width="1.6" fill="none" opacity="0.95"/><path d="M980.49 1582.1V1304.9M975.99 1582.1H984.99M975.99 1304.9H984.99" stroke="#2f62e0" stroke-width="1.6" fill="none" opacity="0.95"/><path d="M998.26 1582.1V1304.9M993.76 1582.1H1002.76M993.76 1304.9H1002.76" stroke="#2f62e0" stroke-width="1.6" fill="none" opacity="0.95"/><path d="M1193.73 1600.1V1595.78M1189.23 1600.1H1198.23M1189.23 1595.78H1198.23" stroke="#2f62e0" stroke-width="1.6" fill="none" opacity="0.95"/><path d="M1442.51 1603.7V1549.46M1438.01 1603.7H1447.01M1438.01 1549.46H1447.01" stroke="#2f62e0" stroke-width="1.6" fill="none" opacity="0.95"/><path d="M1460.28 1603.7V1532.66M1455.78 1603.7H1464.78M1455.78 1532.66H1464.78" stroke="#2f62e0" stroke-width="1.6" fill="none" opacity="0.95"/><path d="M1478.05 1603.7V1479.62M1473.55 1603.7H1482.55M1473.55 1479.62H1482.55" stroke="#2f62e0" stroke-width="1.6" fill="none" opacity="0.95"/><path d="M1495.82 1496.42V1392.5M1491.32 1496.42H1500.32M1491.32 1392.5H1500.32" stroke="#2f62e0" stroke-width="1.6" fill="none" opacity="0.95"/><path d="M1602.44 1603.7V1589.54M1597.94 1603.7H1606.94M1597.94 1589.54H1606.94" stroke="#2f62e0" stroke-width="1.6" fill="none" opacity="0.95"/>
<path d="M442.99 1559.7L451.79 1568.5M442.99 1568.5L451.79 1559.7" stroke="#3a66f0" stroke-width="3.7" fill="none"/>
<path d="M460.76 1559.7L469.56 1568.5M460.76 1568.5L469.56 1559.7" stroke="#3a66f0" stroke-width="3.7" fill="none"/>
<path d="M478.53 1559.7L487.33 1568.5M478.53 1568.5L487.33 1559.7" stroke="#3a66f0" stroke-width="3.7" fill="none"/>
<path d="M496.3 1559.7L505.1 1568.5M496.3 1568.5L505.1 1559.7" stroke="#3a66f0" stroke-width="3.7" fill="none"/>
<path d="M514.07 1559.7L522.87 1568.5M514.07 1568.5L522.87 1559.7" stroke="#3a66f0" stroke-width="3.7" fill="none"/>
<path d="M531.84 1559.7L540.64 1568.5M531.84 1568.5L540.64 1559.7" stroke="#3a66f0" stroke-width="3.7" fill="none"/>
<path d="M620.69 1559.7L629.49 1568.5M620.69 1568.5L629.49 1559.7" stroke="#3a66f0" stroke-width="3.7" fill="none"/>
<path d="M638.46 1559.7L647.26 1568.5M638.46 1568.5L647.26 1559.7" stroke="#3a66f0" stroke-width="3.7" fill="none"/>
<path d="M709.54 1559.7L718.34 1568.5M709.54 1568.5L718.34 1559.7" stroke="#3a66f0" stroke-width="3.7" fill="none"/>
<path d="M727.31 1559.7L736.11 1568.5M727.31 1568.5L736.11 1559.7" stroke="#3a66f0" stroke-width="3.7" fill="none"/>
<path d="M745.08 1559.7L753.88 1568.5M745.08 1568.5L753.88 1559.7" stroke="#3a66f0" stroke-width="3.7" fill="none"/>
<path d="M1171.56 1559.7L1180.36 1568.5M1171.56 1568.5L1180.36 1559.7" stroke="#3a66f0" stroke-width="3.7" fill="none"/>
<path d="M1242.64 1559.7L1251.44 1568.5M1242.64 1568.5L1251.44 1559.7" stroke="#3a66f0" stroke-width="3.7" fill="none"/>
<path d="M1260.41 1559.7L1269.21 1568.5M1260.41 1568.5L1269.21 1559.7" stroke="#3a66f0" stroke-width="3.7" fill="none"/>
<path d="M549.61 1559.7L558.41 1568.5M549.61 1568.5L558.41 1559.7" stroke="#000" stroke-width="3.7" fill="none"/>
<path d="M567.38 1559.7L576.18 1568.5M567.38 1568.5L576.18 1559.7" stroke="#000" stroke-width="3.7" fill="none"/>
<path d="M585.15 1559.7L593.95 1568.5M585.15 1568.5L593.95 1559.7" stroke="#000" stroke-width="3.7" fill="none"/>
<path d="M602.92 1559.7L611.72 1568.5M602.92 1568.5L611.72 1559.7" stroke="#000" stroke-width="3.7" fill="none"/>
<circle cx="188.5" cy="1323.2" r="10.3" fill="#7f7f7f" fill-opacity="0.8"/>
<text x="214.7" y="1331.5" font-size="31.7" fill="#595959" text-anchor="start">Bact-Cdk5-tau in solution</text>
<circle cx="188.5" cy="1358.6" r="10.3" fill="#3d7ff5" fill-opacity="0.75"/>
<text x="214.7" y="1367" font-size="31.7" fill="#3058e8" text-anchor="start">Bact-Cdk5-tau in envelopes</text>
<path d="M181.1 1386.6L195.9 1401.4M181.1 1401.4L195.9 1386.6" stroke="#000" stroke-width="4" fill="none"/>
<text x="212" y="1402" font-size="27.5" fill="#000" text-anchor="start">Not detected</text>
<text x="836" y="1701" font-size="32" fill="#000" text-anchor="middle">Theoretical phosphorylation sites</text>
<text transform="translate(41 1446.6) rotate(-90)" font-size="32" fill="#000" text-anchor="middle">Phosphorylation</text>
<text transform="translate(74 1446.6) rotate(-90)" font-size="32" fill="#000" text-anchor="middle">degree (%)</text>
<text x="0" y="1297" font-size="62.5" fill="#000" text-anchor="start">e</text>
<clipPath id="fclip"><rect x="100" y="1700" width="1500" height="376.9"/></clipPath>
<g clip-path="url(#fclip)"><g fill="#3d7ff5" fill-opacity="0.85" stroke="#fff" stroke-width="2.5"><circle cx="130.2" cy="2040.36" r="6.45"/><circle cx="147.25" cy="2040.36" r="6.45"/><circle cx="164.3" cy="2073.1" r="6.45"/><circle cx="181.35" cy="2073.1" r="6.45"/><circle cx="198.4" cy="2073.1" r="6.45"/><circle cx="215.45" cy="2063.03" r="6.45"/><circle cx="232.5" cy="2063.03" r="6.45"/><circle cx="249.55" cy="2063.03" r="6.45"/><circle cx="266.6" cy="2063.03" r="6.45"/><circle cx="283.65" cy="2063.03" r="6.45"/><circle cx="300.7" cy="2063.03" r="6.45"/><circle cx="317.75" cy="2063.03" r="6.45"/><circle cx="334.8" cy="1892.14" r="6.45"/><circle cx="351.85" cy="1903.45" r="6.45"/><circle cx="368.9" cy="1903.45" r="6.45"/><circle cx="385.95" cy="1903.45" r="6.45"/><circle cx="403" cy="2073.1" r="6.45"/><circle cx="420.05" cy="2073.1" r="6.45"/><circle cx="437.1" cy="2073.1" r="6.45"/><circle cx="454.15" cy="2073.1" r="6.45"/><circle cx="471.2" cy="2073.1" r="6.45"/><circle cx="488.25" cy="2073.1" r="6.45"/><circle cx="505.3" cy="2073.1" r="6.45"/><circle cx="522.35" cy="2073.1" r="6.45"/><circle cx="539.4" cy="2073.1" r="6.45"/><circle cx="556.45" cy="2073.1" r="6.45"/><circle cx="573.5" cy="2073.1" r="6.45"/><circle cx="590.55" cy="2073.1" r="6.45"/><circle cx="607.6" cy="2073.1" r="6.45"/><circle cx="624.65" cy="2073.1" r="6.45"/><circle cx="641.7" cy="2073.1" r="6.45"/><circle cx="709.9" cy="2073.1" r="6.45"/><circle cx="726.95" cy="2073.1" r="6.45"/><circle cx="744" cy="2073.1" r="6.45"/><circle cx="761.05" cy="2073.1" r="6.45"/><circle cx="778.1" cy="2073.1" r="6.45"/><circle cx="795.15" cy="2073.1" r="6.45"/><circle cx="812.2" cy="2073.1" r="6.45"/><circle cx="829.25" cy="2046.92" r="6.45"/><circle cx="846.3" cy="2036.57" r="6.45"/><circle cx="863.35" cy="2036.57" r="6.45"/><circle cx="880.4" cy="2036.57" r="6.45"/><circle cx="897.45" cy="2036.57" r="6.45"/><circle cx="914.5" cy="2073.1" r="6.45"/><circle cx="931.55" cy="2073.1" r="6.45"/><circle cx="948.6" cy="2073.1" r="6.45"/><circle cx="965.65" cy="2073.1" r="6.45"/><circle cx="982.7" cy="2064.28" r="6.45"/><circle cx="999.75" cy="1939.3" r="6.45"/><circle cx="1016.8" cy="2073.1" r="6.45"/><circle cx="1033.85" cy="2073.1" r="6.45"/><circle cx="1050.9" cy="2073.1" r="6.45"/><circle cx="1067.95" cy="1958.59" r="6.45"/><circle cx="1085" cy="1958.59" r="6.45"/><circle cx="1102.05" cy="2073.1" r="6.45"/><circle cx="1119.1" cy="1870.26" r="6.45"/><circle cx="1136.15" cy="1870.26" r="6.45"/><circle cx="1153.2" cy="1870.26" r="6.45"/><circle cx="1204.35" cy="2066.31" r="6.45"/><circle cx="1221.4" cy="2055.63" r="6.45"/><circle cx="1238.45" cy="2061.79" r="6.45"/><circle cx="1255.5" cy="1913.29" r="6.45"/><circle cx="1272.55" cy="1913.29" r="6.45"/><circle cx="1289.6" cy="2073.1" r="6.45"/><circle cx="1306.65" cy="2073.1" r="6.45"/><circle cx="1323.7" cy="2058.82" r="6.45"/><circle cx="1340.75" cy="2058.82" r="6.45"/><circle cx="1357.8" cy="2040.75" r="6.45"/><circle cx="1374.85" cy="2047.2" r="6.45"/><circle cx="1391.9" cy="2047.2" r="6.45"/><circle cx="1408.95" cy="2047.2" r="6.45"/><circle cx="1426" cy="1991.27" r="6.45"/><circle cx="1443.05" cy="1991.27" r="6.45"/><circle cx="1460.1" cy="1991.27" r="6.45"/><circle cx="1477.15" cy="1991.27" r="6.45"/><circle cx="1494.2" cy="1991.27" r="6.45"/><circle cx="1511.25" cy="1991.27" r="6.45"/><circle cx="1528.3" cy="1991.27" r="6.45"/><circle cx="1545.35" cy="1991.27" r="6.45"/><circle cx="1562.4" cy="1991.27" r="6.45"/></g><path d="M130.2 2061.79V2010.44M125.7 2061.79H134.7M125.7 2010.44H134.7" stroke="#2f62e0" stroke-width="1.6" fill="none" opacity="0.95"/><path d="M147.25 2061.79V2010.44M142.75 2061.79H151.75M142.75 2010.44H151.75" stroke="#2f62e0" stroke-width="1.6" fill="none" opacity="0.95"/><path d="M215.45 2071.4V2054.44M210.95 2071.4H219.95M210.95 2054.44H219.95" stroke="#2f62e0" stroke-width="1.6" fill="none" opacity="0.95"/><path d="M232.5 2071.4V2054.44M228 2071.4H237M228 2054.44H237" stroke="#2f62e0" stroke-width="1.6" fill="none" opacity="0.95"/><path d="M249.55 2071.4V2054.44M245.05 2071.4H254.05M245.05 2054.44H254.05" stroke="#2f62e0" stroke-width="1.6" fill="none" opacity="0.95"/><path d="M266.6 2071.4V2054.44M262.1 2071.4H271.1M262.1 2054.44H271.1" stroke="#2f62e0" stroke-width="1.6" fill="none" opacity="0.95"/><path d="M283.65 2071.4V2054.44M279.15 2071.4H288.15M279.15 2054.44H288.15" stroke="#2f62e0" stroke-width="1.6" fill="none" opacity="0.95"/><path d="M300.7 2071.4V2054.44M296.2 2071.4H305.2M296.2 2054.44H305.2" stroke="#2f62e0" stroke-width="1.6" fill="none" opacity="0.95"/><path d="M317.75 2071.4V2054.44M313.25 2071.4H322.25M313.25 2054.44H322.25" stroke="#2f62e0" stroke-width="1.6" fill="none" opacity="0.95"/><path d="M334.8 1980.36V1803.92M330.3 1980.36H339.3M330.3 1803.92H339.3" stroke="#2f62e0" stroke-width="1.6" fill="none" opacity="0.95"/><path d="M351.85 1987.71V1819.19M347.35 1987.71H356.35M347.35 1819.19H356.35" stroke="#2f62e0" stroke-width="1.6" fill="none" opacity="0.95"/><path d="M368.9 1987.71V1819.19M364.4 1987.71H373.4M364.4 1819.19H373.4" stroke="#2f62e0" stroke-width="1.6" fill="none" opacity="0.95"/><path d="M385.95 1987.71V1819.19M381.45 1987.71H390.45M381.45 1819.19H390.45" stroke="#2f62e0" stroke-width="1.6" fill="none" opacity="0.95"/><path d="M829.25 2073.1V2012.31M824.75 2073.1H833.75M824.75 2012.31H833.75" stroke="#2f62e0" stroke-width="1.6" fill="none" opacity="0.95"/><path d="M846.3 2073.1V1989.52M841.8 2073.1H850.8M841.8 1989.52H850.8" stroke="#2f62e0" stroke-width="1.6" fill="none" opacity="0.95"/><path d="M863.35 2073.1V1989.52M858.85 2073.1H867.85M858.85 1989.52H867.85" stroke="#2f62e0" stroke-width="1.6" fill="none" opacity="0.95"/><path d="M880.4 2073.1V1989.52M875.9 2073.1H884.9M875.9 1989.52H884.9" stroke="#2f62e0" stroke-width="1.6" fill="none" opacity="0.95"/><path d="M897.45 2073.1V1989.52M892.95 2073.1H901.95M892.95 1989.52H901.95" stroke="#2f62e0" stroke-width="1.6" fill="none" opacity="0.95"/><path d="M982.7 2073.1V2055.12M978.2 2073.1H987.2M978.2 2055.12H987.2" stroke="#2f62e0" stroke-width="1.6" fill="none" opacity="0.95"/><path d="M999.75 2073.1V1807.65M995.25 2073.1H1004.25M995.25 1807.65H1004.25" stroke="#2f62e0" stroke-width="1.6" fill="none" opacity="0.95"/><path d="M1067.95 2020.73V1896.21M1063.45 2020.73H1072.45M1063.45 1896.21H1072.45" stroke="#2f62e0" stroke-width="1.6" fill="none" opacity="0.95"/><path d="M1085 2020.73V1896.21M1080.5 2020.73H1089.5M1080.5 1896.21H1089.5" stroke="#2f62e0" stroke-width="1.6" fill="none" opacity="0.95"/><path d="M1119.1 1996.47V1743.98M1114.6 1996.47H1123.6M1114.6 1743.98H1123.6" stroke="#2f62e0" stroke-width="1.6" fill="none" opacity="0.95"/><path d="M1136.15 1996.47V1743.98M1131.65 1996.47H1140.65M1131.65 1743.98H1140.65" stroke="#2f62e0" stroke-width="1.6" fill="none" opacity="0.95"/><path d="M1153.2 1996.47V1743.98M1148.7 1996.47H1157.7M1148.7 1743.98H1157.7" stroke="#2f62e0" stroke-width="1.6" fill="none" opacity="0.95"/><path d="M1204.35 2073.1V2058.96M1199.85 2073.1H1208.85M1199.85 2058.96H1208.85" stroke="#2f62e0" stroke-width="1.6" fill="none" opacity="0.95"/><path d="M1221.4 2070.27V2040.75M1216.9 2070.27H1225.9M1216.9 2040.75H1225.9" stroke="#2f62e0" stroke-width="1.6" fill="none" opacity="0.95"/><path d="M1238.45 2073.1V2050.48M1233.95 2073.1H1242.95M1233.95 2050.48H1242.95" stroke="#2f62e0" stroke-width="1.6" fill="none" opacity="0.95"/><path d="M1255.5 2022.94V1802.79M1251 2022.94H1260M1251 1802.79H1260" stroke="#2f62e0" stroke-width="1.6" fill="none" opacity="0.95"/><path d="M1272.55 2022.94V1802.79M1268.05 2022.94H1277.05M1268.05 1802.79H1277.05" stroke="#2f62e0" stroke-width="1.6" fill="none" opacity="0.95"/><path d="M1323.7 2073.1V2042.73M1319.2 2073.1H1328.2M1319.2 2042.73H1328.2" stroke="#2f62e0" stroke-width="1.6" fill="none" opacity="0.95"/><path d="M1340.75 2073.1V2042.73M1336.25 2073.1H1345.25M1336.25 2042.73H1345.25" stroke="#2f62e0" stroke-width="1.6" fill="none" opacity="0.95"/><path d="M1357.8 2073.1V2003.15M1353.3 2073.1H1362.3M1353.3 2003.15H1362.3" stroke="#2f62e0" stroke-width="1.6" fill="none" opacity="0.95"/><path d="M1374.85 2073.1V2016.27M1370.35 2073.1H1379.35M1370.35 2016.27H1379.35" stroke="#2f62e0" stroke-width="1.6" fill="none" opacity="0.95"/><path d="M1391.9 2073.1V2016.27M1387.4 2073.1H1396.4M1387.4 2016.27H1396.4" stroke="#2f62e0" stroke-width="1.6" fill="none" opacity="0.95"/><path d="M1408.95 2073.1V2016.27M1404.45 2073.1H1413.45M1404.45 2016.27H1413.45" stroke="#2f62e0" stroke-width="1.6" fill="none" opacity="0.95"/><path d="M1426 2051.38V1930.14M1421.5 2051.38H1430.5M1421.5 1930.14H1430.5" stroke="#2f62e0" stroke-width="1.6" fill="none" opacity="0.95"/><path d="M1443.05 2051.38V1930.14M1438.55 2051.38H1447.55M1438.55 1930.14H1447.55" stroke="#2f62e0" stroke-width="1.6" fill="none" opacity="0.95"/><path d="M1460.1 2051.38V1930.14M1455.6 2051.38H1464.6M1455.6 1930.14H1464.6" stroke="#2f62e0" stroke-width="1.6" fill="none" opacity="0.95"/><path d="M1477.15 2051.38V1930.14M1472.65 2051.38H1481.65M1472.65 1930.14H1481.65" stroke="#2f62e0" stroke-width="1.6" fill="none" opacity="0.95"/><path d="M1494.2 2051.38V1930.14M1489.7 2051.38H1498.7M1489.7 1930.14H1498.7" stroke="#2f62e0" stroke-width="1.6" fill="none" opacity="0.95"/><path d="M1511.25 2051.38V1930.14M1506.75 2051.38H1515.75M1506.75 1930.14H1515.75" stroke="#2f62e0" stroke-width="1.6" fill="none" opacity="0.95"/><path d="M1528.3 2051.38V1930.14M1523.8 2051.38H1532.8M1523.8 1930.14H1532.8" stroke="#2f62e0" stroke-width="1.6" fill="none" opacity="0.95"/><path d="M1545.35 2051.38V1930.14M1540.85 2051.38H1549.85M1540.85 1930.14H1549.85" stroke="#2f62e0" stroke-width="1.6" fill="none" opacity="0.95"/><path d="M1562.4 2051.38V1930.14M1557.9 2051.38H1566.9M1557.9 1930.14H1566.9" stroke="#2f62e0" stroke-width="1.6" fill="none" opacity="0.95"/></g>
<path d="M130.2 1733v8.9M130.2 2073.1v-8.9M147.25 1733v8.9M147.25 2073.1v-8.9M164.3 1733v8.9M164.3 2073.1v-8.9M181.35 1733v8.9M181.35 2073.1v-8.9M198.4 1733v8.9M198.4 2073.1v-8.9M215.45 1733v8.9M215.45 2073.1v-8.9M232.5 1733v8.9M232.5 2073.1v-8.9M249.55 1733v8.9M249.55 2073.1v-8.9M266.6 1733v8.9M266.6 2073.1v-8.9M283.65 1733v8.9M283.65 2073.1v-8.9M300.7 1733v8.9M300.7 2073.1v-8.9M317.75 1733v8.9M317.75 2073.1v-8.9M334.8 1733v8.9M334.8 2073.1v-8.9M351.85 1733v8.9M351.85 2073.1v-8.9M368.9 1733v8.9M368.9 2073.1v-8.9M385.95 1733v8.9M385.95 2073.1v-8.9M403 1733v8.9M403 2073.1v-8.9M420.05 1733v8.9M420.05 2073.1v-8.9M437.1 1733v8.9M437.1 2073.1v-8.9M454.15 1733v8.9M454.15 2073.1v-8.9M471.2 1733v8.9M471.2 2073.1v-8.9M488.25 1733v8.9M488.25 2073.1v-8.9M505.3 1733v8.9M505.3 2073.1v-8.9M522.35 1733v8.9M522.35 2073.1v-8.9M539.4 1733v8.9M539.4 2073.1v-8.9M556.45 1733v8.9M556.45 2073.1v-8.9M573.5 1733v8.9M573.5 2073.1v-8.9M590.55 1733v8.9M590.55 2073.1v-8.9M607.6 1733v8.9M607.6 2073.1v-8.9M624.65 1733v8.9M624.65 2073.1v-8.9M641.7 1733v8.9M641.7 2073.1v-8.9M658.75 1733v8.9M658.75 2073.1v-8.9M675.8 1733v8.9M675.8 2073.1v-8.9M692.85 1733v8.9M692.85 2073.1v-8.9M709.9 1733v8.9M709.9 2073.1v-8.9M726.95 1733v8.9M726.95 2073.1v-8.9M744 1733v8.9M744 2073.1v-8.9M761.05 1733v8.9M761.05 2073.1v-8.9M778.1 1733v8.9M778.1 2073.1v-8.9M795.15 1733v8.9M795.15 2073.1v-8.9M812.2 1733v8.9M812.2 2073.1v-8.9M829.25 1733v8.9M829.25 2073.1v-8.9M846.3 1733v8.9M846.3 2073.1v-8.9M863.35 1733v8.9M863.35 2073.1v-8.9M880.4 1733v8.9M880.4 2073.1v-8.9M897.45 1733v8.9M897.45 2073.1v-8.9M914.5 1733v8.9M914.5 2073.1v-8.9M931.55 1733v8.9M931.55 2073.1v-8.9M948.6 1733v8.9M948.6 2073.1v-8.9M965.65 1733v8.9M965.65 2073.1v-8.9M982.7 1733v8.9M982.7 2073.1v-8.9M999.75 1733v8.9M999.75 2073.1v-8.9M1016.8 1733v8.9M1016.8 2073.1v-8.9M1033.85 1733v8.9M1033.85 2073.1v-8.9M1050.9 1733v8.9M1050.9 2073.1v-8.9M1067.95 1733v8.9M1067.95 2073.1v-8.9M1085 1733v8.9M1085 2073.1v-8.9M1102.05 1733v8.9M1102.05 2073.1v-8.9M1119.1 1733v8.9M1119.1 2073.1v-8.9M1136.15 1733v8.9M1136.15 2073.1v-8.9M1153.2 1733v8.9M1153.2 2073.1v-8.9M1170.25 1733v8.9M1170.25 2073.1v-8.9M1187.3 1733v8.9M1187.3 2073.1v-8.9M1204.35 1733v8.9M1204.35 2073.1v-8.9M1221.4 1733v8.9M1221.4 2073.1v-8.9M1238.45 1733v8.9M1238.45 2073.1v-8.9M1255.5 1733v8.9M1255.5 2073.1v-8.9M1272.55 1733v8.9M1272.55 2073.1v-8.9M1289.6 1733v8.9M1289.6 2073.1v-8.9M1306.65 1733v8.9M1306.65 2073.1v-8.9M1323.7 1733v8.9M1323.7 2073.1v-8.9M1340.75 1733v8.9M1340.75 2073.1v-8.9M1357.8 1733v8.9M1357.8 2073.1v-8.9M1374.85 1733v8.9M1374.85 2073.1v-8.9M1391.9 1733v8.9M1391.9 2073.1v-8.9M1408.95 1733v8.9M1408.95 2073.1v-8.9M1426 1733v8.9M1426 2073.1v-8.9M1443.05 1733v8.9M1443.05 2073.1v-8.9M1460.1 1733v8.9M1460.1 2073.1v-8.9M1477.15 1733v8.9M1477.15 2073.1v-8.9M1494.2 1733v8.9M1494.2 2073.1v-8.9M1511.25 1733v8.9M1511.25 2073.1v-8.9M1528.3 1733v8.9M1528.3 2073.1v-8.9M1545.35 1733v8.9M1545.35 2073.1v-8.9M1562.4 1733v8.9M1562.4 2073.1v-8.9M113.1 2016.55h9.9M113.1 1960h9.9M113.1 1903.45h9.9M113.1 1846.9h9.9M113.1 1790.35h9.9M1583.7 2028.96h-9.9M1583.7 1984.82h-9.9M1583.7 1940.68h-9.9M1583.7 1896.54h-9.9M1583.7 1852.4h-9.9M1583.7 1808.26h-9.9M1583.7 1764.12h-9.9" stroke="#222" stroke-width="4.4" fill="none"/><rect x="113.1" y="1733" width="1470.6" height="340.1" fill="none" stroke="#222" stroke-width="5.2"/>
<g fill="#7f7f7f" fill-opacity="0.8" stroke="#fff" stroke-width="2.5"><circle cx="130.2" cy="2052.97" r="6.45"/><circle cx="147.25" cy="2052.97" r="6.45"/><circle cx="164.3" cy="2073.1" r="6.45"/><circle cx="181.35" cy="2073.1" r="6.45"/><circle cx="198.4" cy="2073.1" r="6.45"/><circle cx="215.45" cy="2063.03" r="6.45"/><circle cx="232.5" cy="2063.03" r="6.45"/><circle cx="249.55" cy="2063.03" r="6.45"/><circle cx="266.6" cy="2063.03" r="6.45"/><circle cx="283.65" cy="2063.03" r="6.45"/><circle cx="300.7" cy="2063.03" r="6.45"/><circle cx="317.75" cy="2063.03" r="6.45"/><circle cx="334.8" cy="1995.06" r="6.45"/><circle cx="351.85" cy="2006.09" r="6.45"/><circle cx="368.9" cy="2006.09" r="6.45"/><circle cx="385.95" cy="2006.09" r="6.45"/><circle cx="403" cy="2073.1" r="6.45"/><circle cx="420.05" cy="2073.1" r="6.45"/><circle cx="437.1" cy="2073.1" r="6.45"/><circle cx="454.15" cy="2073.1" r="6.45"/><circle cx="471.2" cy="2073.1" r="6.45"/><circle cx="488.25" cy="2073.1" r="6.45"/><circle cx="505.3" cy="2073.1" r="6.45"/><circle cx="522.35" cy="2073.1" r="6.45"/><circle cx="539.4" cy="2073.1" r="6.45"/><circle cx="556.45" cy="2073.1" r="6.45"/><circle cx="573.5" cy="2073.1" r="6.45"/><circle cx="590.55" cy="2073.1" r="6.45"/><circle cx="607.6" cy="2033.35" r="6.45"/><circle cx="624.65" cy="2028.65" r="6.45"/><circle cx="641.7" cy="2027.86" r="6.45"/><circle cx="658.75" cy="2070.27" r="6.45"/><circle cx="675.8" cy="2070.27" r="6.45"/><circle cx="692.85" cy="2070.27" r="6.45"/><circle cx="709.9" cy="1988.27" r="6.45"/><circle cx="726.95" cy="1992.52" r="6.45"/><circle cx="744" cy="1992.52" r="6.45"/><circle cx="761.05" cy="1992.52" r="6.45"/><circle cx="778.1" cy="1992.52" r="6.45"/><circle cx="795.15" cy="1992.52" r="6.45"/><circle cx="812.2" cy="1992.52" r="6.45"/><circle cx="829.25" cy="1825.69" r="6.45"/><circle cx="846.3" cy="1805.05" r="6.45"/><circle cx="863.35" cy="1805.05" r="6.45"/><circle cx="880.4" cy="1805.05" r="6.45"/><circle cx="897.45" cy="1805.05" r="6.45"/><circle cx="914.5" cy="2058.34" r="6.45"/><circle cx="931.55" cy="2060.77" r="6.45"/><circle cx="948.6" cy="2060.77" r="6.45"/><circle cx="965.65" cy="2060.77" r="6.45"/><circle cx="982.7" cy="2039.74" r="6.45"/><circle cx="999.75" cy="1969.73" r="6.45"/><circle cx="1016.8" cy="2014.85" r="6.45"/><circle cx="1033.85" cy="2008.63" r="6.45"/><circle cx="1050.9" cy="2008.63" r="6.45"/><circle cx="1067.95" cy="1980.87" r="6.45"/><circle cx="1085" cy="1980.87" r="6.45"/><circle cx="1102.05" cy="2036.06" r="6.45"/><circle cx="1119.1" cy="1951.91" r="6.45"/><circle cx="1136.15" cy="1951.91" r="6.45"/><circle cx="1153.2" cy="1951.91" r="6.45"/><circle cx="1170.25" cy="2073.1" r="6.45"/><circle cx="1187.3" cy="2073.1" r="6.45"/><circle cx="1204.35" cy="2036.57" r="6.45"/><circle cx="1221.4" cy="1990.03" r="6.45"/><circle cx="1238.45" cy="2055.63" r="6.45"/><circle cx="1255.5" cy="1899.72" r="6.45"/><circle cx="1272.55" cy="1899.72" r="6.45"/><circle cx="1289.6" cy="2000.15" r="6.45"/><circle cx="1306.65" cy="2000.15" r="6.45"/><circle cx="1323.7" cy="1992.52" r="6.45"/><circle cx="1340.75" cy="1992.52" r="6.45"/><circle cx="1357.8" cy="1980.87" r="6.45"/><circle cx="1374.85" cy="1988.56" r="6.45"/><circle cx="1391.9" cy="1988.56" r="6.45"/><circle cx="1408.95" cy="1988.56" r="6.45"/><circle cx="1426" cy="2017.23" r="6.45"/><circle cx="1443.05" cy="2017.23" r="6.45"/><circle cx="1460.1" cy="2017.23" r="6.45"/><circle cx="1477.15" cy="2017.23" r="6.45"/><circle cx="1494.2" cy="2017.23" r="6.45"/><circle cx="1511.25" cy="2017.23" r="6.45"/><circle cx="1528.3" cy="2017.23" r="6.45"/><circle cx="1545.35" cy="2017.23" r="6.45"/><circle cx="1562.4" cy="2017.23" r="6.45"/></g><path d="M130.2 2060.66V2045.39M125.7 2060.66H134.7M125.7 2045.39H134.7" stroke="#555" stroke-width="1.5" fill="none" opacity="0.9"/><path d="M147.25 2060.66V2045.39M142.75 2060.66H151.75M142.75 2045.39H151.75" stroke="#555" stroke-width="1.5" fill="none" opacity="0.9"/><path d="M215.45 2067.44V2058.96M210.95 2067.44H219.95M210.95 2058.96H219.95" stroke="#555" stroke-width="1.5" fill="none" opacity="0.9"/><path d="M232.5 2067.44V2058.96M228 2067.44H237M228 2058.96H237" stroke="#555" stroke-width="1.5" fill="none" opacity="0.9"/><path d="M249.55 2067.44V2058.96M245.05 2067.44H254.05M245.05 2058.96H254.05" stroke="#555" stroke-width="1.5" fill="none" opacity="0.9"/><path d="M266.6 2067.44V2058.96M262.1 2067.44H271.1M262.1 2058.96H271.1" stroke="#555" stroke-width="1.5" fill="none" opacity="0.9"/><path d="M283.65 2067.44V2058.96M279.15 2067.44H288.15M279.15 2058.96H288.15" stroke="#555" stroke-width="1.5" fill="none" opacity="0.9"/><path d="M300.7 2067.44V2058.96M296.2 2067.44H305.2M296.2 2058.96H305.2" stroke="#555" stroke-width="1.5" fill="none" opacity="0.9"/><path d="M317.75 2067.44V2058.96M313.25 2067.44H322.25M313.25 2058.96H322.25" stroke="#555" stroke-width="1.5" fill="none" opacity="0.9"/><path d="M334.8 2009.76V1979.79M330.3 2009.76H339.3M330.3 1979.79H339.3" stroke="#555" stroke-width="1.5" fill="none" opacity="0.9"/><path d="M351.85 2018.81V1993.36M347.35 2018.81H356.35M347.35 1993.36H356.35" stroke="#555" stroke-width="1.5" fill="none" opacity="0.9"/><path d="M368.9 2018.81V1993.36M364.4 2018.81H373.4M364.4 1993.36H373.4" stroke="#555" stroke-width="1.5" fill="none" opacity="0.9"/><path d="M385.95 2018.81V1993.36M381.45 2018.81H390.45M381.45 1993.36H390.45" stroke="#555" stroke-width="1.5" fill="none" opacity="0.9"/><path d="M607.6 2042.22V2024.18M603.1 2042.22H612.1M603.1 2024.18H612.1" stroke="#555" stroke-width="1.5" fill="none" opacity="0.9"/><path d="M624.65 2038.27V2018.76M620.15 2038.27H629.15M620.15 2018.76H629.15" stroke="#555" stroke-width="1.5" fill="none" opacity="0.9"/><path d="M641.7 2037.81V2017.51M637.2 2037.81H646.2M637.2 2017.51H646.2" stroke="#555" stroke-width="1.5" fill="none" opacity="0.9"/><path d="M709.9 2036.57V1939.64M705.4 2036.57H714.4M705.4 1939.64H714.4" stroke="#555" stroke-width="1.5" fill="none" opacity="0.9"/><path d="M726.95 2039.51V1944.96M722.45 2039.51H731.45M722.45 1944.96H731.45" stroke="#555" stroke-width="1.5" fill="none" opacity="0.9"/><path d="M744 2039.51V1944.96M739.5 2039.51H748.5M739.5 1944.96H748.5" stroke="#555" stroke-width="1.5" fill="none" opacity="0.9"/><path d="M761.05 2039.51V1944.96M756.55 2039.51H765.55M756.55 1944.96H765.55" stroke="#555" stroke-width="1.5" fill="none" opacity="0.9"/><path d="M778.1 2039.51V1944.96M773.6 2039.51H782.6M773.6 1944.96H782.6" stroke="#555" stroke-width="1.5" fill="none" opacity="0.9"/><path d="M795.15 2039.51V1944.96M790.65 2039.51H799.65M790.65 1944.96H799.65" stroke="#555" stroke-width="1.5" fill="none" opacity="0.9"/><path d="M812.2 2039.51V1944.96M807.7 2039.51H816.7M807.7 1944.96H816.7" stroke="#555" stroke-width="1.5" fill="none" opacity="0.9"/><path d="M829.25 1901.75V1749.63M824.75 1901.75H833.75M824.75 1749.63H833.75" stroke="#555" stroke-width="1.5" fill="none" opacity="0.9"/><path d="M846.3 1857.64V1750.76M841.8 1857.64H850.8M841.8 1750.76H850.8" stroke="#555" stroke-width="1.5" fill="none" opacity="0.9"/><path d="M863.35 1857.64V1750.76M858.85 1857.64H867.85M858.85 1750.76H867.85" stroke="#555" stroke-width="1.5" fill="none" opacity="0.9"/><path d="M880.4 1857.64V1750.76M875.9 1857.64H884.9M875.9 1750.76H884.9" stroke="#555" stroke-width="1.5" fill="none" opacity="0.9"/><path d="M897.45 1857.64V1750.76M892.95 1857.64H901.95M892.95 1750.76H901.95" stroke="#555" stroke-width="1.5" fill="none" opacity="0.9"/><path d="M914.5 2067.44V2050.14M910 2067.44H919M910 2050.14H919" stroke="#555" stroke-width="1.5" fill="none" opacity="0.9"/><path d="M931.55 2068.58V2052.74M927.05 2068.58H936.05M927.05 2052.74H936.05" stroke="#555" stroke-width="1.5" fill="none" opacity="0.9"/><path d="M948.6 2068.58V2052.74M944.1 2068.58H953.1M944.1 2052.74H953.1" stroke="#555" stroke-width="1.5" fill="none" opacity="0.9"/><path d="M965.65 2068.58V2052.74M961.15 2068.58H970.15M961.15 2052.74H970.15" stroke="#555" stroke-width="1.5" fill="none" opacity="0.9"/><path d="M982.7 2054.61V2025.43M978.2 2054.61H987.2M978.2 2025.43H987.2" stroke="#555" stroke-width="1.5" fill="none" opacity="0.9"/><path d="M999.75 1998.17V1942.47M995.25 1998.17H1004.25M995.25 1942.47H1004.25" stroke="#555" stroke-width="1.5" fill="none" opacity="0.9"/><path d="M1016.8 2036.06V1993.36M1012.3 2036.06H1021.3M1012.3 1993.36H1021.3" stroke="#555" stroke-width="1.5" fill="none" opacity="0.9"/><path d="M1033.85 2022.94V1993.93M1029.35 2022.94H1038.35M1029.35 1993.93H1038.35" stroke="#555" stroke-width="1.5" fill="none" opacity="0.9"/><path d="M1050.9 2022.94V1993.93M1046.4 2022.94H1055.4M1046.4 1993.93H1055.4" stroke="#555" stroke-width="1.5" fill="none" opacity="0.9"/><path d="M1067.95 1992.23V1969.05M1063.45 1992.23H1072.45M1063.45 1969.05H1072.45" stroke="#555" stroke-width="1.5" fill="none" opacity="0.9"/><path d="M1085 1992.23V1969.05M1080.5 1992.23H1089.5M1080.5 1969.05H1089.5" stroke="#555" stroke-width="1.5" fill="none" opacity="0.9"/><path d="M1102.05 2046.92V2024.69M1097.55 2046.92H1106.55M1097.55 2024.69H1106.55" stroke="#555" stroke-width="1.5" fill="none" opacity="0.9"/><path d="M1119.1 1980.13V1923.47M1114.6 1980.13H1123.6M1114.6 1923.47H1123.6" stroke="#555" stroke-width="1.5" fill="none" opacity="0.9"/><path d="M1136.15 1980.13V1923.47M1131.65 1980.13H1140.65M1131.65 1923.47H1140.65" stroke="#555" stroke-width="1.5" fill="none" opacity="0.9"/><path d="M1153.2 1980.13V1923.47M1148.7 1980.13H1157.7M1148.7 1923.47H1157.7" stroke="#555" stroke-width="1.5" fill="none" opacity="0.9"/><path d="M1204.35 2043.69V2030.12M1199.85 2043.69H1208.85M1199.85 2030.12H1208.85" stroke="#555" stroke-width="1.5" fill="none" opacity="0.9"/><path d="M1221.4 2006.94V1973.46M1216.9 2006.94H1225.9M1216.9 1973.46H1225.9" stroke="#555" stroke-width="1.5" fill="none" opacity="0.9"/><path d="M1238.45 2065.18V2046.52M1233.95 2065.18H1242.95M1233.95 2046.52H1242.95" stroke="#555" stroke-width="1.5" fill="none" opacity="0.9"/><path d="M1255.5 1921.94V1877.66M1251 1921.94H1260M1251 1877.66H1260" stroke="#555" stroke-width="1.5" fill="none" opacity="0.9"/><path d="M1272.55 1921.94V1877.66M1268.05 1921.94H1277.05M1268.05 1877.66H1277.05" stroke="#555" stroke-width="1.5" fill="none" opacity="0.9"/><path d="M1289.6 2019.94V1978.89M1285.1 2019.94H1294.1M1285.1 1978.89H1294.1" stroke="#555" stroke-width="1.5" fill="none" opacity="0.9"/><path d="M1306.65 2019.94V1978.89M1302.15 2019.94H1311.15M1302.15 1978.89H1311.15" stroke="#555" stroke-width="1.5" fill="none" opacity="0.9"/><path d="M1323.7 2027.12V1956.83M1319.2 2027.12H1328.2M1319.2 1956.83H1328.2" stroke="#555" stroke-width="1.5" fill="none" opacity="0.9"/><path d="M1340.75 2027.12V1956.83M1336.25 2027.12H1345.25M1336.25 1956.83H1345.25" stroke="#555" stroke-width="1.5" fill="none" opacity="0.9"/><path d="M1357.8 2017.51V1943.71M1353.3 2017.51H1362.3M1353.3 1943.71H1362.3" stroke="#555" stroke-width="1.5" fill="none" opacity="0.9"/><path d="M1374.85 2023.68V1952.93M1370.35 2023.68H1379.35M1370.35 1952.93H1379.35" stroke="#555" stroke-width="1.5" fill="none" opacity="0.9"/><path d="M1391.9 2023.68V1952.93M1387.4 2023.68H1396.4M1387.4 1952.93H1396.4" stroke="#555" stroke-width="1.5" fill="none" opacity="0.9"/><path d="M1408.95 2023.68V1952.93M1404.45 2023.68H1413.45M1404.45 1952.93H1413.45" stroke="#555" stroke-width="1.5" fill="none" opacity="0.9"/><path d="M1426 2035.04V1998.68M1421.5 2035.04H1430.5M1421.5 1998.68H1430.5" stroke="#555" stroke-width="1.5" fill="none" opacity="0.9"/><path d="M1443.05 2035.04V1998.68M1438.55 2035.04H1447.55M1438.55 1998.68H1447.55" stroke="#555" stroke-width="1.5" fill="none" opacity="0.9"/><path d="M1460.1 2035.04V1998.68M1455.6 2035.04H1464.6M1455.6 1998.68H1464.6" stroke="#555" stroke-width="1.5" fill="none" opacity="0.9"/><path d="M1477.15 2035.04V1998.68M1472.65 2035.04H1481.65M1472.65 1998.68H1481.65" stroke="#555" stroke-width="1.5" fill="none" opacity="0.9"/><path d="M1494.2 2035.04V1998.68M1489.7 2035.04H1498.7M1489.7 1998.68H1498.7" stroke="#555" stroke-width="1.5" fill="none" opacity="0.9"/><path d="M1511.25 2035.04V1998.68M1506.75 2035.04H1515.75M1506.75 1998.68H1515.75" stroke="#555" stroke-width="1.5" fill="none" opacity="0.9"/><path d="M1528.3 2035.04V1998.68M1523.8 2035.04H1532.8M1523.8 1998.68H1532.8" stroke="#555" stroke-width="1.5" fill="none" opacity="0.9"/><path d="M1545.35 2035.04V1998.68M1540.85 2035.04H1549.85M1540.85 1998.68H1549.85" stroke="#555" stroke-width="1.5" fill="none" opacity="0.9"/><path d="M1562.4 2035.04V1998.68M1557.9 2035.04H1566.9M1557.9 1998.68H1566.9" stroke="#555" stroke-width="1.5" fill="none" opacity="0.9"/>
<text transform="translate(101.4 2084.4) scale(0.96 1)" font-size="35.5" fill="#3058e8" text-anchor="end">0</text><text transform="translate(101.4 2027.85) scale(0.96 1)" font-size="35.5" fill="#3058e8" text-anchor="end">1</text><text transform="translate(101.4 1971.3) scale(0.96 1)" font-size="35.5" fill="#3058e8" text-anchor="end">2</text><text transform="translate(101.4 1914.75) scale(0.96 1)" font-size="35.5" fill="#3058e8" text-anchor="end">3</text><text transform="translate(101.4 1858.2) scale(0.96 1)" font-size="35.5" fill="#3058e8" text-anchor="end">4</text><text transform="translate(101.4 1801.65) scale(0.96 1)" font-size="35.5" fill="#3058e8" text-anchor="end">5</text><text transform="translate(101.4 1745.1) scale(0.96 1)" font-size="35.5" fill="#3058e8" text-anchor="end">6</text>
<text transform="translate(1597 2084.4) scale(0.96 1)" font-size="35.5" fill="#595959" text-anchor="start">0</text><text transform="translate(1597 2040.26) scale(0.96 1)" font-size="35.5" fill="#595959" text-anchor="start">2</text><text transform="translate(1597 1996.12) scale(0.96 1)" font-size="35.5" fill="#595959" text-anchor="start">4</text><text transform="translate(1597 1951.98) scale(0.96 1)" font-size="35.5" fill="#595959" text-anchor="start">6</text><text transform="translate(1597 1907.84) scale(0.96 1)" font-size="35.5" fill="#595959" text-anchor="start">8</text><text transform="translate(1597 1863.7) scale(0.96 1)" font-size="35.5" fill="#595959" text-anchor="start">10</text><text transform="translate(1597 1819.56) scale(0.96 1)" font-size="35.5" fill="#595959" text-anchor="start">12</text><text transform="translate(1597 1775.42) scale(0.96 1)" font-size="35.5" fill="#595959" text-anchor="start">14</text>
<g><text transform="translate(137.5 2088.5) rotate(-90)" font-size="20.4" fill="#000" text-anchor="end">T17</text><text transform="translate(154.55 2088.5) rotate(-90)" font-size="20.4" fill="#000" text-anchor="end">Y18</text><text transform="translate(171.6 2088.5) rotate(-90)" font-size="20.4" fill="#000" text-anchor="end">Y29</text><text transform="translate(188.65 2088.5) rotate(-90)" font-size="20.4" fill="#000" text-anchor="end">T30</text><text transform="translate(205.7 2088.5) rotate(-90)" font-size="20.4" fill="#000" text-anchor="end">T39</text><text transform="translate(222.75 2088.5) rotate(-90)" font-size="20.4" fill="#929292" text-anchor="end">S46</text><text transform="translate(239.8 2088.5) rotate(-90)" font-size="20.4" fill="#929292" text-anchor="end">T50</text><text transform="translate(256.85 2088.5) rotate(-90)" font-size="20.4" fill="#929292" text-anchor="end">T52</text><text transform="translate(273.9 2088.5) rotate(-90)" font-size="20.4" fill="#929292" text-anchor="end">S56</text><text transform="translate(290.95 2088.5) rotate(-90)" font-size="20.4" fill="#929292" text-anchor="end">S61</text><text transform="translate(308 2088.5) rotate(-90)" font-size="20.4" fill="#929292" text-anchor="end">T63</text><text transform="translate(325.05 2088.5) rotate(-90)" font-size="20.4" fill="#929292" text-anchor="end">S64</text><text transform="translate(342.1 2088.5) rotate(-90)" font-size="20.4" fill="#929292" text-anchor="end">S68</text><text transform="translate(359.15 2088.5) rotate(-90)" font-size="20.4" fill="#929292" text-anchor="end">T69</text><text transform="translate(376.2 2088.5) rotate(-90)" font-size="20.4" fill="#929292" text-anchor="end">T71</text><text transform="translate(393.25 2088.5) rotate(-90)" font-size="20.4" fill="#929292" text-anchor="end">T76</text><text transform="translate(410.3 2088.5) rotate(-90)" font-size="20.4" fill="#929292" text-anchor="end">T95</text><text transform="translate(427.35 2088.5) rotate(-90)" font-size="20.4" fill="#929292" text-anchor="end">T101</text><text transform="translate(444.4 2088.5) rotate(-90)" font-size="20.4" fill="#929292" text-anchor="end">T102</text><text transform="translate(461.45 2088.5) rotate(-90)" font-size="20.4" fill="#000" text-anchor="end">T111</text><text transform="translate(478.5 2088.5) rotate(-90)" font-size="20.4" fill="#000" text-anchor="end">S113</text><text transform="translate(495.55 2088.5) rotate(-90)" font-size="20.4" fill="#000" text-anchor="end">T123</text><text transform="translate(512.6 2088.5) rotate(-90)" font-size="20.4" fill="#000" text-anchor="end">S129</text><text transform="translate(529.65 2088.5) rotate(-90)" font-size="20.4" fill="#000" text-anchor="end">S131</text><text transform="translate(546.7 2088.5) rotate(-90)" font-size="20.4" fill="#000" text-anchor="end">T135</text><text transform="translate(563.75 2088.5) rotate(-90)" font-size="20.4" fill="#000" text-anchor="end">S137</text><text transform="translate(580.8 2088.5) rotate(-90)" font-size="20.4" fill="#4a90e2" text-anchor="end">T149</text><text transform="translate(597.85 2088.5) rotate(-90)" font-size="20.4" fill="#4a90e2" text-anchor="end">T153</text><text transform="translate(614.9 2088.5) rotate(-90)" font-size="20.4" fill="#4a90e2" text-anchor="end">T169</text><text transform="translate(631.95 2088.5) rotate(-90)" font-size="20.4" fill="#4a90e2" text-anchor="end">T175</text><text transform="translate(649 2088.5) rotate(-90)" font-size="20.4" fill="#4a90e2" text-anchor="end">T181</text><text transform="translate(666.05 2088.5) rotate(-90)" font-size="20.4" fill="#4a90e2" text-anchor="end">S184</text><text transform="translate(683.1 2088.5) rotate(-90)" font-size="20.4" fill="#4a90e2" text-anchor="end">S185</text><text transform="translate(700.15 2088.5) rotate(-90)" font-size="20.4" fill="#4a90e2" text-anchor="end">S191</text><text transform="translate(717.2 2088.5) rotate(-90)" font-size="20.4" fill="#4a90e2" text-anchor="end">S195</text><text transform="translate(734.25 2088.5) rotate(-90)" font-size="20.4" fill="#4a90e2" text-anchor="end">Y197</text><text transform="translate(751.3 2088.5) rotate(-90)" font-size="20.4" fill="#4a90e2" text-anchor="end">S198</text><text transform="translate(768.35 2088.5) rotate(-90)" font-size="20.4" fill="#4a90e2" text-anchor="end">S199</text><text transform="translate(785.4 2088.5) rotate(-90)" font-size="20.4" fill="#4a90e2" text-anchor="end">S202</text><text transform="translate(802.45 2088.5) rotate(-90)" font-size="20.4" fill="#4a90e2" text-anchor="end">T205</text><text transform="translate(819.5 2088.5) rotate(-90)" font-size="20.4" fill="#4a90e2" text-anchor="end">S208</text><text transform="translate(836.55 2088.5) rotate(-90)" font-size="20.4" fill="#4a90e2" text-anchor="end">S210</text><text transform="translate(853.6 2088.5) rotate(-90)" font-size="20.4" fill="#4a90e2" text-anchor="end">T212</text><text transform="translate(870.65 2088.5) rotate(-90)" font-size="20.4" fill="#4a90e2" text-anchor="end">S214</text><text transform="translate(887.7 2088.5) rotate(-90)" font-size="20.4" fill="#4a90e2" text-anchor="end">T217</text><text transform="translate(904.75 2088.5) rotate(-90)" font-size="20.4" fill="#4a90e2" text-anchor="end">T220</text><text transform="translate(921.8 2088.5) rotate(-90)" font-size="20.4" fill="#4a90e2" text-anchor="end">T231</text><text transform="translate(938.85 2088.5) rotate(-90)" font-size="20.4" fill="#4a90e2" text-anchor="end">S235</text><text transform="translate(955.9 2088.5) rotate(-90)" font-size="20.4" fill="#4a90e2" text-anchor="end">S237</text><text transform="translate(972.95 2088.5) rotate(-90)" font-size="20.4" fill="#4a90e2" text-anchor="end">S238</text><text transform="translate(990 2088.5) rotate(-90)" font-size="20.4" fill="#4a90e2" text-anchor="end">S241</text><text transform="translate(1007.05 2088.5) rotate(-90)" font-size="20.4" fill="#e8611a" text-anchor="end">T245</text><text transform="translate(1024.1 2088.5) rotate(-90)" font-size="20.4" fill="#e8611a" text-anchor="end">S258</text><text transform="translate(1041.15 2088.5) rotate(-90)" font-size="20.4" fill="#e8611a" text-anchor="end">S262</text><text transform="translate(1058.2 2088.5) rotate(-90)" font-size="20.4" fill="#e8611a" text-anchor="end">T263</text><text transform="translate(1075.25 2088.5) rotate(-90)" font-size="20.4" fill="#e8611a" text-anchor="end">S285</text><text transform="translate(1092.3 2088.5) rotate(-90)" font-size="20.4" fill="#e8611a" text-anchor="end">S289</text><text transform="translate(1109.35 2088.5) rotate(-90)" font-size="20.4" fill="#e8611a" text-anchor="end">S293</text><text transform="translate(1126.4 2088.5) rotate(-90)" font-size="20.4" fill="#e8611a" text-anchor="end">S305</text><text transform="translate(1143.45 2088.5) rotate(-90)" font-size="20.4" fill="#e8611a" text-anchor="end">Y310</text><text transform="translate(1160.5 2088.5) rotate(-90)" font-size="20.4" fill="#e8611a" text-anchor="end">S316</text><text transform="translate(1177.55 2088.5) rotate(-90)" font-size="20.4" fill="#e8611a" text-anchor="end">T319</text><text transform="translate(1194.6 2088.5) rotate(-90)" font-size="20.4" fill="#e8611a" text-anchor="end">S320</text><text transform="translate(1211.65 2088.5) rotate(-90)" font-size="20.4" fill="#e8611a" text-anchor="end">S324</text><text transform="translate(1228.7 2088.5) rotate(-90)" font-size="20.4" fill="#e8611a" text-anchor="end">S341</text><text transform="translate(1245.75 2088.5) rotate(-90)" font-size="20.4" fill="#e8611a" text-anchor="end">S352</text><text transform="translate(1262.8 2088.5) rotate(-90)" font-size="20.4" fill="#e8611a" text-anchor="end">S356</text><text transform="translate(1279.85 2088.5) rotate(-90)" font-size="20.4" fill="#e8611a" text-anchor="end">T361</text><text transform="translate(1296.9 2088.5) rotate(-90)" font-size="20.4" fill="#ebb950" text-anchor="end">T373</text><text transform="translate(1313.95 2088.5) rotate(-90)" font-size="20.4" fill="#ebb950" text-anchor="end">T377</text><text transform="translate(1331 2088.5) rotate(-90)" font-size="20.4" fill="#ebb950" text-anchor="end">T386</text><text transform="translate(1348.05 2088.5) rotate(-90)" font-size="20.4" fill="#ebb950" text-anchor="end">Y394</text><text transform="translate(1365.1 2088.5) rotate(-90)" font-size="20.4" fill="#000" text-anchor="end">S396</text><text transform="translate(1382.15 2088.5) rotate(-90)" font-size="20.4" fill="#000" text-anchor="end">S400</text><text transform="translate(1399.2 2088.5) rotate(-90)" font-size="20.4" fill="#000" text-anchor="end">T403</text><text transform="translate(1416.25 2088.5) rotate(-90)" font-size="20.4" fill="#000" text-anchor="end">S404</text><text transform="translate(1433.3 2088.5) rotate(-90)" font-size="20.4" fill="#000" text-anchor="end">S409</text><text transform="translate(1450.35 2088.5) rotate(-90)" font-size="20.4" fill="#000" text-anchor="end">S412</text><text transform="translate(1467.4 2088.5) rotate(-90)" font-size="20.4" fill="#000" text-anchor="end">S413</text><text transform="translate(1484.45 2088.5) rotate(-90)" font-size="20.4" fill="#000" text-anchor="end">T414</text><text transform="translate(1501.5 2088.5) rotate(-90)" font-size="20.4" fill="#000" text-anchor="end">S416</text><text transform="translate(1518.55 2088.5) rotate(-90)" font-size="20.4" fill="#000" text-anchor="end">S422</text><text transform="translate(1535.6 2088.5) rotate(-90)" font-size="20.4" fill="#000" text-anchor="end">T427</text><text transform="translate(1552.65 2088.5) rotate(-90)" font-size="20.4" fill="#000" text-anchor="end">S433</text><text transform="translate(1569.7 2088.5) rotate(-90)" font-size="20.4" fill="#000" text-anchor="end">S435</text></g>
<text transform="translate(115.5 1720.7) scale(0.95 1)" font-size="25.5" fill="#3058e8"><tspan font-size="20.4" dy="-0.77">×</tspan><tspan dy="0.77">10</tspan><tspan dy="-11.47" font-size="20.4">4</tspan></text>
<text transform="translate(1524 1724) scale(0.97 1)" font-size="25.5" fill="#595959"><tspan font-size="20.4" dy="-0.77">×</tspan><tspan dy="0.77">10</tspan><tspan dy="-11.47" font-size="20.4">5</tspan></text>
<circle cx="145.1" cy="1770.2" r="10.3" fill="#7f7f7f" fill-opacity="0.8"/>
<text x="170.4" y="1779.3" font-size="31.7" fill="#595959" text-anchor="start">Bact-Cdk5-tau in solution</text>
<circle cx="145.1" cy="1806.3" r="10.3" fill="#3d7ff5" fill-opacity="0.75"/>
<text x="170.4" y="1814.8" font-size="31.7" fill="#3058e8" text-anchor="start">Bact-Cdk5-tau in envelopes</text>
<text x="833.5" y="2169" font-size="32" fill="#000" text-anchor="middle">Theoretical phosphorylation sites</text>
<text transform="translate(40 1907.5) rotate(-90)" font-size="34.6" fill="#3058e8" text-anchor="middle">Total peptide intensities</text>
<text transform="translate(73.3 1903.6) rotate(-90)" font-size="34.6" fill="#3058e8" text-anchor="middle">measured</text>
<text transform="translate(1672 1909) rotate(90)" font-size="34.4" fill="#595959" text-anchor="middle">Total peptide intensities</text>
<text transform="translate(1639 1909) rotate(90)" font-size="34.4" fill="#595959" text-anchor="middle">measured</text>
<text x="-0.5" y="1703.7" font-size="62.5" fill="#000" text-anchor="start">f</text>
<path d="M1874.6 1907.3h5.8M2160.5 1907.3h-5.8M1874.6 1871.6h5.8M2160.5 1871.6h-5.8M1874.6 1835.9h5.8M2160.5 1835.9h-5.8M1874.6 1800.2h5.8M2160.5 1800.2h-5.8M1874.6 1764.5h5.8M2160.5 1764.5h-5.8M1874.6 1728.8h5.8M2160.5 1728.8h-5.8M1874.6 1693.1h5.8M2160.5 1693.1h-5.8M1921.4 1657.3v5.2M1921.4 1943v-5.2M2017.2 1657.3v5.2M2017.2 1943v-5.2M2112.3 1657.3v5.2M2112.3 1943v-5.2" stroke="#222" stroke-width="4.4" fill="none"/>
<rect x="1874.6" y="1657.3" width="285.9" height="285.7" fill="none" stroke="#222" stroke-width="5"/>
<g fill="#ff40ff" fill-opacity="0.85" stroke="#fff" stroke-width="1.4"><circle cx="1898.4" cy="1933.16" r="5.9"/><circle cx="1944.4" cy="1933.16" r="5.9"/><circle cx="1903" cy="1932.31" r="5.9"/><circle cx="1939.8" cy="1932.31" r="5.9"/><circle cx="1907.6" cy="1931.46" r="5.9"/><circle cx="1935.2" cy="1931.46" r="5.9"/><circle cx="1912.2" cy="1930.61" r="5.9"/><circle cx="1930.6" cy="1930.61" r="5.9"/><circle cx="1916.8" cy="1929.76" r="5.9"/><circle cx="1926" cy="1929.76" r="5.9"/><circle cx="1921.4" cy="1928.91" r="5.9"/><circle cx="1896.1" cy="1927.7" r="5.9"/><circle cx="1946.7" cy="1927.7" r="5.9"/><circle cx="1900.7" cy="1926.85" r="5.9"/><circle cx="1942.1" cy="1926.85" r="5.9"/><circle cx="1905.3" cy="1926" r="5.9"/><circle cx="1937.5" cy="1926" r="5.9"/><circle cx="1909.9" cy="1925.15" r="5.9"/><circle cx="1932.9" cy="1925.15" r="5.9"/><circle cx="1914.5" cy="1924.3" r="5.9"/><circle cx="1928.3" cy="1924.3" r="5.9"/><circle cx="1919.1" cy="1923.45" r="5.9"/><circle cx="1923.7" cy="1923.45" r="5.9"/><circle cx="1898.4" cy="1921.54" r="5.9"/><circle cx="1944.4" cy="1921.54" r="5.9"/><circle cx="1903" cy="1920.69" r="5.9"/><circle cx="1939.8" cy="1920.69" r="5.9"/><circle cx="1907.6" cy="1919.84" r="5.9"/><circle cx="1935.2" cy="1919.84" r="5.9"/><circle cx="1912.2" cy="1918.99" r="5.9"/><circle cx="1930.6" cy="1918.99" r="5.9"/><circle cx="1916.8" cy="1918.14" r="5.9"/><circle cx="1926" cy="1918.14" r="5.9"/><circle cx="1921.4" cy="1917.29" r="5.9"/><circle cx="1896.1" cy="1916.08" r="5.9"/><circle cx="1946.7" cy="1916.08" r="5.9"/><circle cx="1900.7" cy="1915.23" r="5.9"/><circle cx="1942.1" cy="1915.23" r="5.9"/><circle cx="1905.3" cy="1914.38" r="5.9"/><circle cx="1937.5" cy="1914.38" r="5.9"/><circle cx="1909.9" cy="1913.53" r="5.9"/><circle cx="1932.9" cy="1913.53" r="5.9"/><circle cx="1914.5" cy="1912.68" r="5.9"/><circle cx="1928.3" cy="1912.68" r="5.9"/><circle cx="1919.1" cy="1911.83" r="5.9"/><circle cx="1923.7" cy="1911.83" r="5.9"/><circle cx="1898.4" cy="1909.92" r="5.9"/><circle cx="1944.4" cy="1909.92" r="5.9"/><circle cx="1903" cy="1909.07" r="5.9"/><circle cx="1939.8" cy="1909.07" r="5.9"/><circle cx="1907.6" cy="1908.22" r="5.9"/><circle cx="1935.2" cy="1908.22" r="5.9"/><circle cx="1912.2" cy="1907.37" r="5.9"/><circle cx="1930.6" cy="1907.37" r="5.9"/><circle cx="1916.8" cy="1906.52" r="5.9"/><circle cx="1926" cy="1906.52" r="5.9"/><circle cx="1921.4" cy="1905.67" r="5.9"/><circle cx="1896.1" cy="1904.45" r="5.9"/><circle cx="1946.7" cy="1904.45" r="5.9"/><circle cx="1900.7" cy="1903.6" r="5.9"/><circle cx="1942.1" cy="1903.6" r="5.9"/><circle cx="1905.3" cy="1902.75" r="5.9"/><circle cx="1937.5" cy="1902.75" r="5.9"/><circle cx="1909.9" cy="1901.9" r="5.9"/><circle cx="1932.9" cy="1901.9" r="5.9"/><circle cx="1914.5" cy="1901.05" r="5.9"/><circle cx="1928.3" cy="1901.05" r="5.9"/><circle cx="1919.1" cy="1900.2" r="5.9"/><circle cx="1923.7" cy="1900.2" r="5.9"/><circle cx="1898.4" cy="1898.3" r="5.9"/><circle cx="1944.4" cy="1898.3" r="5.9"/><circle cx="1903" cy="1897.45" r="5.9"/><circle cx="1939.8" cy="1897.45" r="5.9"/><circle cx="1907.6" cy="1896.6" r="5.9"/><circle cx="1935.2" cy="1896.6" r="5.9"/><circle cx="1912.2" cy="1895.75" r="5.9"/><circle cx="1930.6" cy="1895.75" r="5.9"/><circle cx="1916.8" cy="1894.9" r="5.9"/><circle cx="1926" cy="1894.9" r="5.9"/><circle cx="1921.4" cy="1894.05" r="5.9"/><circle cx="1896.1" cy="1892.83" r="5.9"/><circle cx="1946.7" cy="1892.83" r="5.9"/><circle cx="1900.7" cy="1891.98" r="5.9"/><circle cx="1942.1" cy="1891.98" r="5.9"/><circle cx="1905.3" cy="1891.13" r="5.9"/><circle cx="1937.5" cy="1891.13" r="5.9"/><circle cx="1909.9" cy="1890.28" r="5.9"/><circle cx="1932.9" cy="1890.28" r="5.9"/><circle cx="1914.5" cy="1889.43" r="5.9"/><circle cx="1928.3" cy="1889.43" r="5.9"/><circle cx="1919.1" cy="1888.58" r="5.9"/><circle cx="1923.7" cy="1888.58" r="5.9"/><circle cx="1898.4" cy="1886.67" r="5.9"/><circle cx="1944.4" cy="1886.67" r="5.9"/><circle cx="1903" cy="1885.82" r="5.9"/><circle cx="1939.8" cy="1885.82" r="5.9"/><circle cx="1907.6" cy="1884.97" r="5.9"/><circle cx="1935.2" cy="1884.97" r="5.9"/><circle cx="1912.2" cy="1884.12" r="5.9"/><circle cx="1930.6" cy="1884.12" r="5.9"/><circle cx="1916.8" cy="1883.27" r="5.9"/><circle cx="1926" cy="1883.27" r="5.9"/><circle cx="1921.4" cy="1882.42" r="5.9"/><circle cx="1900.7" cy="1880.36" r="5.9"/><circle cx="1942.1" cy="1880.36" r="5.9"/><circle cx="1905.3" cy="1879.51" r="5.9"/><circle cx="1937.5" cy="1879.51" r="5.9"/><circle cx="1909.9" cy="1878.66" r="5.9"/><circle cx="1932.9" cy="1878.66" r="5.9"/><circle cx="1914.5" cy="1877.81" r="5.9"/><circle cx="1928.3" cy="1877.81" r="5.9"/><circle cx="1919.1" cy="1876.96" r="5.9"/><circle cx="1923.7" cy="1876.96" r="5.9"/><circle cx="1921.4" cy="1935.11" r="5.9"/><circle cx="1911.07" cy="1868.48" r="5.9"/><circle cx="1921.14" cy="1868.48" r="5.9"/><circle cx="1931.21" cy="1868.48" r="5.9"/><circle cx="1916.49" cy="1862.28" r="5.9"/><circle cx="1925.79" cy="1862.28" r="5.9"/><circle cx="1907.97" cy="1854.53" r="5.9"/><circle cx="1934.31" cy="1854.53" r="5.9"/><circle cx="1916.49" cy="1850.66" r="5.9"/><circle cx="1925.01" cy="1850.66" r="5.9"/><circle cx="1907.97" cy="1842.13" r="5.9"/><circle cx="1934.31" cy="1842.13" r="5.9"/><circle cx="1916.49" cy="1839.34" r="5.9"/><circle cx="1925.32" cy="1838.26" r="5.9"/><circle cx="1921.4" cy="1823.54" r="5.9"/><circle cx="1911.07" cy="1812.38" r="5.9"/><circle cx="1931.52" cy="1808.81" r="5.9"/><circle cx="1921.4" cy="1804.17" r="5.9"/><circle cx="1921.4" cy="1798.74" r="5.9"/><circle cx="1921.4" cy="1745.94" r="5.9"/><circle cx="1921.4" cy="1727.37" r="5.9"/><circle cx="1921.4" cy="1721.66" r="5.9"/><circle cx="1915.4" cy="1699.88" r="5.9"/><circle cx="1927.9" cy="1696.31" r="5.9"/></g>
<g fill="#73fdff" fill-opacity="0.9" stroke="#fff" stroke-width="1.4"><circle cx="1993.4" cy="1948.69" r="5.9"/><circle cx="2041" cy="1948.69" r="5.9"/><circle cx="1995.1" cy="1948.44" r="5.9"/><circle cx="2039.3" cy="1948.44" r="5.9"/><circle cx="1996.8" cy="1948.19" r="5.9"/><circle cx="2037.6" cy="1948.19" r="5.9"/><circle cx="1998.5" cy="1947.94" r="5.9"/><circle cx="2035.9" cy="1947.94" r="5.9"/><circle cx="2000.2" cy="1947.69" r="5.9"/><circle cx="2034.2" cy="1947.69" r="5.9"/><circle cx="2001.9" cy="1947.44" r="5.9"/><circle cx="2032.5" cy="1947.44" r="5.9"/><circle cx="2003.6" cy="1947.19" r="5.9"/><circle cx="2030.8" cy="1947.19" r="5.9"/><circle cx="2005.3" cy="1946.94" r="5.9"/><circle cx="2029.1" cy="1946.94" r="5.9"/><circle cx="2007" cy="1946.69" r="5.9"/><circle cx="2027.4" cy="1946.69" r="5.9"/><circle cx="2008.7" cy="1946.44" r="5.9"/><circle cx="2025.7" cy="1946.44" r="5.9"/><circle cx="2010.4" cy="1946.19" r="5.9"/><circle cx="2024" cy="1946.19" r="5.9"/><circle cx="2012.1" cy="1945.94" r="5.9"/><circle cx="2022.3" cy="1945.94" r="5.9"/><circle cx="2013.8" cy="1945.69" r="5.9"/><circle cx="2020.6" cy="1945.69" r="5.9"/><circle cx="2015.5" cy="1945.44" r="5.9"/><circle cx="2018.9" cy="1945.44" r="5.9"/><circle cx="2017.2" cy="1945.19" r="5.9"/><circle cx="1993.4" cy="1946.36" r="5.9"/><circle cx="2041" cy="1946.36" r="5.9"/><circle cx="1995.1" cy="1946.11" r="5.9"/><circle cx="2039.3" cy="1946.11" r="5.9"/><circle cx="1996.8" cy="1945.86" r="5.9"/><circle cx="2037.6" cy="1945.86" r="5.9"/><circle cx="1998.5" cy="1945.61" r="5.9"/><circle cx="2035.9" cy="1945.61" r="5.9"/><circle cx="2000.2" cy="1945.36" r="5.9"/><circle cx="2034.2" cy="1945.36" r="5.9"/><circle cx="2001.9" cy="1945.11" r="5.9"/><circle cx="2032.5" cy="1945.11" r="5.9"/><circle cx="2003.6" cy="1944.86" r="5.9"/><circle cx="2030.8" cy="1944.86" r="5.9"/><circle cx="2005.3" cy="1944.61" r="5.9"/><circle cx="2029.1" cy="1944.61" r="5.9"/><circle cx="2007" cy="1944.36" r="5.9"/><circle cx="2027.4" cy="1944.36" r="5.9"/><circle cx="2008.7" cy="1944.11" r="5.9"/><circle cx="2025.7" cy="1944.11" r="5.9"/><circle cx="2010.4" cy="1943.86" r="5.9"/><circle cx="2024" cy="1943.86" r="5.9"/><circle cx="2012.1" cy="1943.61" r="5.9"/><circle cx="2022.3" cy="1943.61" r="5.9"/><circle cx="2013.8" cy="1943.36" r="5.9"/><circle cx="2020.6" cy="1943.36" r="5.9"/><circle cx="2015.5" cy="1943.11" r="5.9"/><circle cx="2018.9" cy="1943.11" r="5.9"/><circle cx="2017.2" cy="1942.86" r="5.9"/><circle cx="1993.8" cy="1943.79" r="5.9"/><circle cx="2040.6" cy="1943.79" r="5.9"/><circle cx="1995.6" cy="1943.54" r="5.9"/><circle cx="2038.8" cy="1943.54" r="5.9"/><circle cx="1997.4" cy="1943.29" r="5.9"/><circle cx="2037" cy="1943.29" r="5.9"/><circle cx="1999.2" cy="1943.04" r="5.9"/><circle cx="2035.2" cy="1943.04" r="5.9"/><circle cx="2001" cy="1942.79" r="5.9"/><circle cx="2033.4" cy="1942.79" r="5.9"/><circle cx="2002.8" cy="1942.54" r="5.9"/><circle cx="2031.6" cy="1942.54" r="5.9"/><circle cx="2004.6" cy="1942.29" r="5.9"/><circle cx="2029.8" cy="1942.29" r="5.9"/><circle cx="2006.4" cy="1942.04" r="5.9"/><circle cx="2028" cy="1942.04" r="5.9"/><circle cx="2008.2" cy="1941.79" r="5.9"/><circle cx="2026.2" cy="1941.79" r="5.9"/><circle cx="2010" cy="1941.54" r="5.9"/><circle cx="2024.4" cy="1941.54" r="5.9"/><circle cx="2011.8" cy="1941.29" r="5.9"/><circle cx="2022.6" cy="1941.29" r="5.9"/><circle cx="2013.6" cy="1941.04" r="5.9"/><circle cx="2020.8" cy="1941.04" r="5.9"/><circle cx="2015.4" cy="1940.79" r="5.9"/><circle cx="2019" cy="1940.79" r="5.9"/><circle cx="2017.2" cy="1940.54" r="5.9"/><circle cx="1993.2" cy="1941.21" r="5.9"/><circle cx="2041.2" cy="1941.21" r="5.9"/><circle cx="1995.2" cy="1940.96" r="5.9"/><circle cx="2039.2" cy="1940.96" r="5.9"/><circle cx="1997.2" cy="1940.71" r="5.9"/><circle cx="2037.2" cy="1940.71" r="5.9"/><circle cx="1999.2" cy="1940.46" r="5.9"/><circle cx="2035.2" cy="1940.46" r="5.9"/><circle cx="2001.2" cy="1940.21" r="5.9"/><circle cx="2033.2" cy="1940.21" r="5.9"/><circle cx="2003.2" cy="1939.96" r="5.9"/><circle cx="2031.2" cy="1939.96" r="5.9"/><circle cx="2005.2" cy="1939.71" r="5.9"/><circle cx="2029.2" cy="1939.71" r="5.9"/><circle cx="2007.2" cy="1939.46" r="5.9"/><circle cx="2027.2" cy="1939.46" r="5.9"/><circle cx="2009.2" cy="1939.21" r="5.9"/><circle cx="2025.2" cy="1939.21" r="5.9"/><circle cx="2011.2" cy="1938.96" r="5.9"/><circle cx="2023.2" cy="1938.96" r="5.9"/><circle cx="2013.2" cy="1938.71" r="5.9"/><circle cx="2021.2" cy="1938.71" r="5.9"/><circle cx="2015.2" cy="1938.46" r="5.9"/><circle cx="2019.2" cy="1938.46" r="5.9"/><circle cx="2017.2" cy="1938.21" r="5.9"/><circle cx="1994.2" cy="1938.39" r="5.9"/><circle cx="2040.2" cy="1938.39" r="5.9"/><circle cx="1996.5" cy="1938.14" r="5.9"/><circle cx="2037.9" cy="1938.14" r="5.9"/><circle cx="1998.8" cy="1937.89" r="5.9"/><circle cx="2035.6" cy="1937.89" r="5.9"/><circle cx="2001.1" cy="1937.64" r="5.9"/><circle cx="2033.3" cy="1937.64" r="5.9"/><circle cx="2003.4" cy="1937.39" r="5.9"/><circle cx="2031" cy="1937.39" r="5.9"/><circle cx="2005.7" cy="1937.14" r="5.9"/><circle cx="2028.7" cy="1937.14" r="5.9"/><circle cx="2008" cy="1936.89" r="5.9"/><circle cx="2026.4" cy="1936.89" r="5.9"/><circle cx="2010.3" cy="1936.64" r="5.9"/><circle cx="2024.1" cy="1936.64" r="5.9"/><circle cx="2012.6" cy="1936.39" r="5.9"/><circle cx="2021.8" cy="1936.39" r="5.9"/><circle cx="2014.9" cy="1936.14" r="5.9"/><circle cx="2019.5" cy="1936.14" r="5.9"/><circle cx="2017.2" cy="1935.89" r="5.9"/><circle cx="1993.2" cy="1935.24" r="5.9"/><circle cx="2041.2" cy="1935.24" r="5.9"/><circle cx="1998" cy="1934.44" r="5.9"/><circle cx="2036.4" cy="1934.44" r="5.9"/><circle cx="2002.8" cy="1933.64" r="5.9"/><circle cx="2031.6" cy="1933.64" r="5.9"/><circle cx="2007.6" cy="1932.84" r="5.9"/><circle cx="2026.8" cy="1932.84" r="5.9"/><circle cx="2012.4" cy="1932.04" r="5.9"/><circle cx="2022" cy="1932.04" r="5.9"/><circle cx="2017.2" cy="1931.24" r="5.9"/><circle cx="2000.4" cy="1928.61" r="5.9"/><circle cx="2034" cy="1928.61" r="5.9"/><circle cx="2005.2" cy="1927.81" r="5.9"/><circle cx="2029.2" cy="1927.81" r="5.9"/><circle cx="2010" cy="1927.01" r="5.9"/><circle cx="2024.4" cy="1927.01" r="5.9"/><circle cx="2014.8" cy="1926.21" r="5.9"/><circle cx="2019.6" cy="1926.21" r="5.9"/><circle cx="2002.8" cy="1922.79" r="5.9"/><circle cx="2031.6" cy="1922.79" r="5.9"/><circle cx="2007.6" cy="1921.99" r="5.9"/><circle cx="2026.8" cy="1921.99" r="5.9"/><circle cx="2012.4" cy="1921.19" r="5.9"/><circle cx="2022" cy="1921.19" r="5.9"/><circle cx="2017.2" cy="1920.39" r="5.9"/><circle cx="2005.2" cy="1916.97" r="5.9"/><circle cx="2029.2" cy="1916.97" r="5.9"/><circle cx="2010" cy="1916.17" r="5.9"/><circle cx="2024.4" cy="1916.17" r="5.9"/><circle cx="2014.8" cy="1915.37" r="5.9"/><circle cx="2019.6" cy="1915.37" r="5.9"/><circle cx="2012.4" cy="1910.34" r="5.9"/><circle cx="2022" cy="1910.34" r="5.9"/><circle cx="2017.2" cy="1909.54" r="5.9"/><circle cx="2006.8" cy="1901.79" r="5.9"/><circle cx="2027.6" cy="1901.02" r="5.9"/><circle cx="2017.2" cy="1905.67" r="5.9"/><circle cx="2017.2" cy="1896.37" r="5.9"/><circle cx="2017.2" cy="1889.4" r="5.9"/><circle cx="2017.2" cy="1878.55" r="5.9"/><circle cx="2017.2" cy="1868.48" r="5.9"/></g>
<g fill="#8c8c8c" fill-opacity="0.85" stroke="#fff" stroke-width="1.4"><circle cx="2093.1" cy="1946.64" r="5.9"/><circle cx="2131.5" cy="1946.64" r="5.9"/><circle cx="2094.7" cy="1946.39" r="5.9"/><circle cx="2129.9" cy="1946.39" r="5.9"/><circle cx="2096.3" cy="1946.14" r="5.9"/><circle cx="2128.3" cy="1946.14" r="5.9"/><circle cx="2097.9" cy="1945.89" r="5.9"/><circle cx="2126.7" cy="1945.89" r="5.9"/><circle cx="2099.5" cy="1945.64" r="5.9"/><circle cx="2125.1" cy="1945.64" r="5.9"/><circle cx="2101.1" cy="1945.39" r="5.9"/><circle cx="2123.5" cy="1945.39" r="5.9"/><circle cx="2102.7" cy="1945.14" r="5.9"/><circle cx="2121.9" cy="1945.14" r="5.9"/><circle cx="2104.3" cy="1944.89" r="5.9"/><circle cx="2120.3" cy="1944.89" r="5.9"/><circle cx="2105.9" cy="1944.64" r="5.9"/><circle cx="2118.7" cy="1944.64" r="5.9"/><circle cx="2107.5" cy="1944.39" r="5.9"/><circle cx="2117.1" cy="1944.39" r="5.9"/><circle cx="2109.1" cy="1944.14" r="5.9"/><circle cx="2115.5" cy="1944.14" r="5.9"/><circle cx="2110.7" cy="1943.89" r="5.9"/><circle cx="2113.9" cy="1943.89" r="5.9"/><circle cx="2112.3" cy="1943.64" r="5.9"/><circle cx="2093.6" cy="1944.37" r="5.9"/><circle cx="2131" cy="1944.37" r="5.9"/><circle cx="2095.3" cy="1944.12" r="5.9"/><circle cx="2129.3" cy="1944.12" r="5.9"/><circle cx="2097" cy="1943.87" r="5.9"/><circle cx="2127.6" cy="1943.87" r="5.9"/><circle cx="2098.7" cy="1943.62" r="5.9"/><circle cx="2125.9" cy="1943.62" r="5.9"/><circle cx="2100.4" cy="1943.37" r="5.9"/><circle cx="2124.2" cy="1943.37" r="5.9"/><circle cx="2102.1" cy="1943.12" r="5.9"/><circle cx="2122.5" cy="1943.12" r="5.9"/><circle cx="2103.8" cy="1942.87" r="5.9"/><circle cx="2120.8" cy="1942.87" r="5.9"/><circle cx="2105.5" cy="1942.62" r="5.9"/><circle cx="2119.1" cy="1942.62" r="5.9"/><circle cx="2107.2" cy="1942.37" r="5.9"/><circle cx="2117.4" cy="1942.37" r="5.9"/><circle cx="2108.9" cy="1942.12" r="5.9"/><circle cx="2115.7" cy="1942.12" r="5.9"/><circle cx="2110.6" cy="1941.87" r="5.9"/><circle cx="2114" cy="1941.87" r="5.9"/><circle cx="2112.3" cy="1941.62" r="5.9"/><circle cx="2093.3" cy="1942.26" r="5.9"/><circle cx="2131.3" cy="1942.26" r="5.9"/><circle cx="2095.2" cy="1942.01" r="5.9"/><circle cx="2129.4" cy="1942.01" r="5.9"/><circle cx="2097.1" cy="1941.76" r="5.9"/><circle cx="2127.5" cy="1941.76" r="5.9"/><circle cx="2099" cy="1941.51" r="5.9"/><circle cx="2125.6" cy="1941.51" r="5.9"/><circle cx="2100.9" cy="1941.26" r="5.9"/><circle cx="2123.7" cy="1941.26" r="5.9"/><circle cx="2102.8" cy="1941.01" r="5.9"/><circle cx="2121.8" cy="1941.01" r="5.9"/><circle cx="2104.7" cy="1940.76" r="5.9"/><circle cx="2119.9" cy="1940.76" r="5.9"/><circle cx="2106.6" cy="1940.51" r="5.9"/><circle cx="2118" cy="1940.51" r="5.9"/><circle cx="2108.5" cy="1940.26" r="5.9"/><circle cx="2116.1" cy="1940.26" r="5.9"/><circle cx="2110.4" cy="1940.01" r="5.9"/><circle cx="2114.2" cy="1940.01" r="5.9"/><circle cx="2112.3" cy="1939.76" r="5.9"/><circle cx="2096.2" cy="1939.5" r="5.9"/><circle cx="2128.4" cy="1939.5" r="5.9"/><circle cx="2098.5" cy="1939.25" r="5.9"/><circle cx="2126.1" cy="1939.25" r="5.9"/><circle cx="2100.8" cy="1939" r="5.9"/><circle cx="2123.8" cy="1939" r="5.9"/><circle cx="2103.1" cy="1938.75" r="5.9"/><circle cx="2121.5" cy="1938.75" r="5.9"/><circle cx="2105.4" cy="1938.5" r="5.9"/><circle cx="2119.2" cy="1938.5" r="5.9"/><circle cx="2107.7" cy="1938.25" r="5.9"/><circle cx="2116.9" cy="1938.25" r="5.9"/><circle cx="2110" cy="1938" r="5.9"/><circle cx="2114.6" cy="1938" r="5.9"/><circle cx="2112.3" cy="1937.75" r="5.9"/><circle cx="2094.3" cy="1939.76" r="5.9"/><circle cx="2130.3" cy="1939.76" r="5.9"/><circle cx="2098.3" cy="1935.11" r="5.9"/><circle cx="2126.3" cy="1935.11" r="5.9"/><circle cx="2101.8" cy="1930.77" r="5.9"/><circle cx="2122.8" cy="1930.77" r="5.9"/><circle cx="2112.3" cy="1927.05" r="5.9"/></g>
<rect x="1909.7" y="1880.45" width="23.4" height="8" fill="#000"/>
<rect x="2005.5" y="1927.58" width="23.4" height="8" fill="#000"/>
<rect x="2100.6" y="1933.64" width="23.4" height="8" fill="#000"/>
<line x1="1921.4" y1="1682.3" x2="2017.2" y2="1682.3" stroke="#000" stroke-width="1.3"/>
<text x="1969.3" y="1688.8" font-size="27" fill="#000" text-anchor="middle">***</text>
<line x1="1921.4" y1="1708.6" x2="2112.3" y2="1708.6" stroke="#000" stroke-width="1.3"/>
<text x="2016.85" y="1715.1" font-size="27" fill="#000" text-anchor="middle">***</text>
<line x1="2017.2" y1="1732.3" x2="2112.3" y2="1732.3" stroke="#000" stroke-width="1.3"/>
<text x="2064.75" y="1738.8" font-size="27" fill="#000" text-anchor="middle">**</text>
<text transform="translate(1867.4 1949.06) scale(0.9 1)" font-size="33.5" fill="#000" text-anchor="end">0</text><text transform="translate(1867.4 1879.96) scale(0.9 1)" font-size="33.5" fill="#000" text-anchor="end">20</text><text transform="translate(1867.4 1810.86) scale(0.9 1)" font-size="33.5" fill="#000" text-anchor="end">40</text><text transform="translate(1867.4 1741.76) scale(0.9 1)" font-size="33.5" fill="#000" text-anchor="end">60</text><text transform="translate(1867.4 1672.66) scale(0.9 1)" font-size="33.5" fill="#000" text-anchor="end">80</text>
<text transform="translate(1786.7 1799.9) rotate(-90)" font-size="29.1" fill="#000" text-anchor="middle">Envelope disassembly</text>
<text transform="translate(1822 1796) rotate(-90)" font-size="29.5" fill="#000" text-anchor="middle">rate (nm/s)</text>
<text transform="translate(1948.8 1968.4) rotate(-45)" font-size="29.2" fill="#ff40ff" text-anchor="end">active Cdk5</text>
<text transform="translate(2041.2 1968.6) rotate(-45)" font-size="29.2" fill="#73fdff" text-anchor="end">deactivated</text>
<text transform="translate(2040.6 2017) rotate(-45)" font-size="29.2" fill="#73fdff" text-anchor="end">Cdk5</text>
<text transform="translate(2138.5 1971.4) rotate(-45)" font-size="29" fill="#595959" text-anchor="end">Control</text>
<text x="1724.7" y="1652.3" font-size="62.5" fill="#000" text-anchor="start">g</text>
</svg>
</body></html>
